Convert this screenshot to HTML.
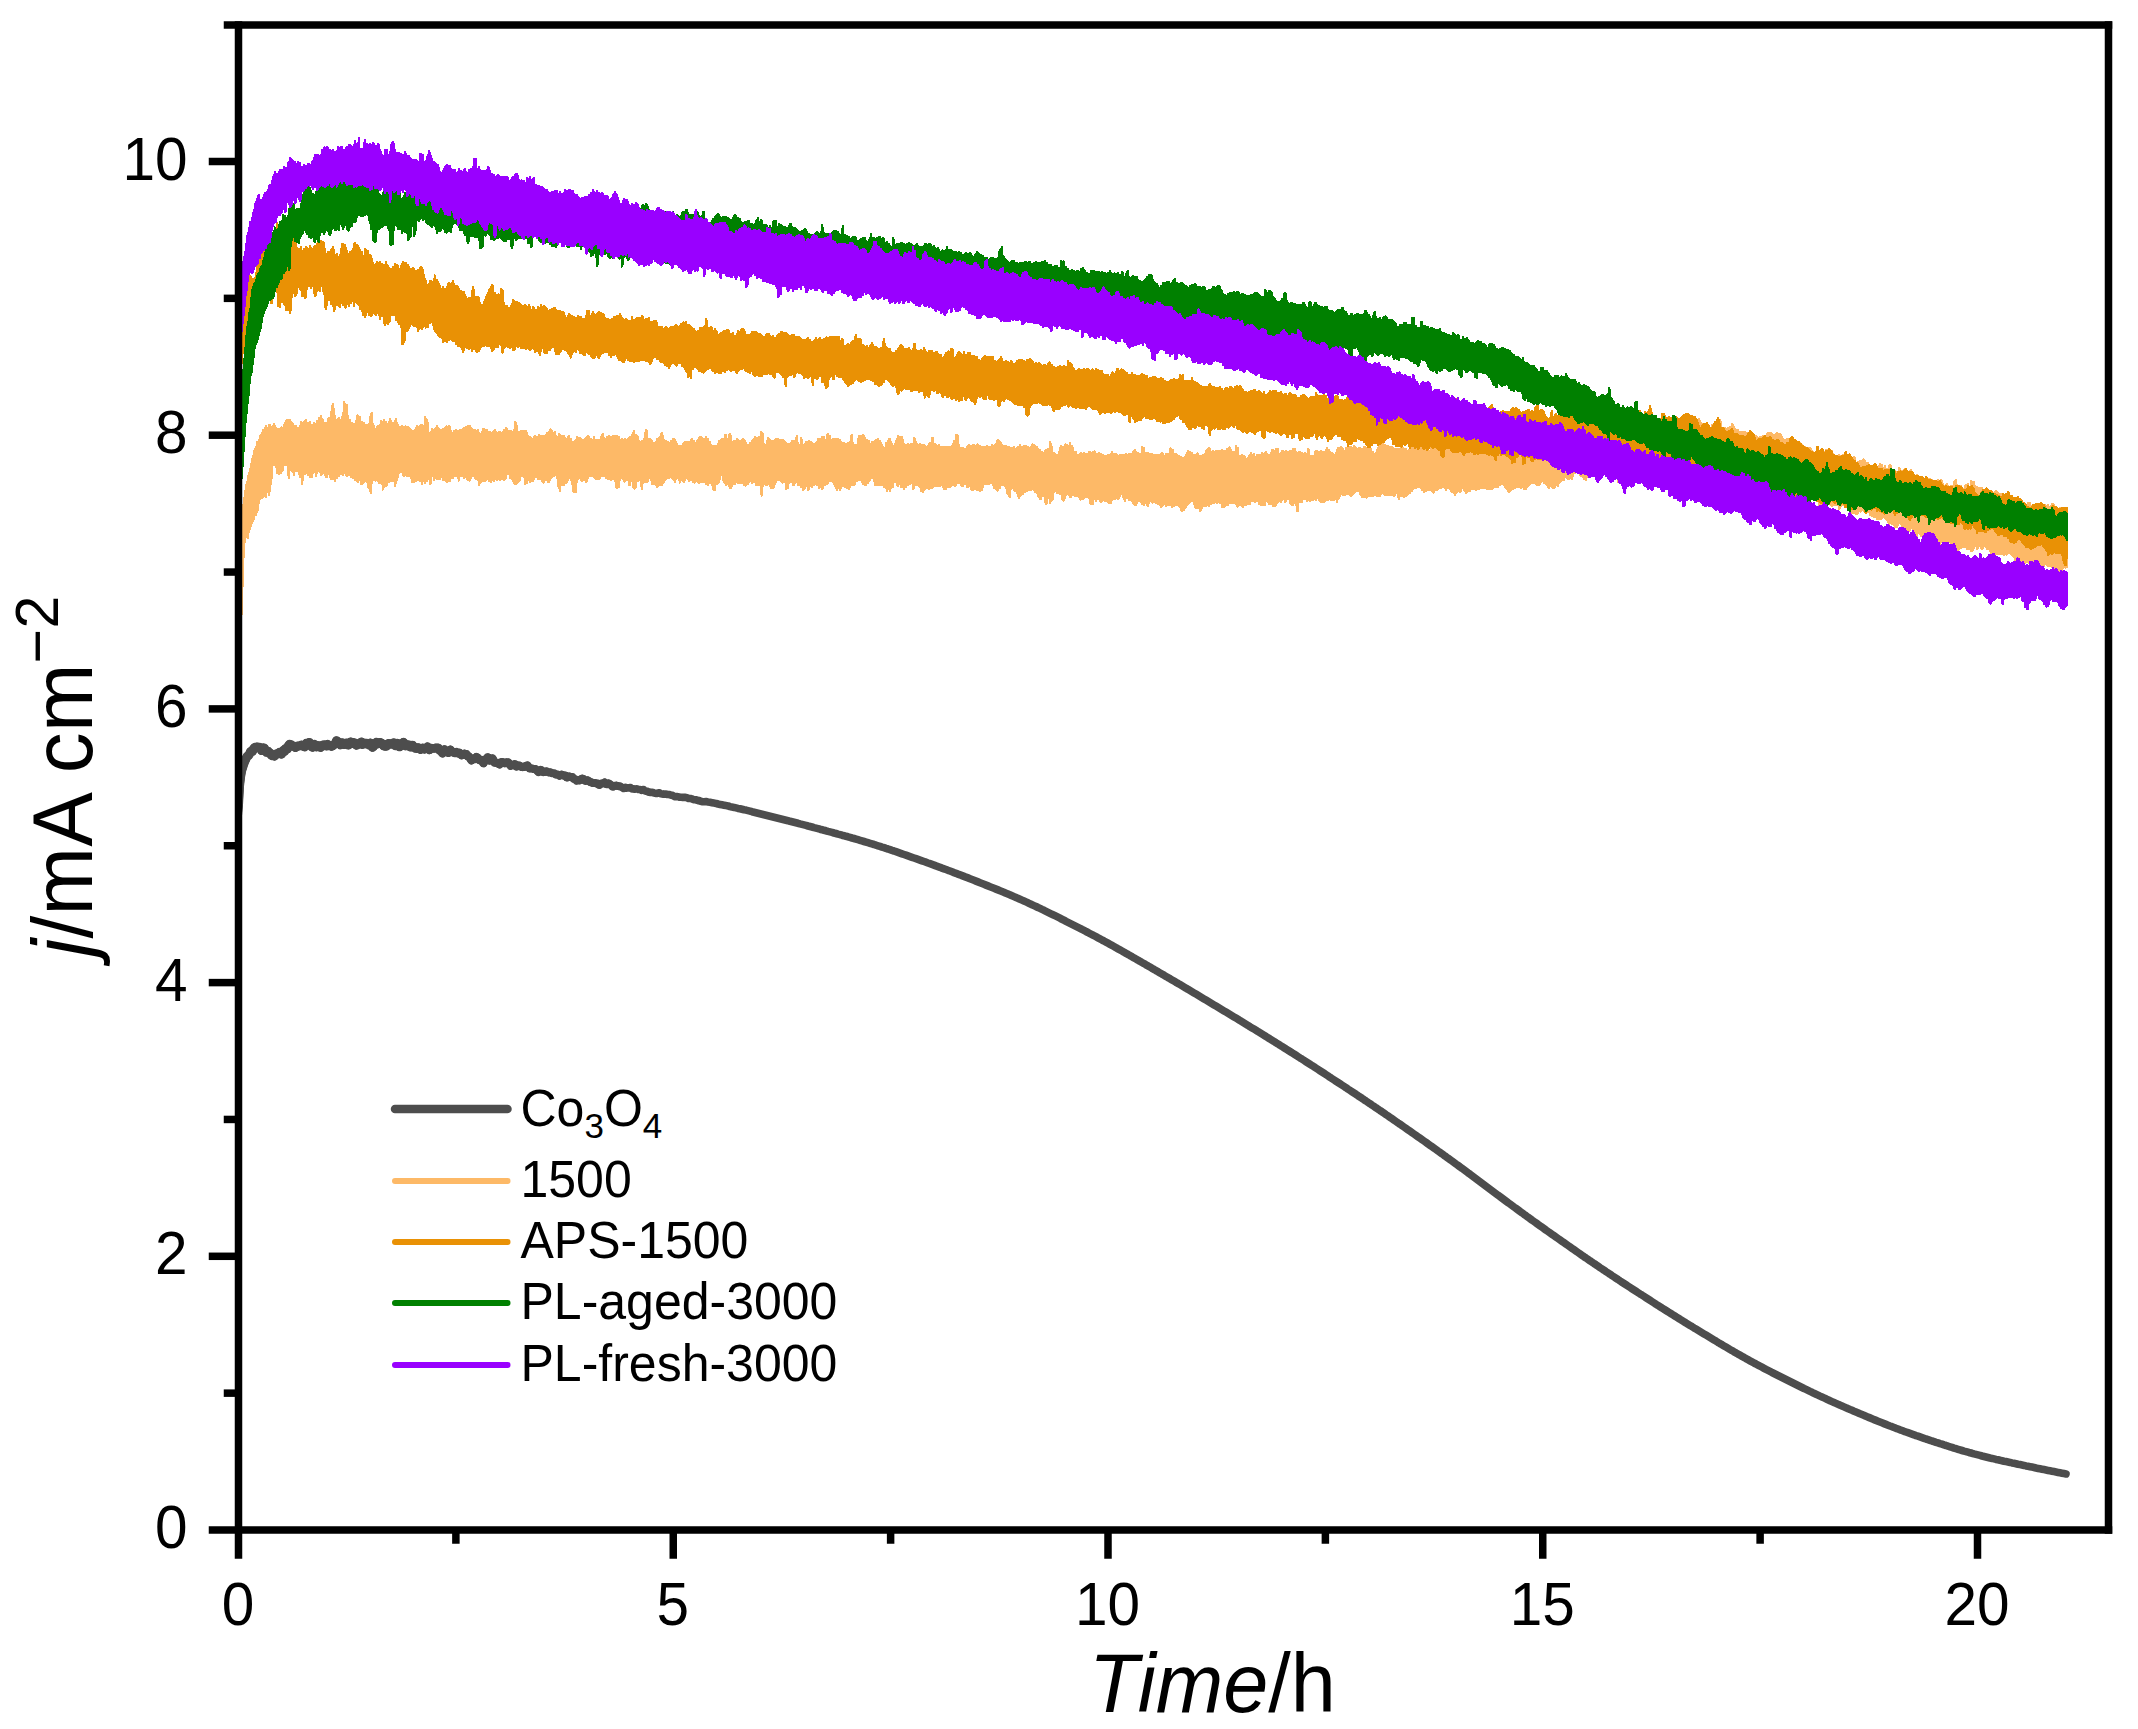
<!DOCTYPE html>
<html lang="en">
<head>
<meta charset="utf-8">
<title>Chronoamperometry: j/mA cm-2 vs Time/h</title>
<style>
html,body{margin:0;padding:0;background:#fff;}
body{width:2138px;height:1729px;overflow:hidden;font-family:'Liberation Sans', sans-serif;}
svg{display:block;}
</style>
</head>
<body>
<svg width="2138" height="1729" viewBox="0 0 2138 1729">
<rect width="2138" height="1729" fill="#fff"/>
<defs><clipPath id="plot"><rect x="238.5" y="25.0" width="1870.0" height="1505.0"/></clipPath></defs>
<g id="curves" clip-path="url(#plot)">
<path d="M237.5,815.0 238.5,804.0 239.5,785.7 240.5,777.1 241.5,771.0 242.5,767.8 243.5,764.6 244.5,761.9 245.5,759.8 246.5,757.6 247.5,756.0 248.5,755.5 249.5,754.0 250.5,751.7 251.5,751.0 252.5,751.2 253.5,748.9 254.5,747.7 255.5,747.3 256.5,747.1 257.5,747.0 258.5,747.4 259.5,747.3 260.5,748.2 261.5,750.5 262.5,749.9 263.5,747.9 264.5,748.4 265.5,750.9 266.5,752.3 267.5,752.1 268.5,751.7 269.5,753.4 270.5,753.3 271.5,755.4 272.5,755.8 273.5,755.5 274.5,756.1 275.5,755.1 276.5,753.8 277.5,754.0 278.5,753.7 279.5,752.4 280.5,752.3 281.5,754.1 282.5,751.8 283.5,750.3 284.5,751.4 285.5,748.7 286.5,749.2 287.5,749.0 288.5,745.6 289.5,744.4 290.5,745.6 291.5,745.0 292.5,745.8 293.5,746.2 294.5,746.3 295.5,747.5 296.5,746.7 297.5,746.1 298.5,746.1 299.5,745.9 300.5,745.6 301.5,745.0 302.5,745.3 303.5,746.4 304.5,746.8 305.5,744.6 306.5,743.2 307.5,744.3 308.5,742.7 309.5,742.5 310.5,744.7 311.5,746.5 312.5,747.2 313.5,745.3 314.5,744.5 315.5,745.2 316.5,746.9 317.5,746.7 318.5,745.7 319.5,747.0 320.5,747.4 321.5,746.3 322.5,745.2 323.5,745.0 324.5,744.9 325.5,745.7 326.5,746.0 327.5,744.4 328.5,745.4 329.5,745.4 330.5,745.6 331.5,746.3 332.5,745.9 333.5,745.0 334.5,744.3 335.5,743.2 336.5,740.8 337.5,741.5 338.5,742.1 339.5,742.5 340.5,744.7 341.5,744.3 342.5,742.9 343.5,743.7 344.5,744.4 345.5,744.1 346.5,743.2 347.5,743.8 348.5,745.0 349.5,742.7 350.5,742.0 351.5,743.4 352.5,742.7 353.5,742.5 354.5,743.0 355.5,743.2 356.5,745.2 357.5,744.5 358.5,744.3 359.5,743.8 360.5,742.8 361.5,742.1 362.5,744.4 363.5,743.1 364.5,743.8 365.5,743.4 366.5,743.2 367.5,744.2 368.5,744.2 369.5,745.1 370.5,743.0 371.5,744.2 372.5,747.3 373.5,746.5 374.5,744.5 375.5,743.8 376.5,742.3 377.5,743.8 378.5,743.5 379.5,742.6 380.5,742.6 381.5,743.2 382.5,743.7 383.5,745.7 384.5,746.1 385.5,746.2 386.5,746.1 387.5,744.4 388.5,743.6 389.5,744.0 390.5,743.8 391.5,744.1 392.5,743.6 393.5,742.9 394.5,743.0 395.5,745.6 396.5,745.5 397.5,743.4 398.5,744.6 399.5,746.8 400.5,745.6 401.5,744.1 402.5,744.0 403.5,742.3 404.5,744.1 405.5,745.8 406.5,745.6 407.5,745.0 408.5,744.9 409.5,746.5 410.5,747.0 411.5,746.6 412.5,745.2 413.5,746.7 414.5,747.5 415.5,748.2 416.5,748.4 417.5,747.8 418.5,747.7 419.5,748.4 420.5,749.7 421.5,748.5 422.5,747.9 423.5,748.9 424.5,749.4 425.5,748.9 426.5,748.5 427.5,746.6 428.5,747.9 429.5,750.0 430.5,749.0 431.5,748.1 432.5,748.4 433.5,748.5 434.5,748.5 435.5,747.7 436.5,747.8 437.5,747.7 438.5,747.9 439.5,750.5 440.5,750.4 441.5,752.0 442.5,753.3 443.5,751.8 444.5,749.5 445.5,751.6 446.5,751.5 447.5,751.3 448.5,752.7 449.5,751.5 450.5,749.8 451.5,751.1 452.5,752.1 453.5,752.2 454.5,752.9 455.5,752.9 456.5,752.2 457.5,753.0 458.5,753.5 459.5,752.9 460.5,754.1 461.5,755.1 462.5,754.8 463.5,754.1 464.5,753.7 465.5,754.9 466.5,754.4 467.5,756.1 468.5,756.2 469.5,757.4 470.5,758.8 471.5,760.2 472.5,758.9 473.5,758.6 474.5,759.1 475.5,758.9 476.5,757.2 477.5,757.6 478.5,759.1 479.5,760.0 480.5,759.8 481.5,760.1 482.5,761.6 483.5,763.1 484.5,760.3 485.5,759.5 486.5,759.3 487.5,757.5 488.5,757.7 489.5,760.4 490.5,760.2 491.5,758.8 492.5,758.6 493.5,760.8 494.5,762.5 495.5,762.5 496.5,762.8 497.5,763.0 498.5,763.6 499.5,764.3 500.5,763.3 501.5,762.1 502.5,762.1 503.5,762.2 504.5,763.3 505.5,763.0 506.5,762.3 507.5,763.3 508.5,762.5 509.5,763.7 510.5,765.8 511.5,764.9 512.5,765.0 513.5,765.4 514.5,764.1 515.5,764.4 516.5,766.6 517.5,766.4 518.5,765.5 519.5,765.6 520.5,766.3 521.5,767.0 522.5,767.2 523.5,766.5 524.5,766.9 525.5,766.8 526.5,765.6 527.5,765.3 528.5,766.7 529.5,768.5 530.5,768.3 531.5,768.5 532.5,768.5 533.5,769.0 534.5,769.2 535.5,769.1 536.5,770.1 537.5,771.1 538.5,772.1 539.5,771.2 540.5,769.9 541.5,770.2 542.5,771.9 543.5,772.2 544.5,772.0 545.5,771.5 546.5,771.3 547.5,771.9 548.5,772.4 549.5,772.3 550.5,772.3 551.5,772.8 552.5,773.3 553.5,773.3 554.5,773.5 555.5,774.3 556.5,774.6 557.5,774.6 558.5,774.7 559.5,775.8 560.5,775.2 561.5,774.6 562.5,774.8 563.5,775.6 564.5,775.5 565.5,775.6 566.5,777.5 567.5,777.4 568.5,776.5 569.5,776.4 570.5,777.0 571.5,777.2 572.5,777.1 573.5,778.7 574.5,779.1 575.5,779.3 576.5,780.6 577.5,780.3 578.5,779.9 579.5,780.4 580.5,779.8 581.5,778.7 582.5,778.6 583.5,779.0 584.5,780.4 585.5,780.9 586.5,780.6 587.5,780.2 588.5,780.9 589.5,781.6 590.5,782.2 591.5,782.3 592.5,783.0 593.5,783.1 594.5,782.9 595.5,783.2 596.5,783.5 597.5,783.6 598.5,784.6 599.5,784.9 600.5,783.9 601.5,783.5 602.5,783.4 603.5,783.2 604.5,782.5 605.5,783.6 606.5,784.3 607.5,784.3 608.5,783.4 609.5,783.9 610.5,784.7 611.5,785.4 612.5,786.6 613.5,786.6 614.5,785.7 615.5,785.7 616.5,785.6 617.5,786.0 618.5,786.2 619.5,786.2 620.5,786.6 621.5,787.0 622.5,787.8 623.5,788.4 624.5,787.8 625.5,787.4 626.5,788.2 627.5,787.9 628.5,787.9 629.5,787.8 630.5,787.5 631.5,788.6 632.5,789.0 633.5,788.9 634.5,789.3 635.5,789.1 636.5,788.7 637.5,789.2 638.5,789.5 639.5,789.5 640.5,789.7 641.5,790.4 642.5,789.7 643.5,789.5 644.5,790.7 645.5,791.2 646.5,791.0 647.5,791.5 648.5,792.0 649.5,792.3 650.5,792.5 651.5,792.2 652.5,792.2 653.5,792.9 654.5,793.2 655.5,793.2 656.5,793.5 657.5,793.2 658.5,792.9 659.5,792.9 660.5,793.8 661.5,793.8 662.5,794.1 663.5,794.3 664.5,794.0 665.5,794.0 666.5,794.2 667.5,794.5 668.5,794.5 669.5,794.6 670.5,795.0 671.5,795.2 672.5,795.3 673.5,796.0 674.5,796.6 675.5,796.5 676.5,796.5 677.5,796.8 678.5,796.7 679.5,797.1 680.5,797.2 681.5,797.3 682.5,797.4 683.5,797.3 684.5,797.5 685.5,797.4 686.5,797.7 687.5,798.0 688.5,798.4 689.5,798.5 690.5,798.5 691.5,798.7 692.5,799.2 693.5,799.7 694.5,799.7 695.5,799.7 696.5,800.0 697.5,800.3 698.5,800.7 699.5,800.6 700.0,801.0 702.0,801.6 704.0,801.7 706.0,801.6 708.0,802.0 710.0,802.3 712.0,802.7 714.0,803.1 716.0,803.4 718.0,804.0 720.0,804.4 722.0,804.8 724.0,805.2 726.0,805.6 728.0,805.9 730.0,806.6 732.0,807.1 734.0,807.4 736.0,807.9 738.0,808.4 740.0,808.8 742.0,809.3 744.0,809.8 746.0,810.1 748.0,810.6 750.0,811.1 752.0,811.7 754.0,812.2 756.0,812.7 758.0,813.2 760.0,813.7 762.0,814.2 764.0,814.7 766.0,815.2 768.0,815.7 770.0,816.2 772.0,816.7 774.0,817.2 776.0,817.7 778.0,818.2 780.0,818.7 782.0,819.2 784.0,819.7 786.0,820.2 788.0,820.7 790.0,821.3 792.0,821.8 794.0,822.3 796.0,822.8 798.0,823.3 800.0,823.9 802.0,824.4 804.0,824.9 806.0,825.4 808.0,826.0 810.0,826.5 812.0,827.0 814.0,827.6 816.0,828.1 818.0,828.6 820.0,829.2 822.0,829.7 824.0,830.3 826.0,830.8 828.0,831.4 830.0,831.9 832.0,832.4 834.0,833.0 836.0,833.5 838.0,834.1 840.0,834.6 842.0,835.2 844.0,835.7 846.0,836.3 848.0,836.8 850.0,837.4 852.0,838.0 854.0,838.5 856.0,839.1 858.0,839.7 860.0,840.3 862.0,840.9 864.0,841.5 866.0,842.1 868.0,842.7 870.0,843.3 872.0,843.9 874.0,844.5 876.0,845.2 878.0,845.8 880.0,846.4 882.0,847.1 884.0,847.7 886.0,848.4 888.0,849.0 890.0,849.7 892.0,850.4 894.0,851.0 896.0,851.7 898.0,852.4 900.0,853.1 902.0,853.8 904.0,854.5 906.0,855.2 908.0,855.9 910.0,856.6 912.0,857.3 914.0,858.0 916.0,858.7 918.0,859.4 920.0,860.1 922.0,860.8 924.0,861.5 926.0,862.2 928.0,863.0 930.0,863.7 932.0,864.4 934.0,865.1 936.0,865.9 938.0,866.6 940.0,867.3 942.0,868.1 944.0,868.8 946.0,869.5 948.0,870.3 950.0,871.0 952.0,871.8 954.0,872.6 956.0,873.3 958.0,874.1 960.0,874.8 962.0,875.6 964.0,876.4 966.0,877.2 968.0,877.9 970.0,878.7 972.0,879.5 974.0,880.3 976.0,881.1 978.0,881.9 980.0,882.7 982.0,883.5 984.0,884.3 986.0,885.1 988.0,885.9 990.0,886.7 992.0,887.5 994.0,888.3 996.0,889.1 998.0,889.9 1000.0,890.7 1002.0,891.5 1004.0,892.4 1006.0,893.2 1008.0,894.0 1010.0,894.9 1012.0,895.7 1014.0,896.6 1016.0,897.5 1018.0,898.4 1020.0,899.2 1022.0,900.1 1024.0,901.0 1026.0,901.9 1028.0,902.8 1030.0,903.8 1032.0,904.7 1034.0,905.6 1036.0,906.5 1038.0,907.5 1040.0,908.4 1042.0,909.4 1044.0,910.3 1046.0,911.3 1048.0,912.3 1050.0,913.3 1052.0,914.3 1054.0,915.2 1056.0,916.2 1058.0,917.2 1060.0,918.2 1062.0,919.3 1064.0,920.2 1066.0,921.3 1068.0,922.3 1070.0,923.3 1072.0,924.3 1074.0,925.3 1076.0,926.3 1078.0,927.3 1080.0,928.3 1082.0,929.4 1084.0,930.4 1086.0,931.5 1088.0,932.5 1090.0,933.6 1092.0,934.6 1094.0,935.7 1096.0,936.7 1098.0,937.8 1100.0,938.9 1102.0,940.0 1104.0,941.0 1106.0,942.1 1108.0,943.2 1110.0,944.3 1112.0,945.4 1114.0,946.5 1116.0,947.7 1118.0,948.8 1120.0,949.9 1122.0,951.0 1124.0,952.2 1126.0,953.3 1128.0,954.4 1130.0,955.6 1132.0,956.7 1134.0,957.9 1136.0,959.0 1138.0,960.2 1140.0,961.3 1142.0,962.5 1144.0,963.6 1146.0,964.8 1148.0,965.9 1150.0,967.1 1152.0,968.3 1154.0,969.4 1156.0,970.6 1158.0,971.7 1160.0,972.9 1162.0,974.1 1164.0,975.2 1166.0,976.4 1168.0,977.6 1170.0,978.7 1172.0,979.9 1174.0,981.1 1176.0,982.3 1178.0,983.4 1180.0,984.6 1182.0,985.8 1184.0,987.0 1186.0,988.2 1188.0,989.3 1190.0,990.5 1192.0,991.7 1194.0,992.9 1196.0,994.1 1198.0,995.3 1200.0,996.5 1202.0,997.7 1204.0,998.9 1206.0,1000.1 1208.0,1001.3 1210.0,1002.5 1212.0,1003.7 1214.0,1004.9 1216.0,1006.1 1218.0,1007.3 1220.0,1008.5 1222.0,1009.7 1224.0,1010.9 1226.0,1012.1 1228.0,1013.3 1230.0,1014.5 1232.0,1015.7 1234.0,1016.9 1236.0,1018.1 1238.0,1019.3 1240.0,1020.6 1242.0,1021.8 1244.0,1023.0 1246.0,1024.2 1248.0,1025.4 1250.0,1026.7 1252.0,1027.9 1254.0,1029.1 1256.0,1030.3 1258.0,1031.6 1260.0,1032.8 1262.0,1034.0 1264.0,1035.2 1266.0,1036.5 1268.0,1037.7 1270.0,1039.0 1272.0,1040.2 1274.0,1041.4 1276.0,1042.7 1278.0,1043.9 1280.0,1045.2 1282.0,1046.4 1284.0,1047.7 1286.0,1049.0 1288.0,1050.2 1290.0,1051.5 1292.0,1052.8 1294.0,1054.0 1296.0,1055.3 1298.0,1056.6 1300.0,1057.9 1302.0,1059.1 1304.0,1060.4 1306.0,1061.7 1308.0,1063.0 1310.0,1064.3 1312.0,1065.6 1314.0,1066.8 1316.0,1068.1 1318.0,1069.4 1320.0,1070.7 1322.0,1072.0 1324.0,1073.3 1326.0,1074.6 1328.0,1075.9 1330.0,1077.3 1332.0,1078.6 1334.0,1079.9 1336.0,1081.2 1338.0,1082.5 1340.0,1083.8 1342.0,1085.1 1344.0,1086.4 1346.0,1087.7 1348.0,1089.1 1350.0,1090.4 1352.0,1091.7 1354.0,1093.0 1356.0,1094.3 1358.0,1095.7 1360.0,1097.0 1362.0,1098.3 1364.0,1099.7 1366.0,1101.0 1368.0,1102.4 1370.0,1103.7 1372.0,1105.1 1374.0,1106.4 1376.0,1107.8 1378.0,1109.1 1380.0,1110.5 1382.0,1111.8 1384.0,1113.2 1386.0,1114.6 1388.0,1115.9 1390.0,1117.3 1392.0,1118.7 1394.0,1120.1 1396.0,1121.5 1398.0,1122.9 1400.0,1124.2 1402.0,1125.6 1404.0,1127.0 1406.0,1128.4 1408.0,1129.8 1410.0,1131.2 1412.0,1132.6 1414.0,1134.0 1416.0,1135.4 1418.0,1136.8 1420.0,1138.2 1422.0,1139.6 1424.0,1141.0 1426.0,1142.4 1428.0,1143.9 1430.0,1145.3 1432.0,1146.7 1434.0,1148.1 1436.0,1149.5 1438.0,1151.0 1440.0,1152.4 1442.0,1153.8 1444.0,1155.3 1446.0,1156.7 1448.0,1158.2 1450.0,1159.6 1452.0,1161.0 1454.0,1162.5 1456.0,1164.0 1458.0,1165.4 1460.0,1166.9 1462.0,1168.3 1464.0,1169.8 1466.0,1171.3 1468.0,1172.8 1470.0,1174.2 1472.0,1175.7 1474.0,1177.2 1476.0,1178.7 1478.0,1180.2 1480.0,1181.7 1482.0,1183.2 1484.0,1184.7 1486.0,1186.2 1488.0,1187.7 1490.0,1189.2 1492.0,1190.7 1494.0,1192.2 1496.0,1193.7 1498.0,1195.2 1500.0,1196.6 1502.0,1198.1 1504.0,1199.6 1506.0,1201.1 1508.0,1202.6 1510.0,1204.0 1512.0,1205.5 1514.0,1207.0 1516.0,1208.4 1518.0,1209.9 1520.0,1211.4 1522.0,1212.8 1524.0,1214.3 1526.0,1215.7 1528.0,1217.2 1530.0,1218.6 1532.0,1220.1 1534.0,1221.5 1536.0,1222.9 1538.0,1224.4 1540.0,1225.8 1542.0,1227.2 1544.0,1228.6 1546.0,1230.1 1548.0,1231.5 1550.0,1232.9 1552.0,1234.3 1554.0,1235.7 1556.0,1237.1 1558.0,1238.5 1560.0,1239.9 1562.0,1241.3 1564.0,1242.7 1566.0,1244.1 1568.0,1245.5 1570.0,1246.9 1572.0,1248.3 1574.0,1249.7 1576.0,1251.1 1578.0,1252.5 1580.0,1253.9 1582.0,1255.3 1584.0,1256.7 1586.0,1258.0 1588.0,1259.4 1590.0,1260.8 1592.0,1262.1 1594.0,1263.5 1596.0,1264.8 1598.0,1266.2 1600.0,1267.6 1602.0,1268.9 1604.0,1270.2 1606.0,1271.6 1608.0,1272.9 1610.0,1274.2 1612.0,1275.6 1614.0,1276.9 1616.0,1278.2 1618.0,1279.5 1620.0,1280.9 1622.0,1282.2 1624.0,1283.5 1626.0,1284.8 1628.0,1286.1 1630.0,1287.4 1632.0,1288.7 1634.0,1290.0 1636.0,1291.3 1638.0,1292.6 1640.0,1293.9 1642.0,1295.1 1644.0,1296.4 1646.0,1297.7 1648.0,1299.0 1650.0,1300.3 1652.0,1301.6 1654.0,1302.9 1656.0,1304.2 1658.0,1305.4 1660.0,1306.7 1662.0,1308.0 1664.0,1309.2 1666.0,1310.5 1668.0,1311.8 1670.0,1313.0 1672.0,1314.3 1674.0,1315.5 1676.0,1316.8 1678.0,1318.0 1680.0,1319.3 1682.0,1320.5 1684.0,1321.7 1686.0,1323.0 1688.0,1324.2 1690.0,1325.4 1692.0,1326.6 1694.0,1327.9 1696.0,1329.1 1698.0,1330.3 1700.0,1331.5 1702.0,1332.7 1704.0,1333.9 1706.0,1335.1 1708.0,1336.3 1710.0,1337.5 1712.0,1338.7 1714.0,1339.9 1716.0,1341.1 1718.0,1342.4 1720.0,1343.6 1722.0,1344.7 1724.0,1345.9 1726.0,1347.1 1728.0,1348.3 1730.0,1349.5 1732.0,1350.6 1734.0,1351.8 1736.0,1352.9 1738.0,1354.1 1740.0,1355.2 1742.0,1356.3 1744.0,1357.4 1746.0,1358.6 1748.0,1359.7 1750.0,1360.8 1752.0,1361.9 1754.0,1363.0 1756.0,1364.0 1758.0,1365.1 1760.0,1366.2 1762.0,1367.2 1764.0,1368.3 1766.0,1369.4 1768.0,1370.4 1770.0,1371.4 1772.0,1372.5 1774.0,1373.5 1776.0,1374.5 1778.0,1375.5 1780.0,1376.5 1782.0,1377.5 1784.0,1378.5 1786.0,1379.5 1788.0,1380.5 1790.0,1381.5 1792.0,1382.5 1794.0,1383.5 1796.0,1384.5 1798.0,1385.5 1800.0,1386.5 1802.0,1387.5 1804.0,1388.5 1806.0,1389.4 1808.0,1390.4 1810.0,1391.4 1812.0,1392.3 1814.0,1393.3 1816.0,1394.2 1818.0,1395.1 1820.0,1396.1 1822.0,1397.0 1824.0,1397.9 1826.0,1398.8 1828.0,1399.8 1830.0,1400.7 1832.0,1401.6 1834.0,1402.5 1836.0,1403.4 1838.0,1404.3 1840.0,1405.1 1842.0,1406.0 1844.0,1406.9 1846.0,1407.8 1848.0,1408.6 1850.0,1409.5 1852.0,1410.3 1854.0,1411.2 1856.0,1412.0 1858.0,1412.9 1860.0,1413.7 1862.0,1414.5 1864.0,1415.4 1866.0,1416.2 1868.0,1417.1 1870.0,1417.9 1872.0,1418.7 1874.0,1419.6 1876.0,1420.4 1878.0,1421.2 1880.0,1422.0 1882.0,1422.8 1884.0,1423.6 1886.0,1424.4 1888.0,1425.2 1890.0,1426.0 1892.0,1426.7 1894.0,1427.5 1896.0,1428.3 1898.0,1429.0 1900.0,1429.8 1902.0,1430.5 1904.0,1431.3 1906.0,1432.0 1908.0,1432.7 1910.0,1433.4 1912.0,1434.1 1914.0,1434.8 1916.0,1435.6 1918.0,1436.2 1920.0,1436.9 1922.0,1437.6 1924.0,1438.3 1926.0,1439.0 1928.0,1439.6 1930.0,1440.3 1932.0,1441.0 1934.0,1441.6 1936.0,1442.3 1938.0,1442.9 1940.0,1443.6 1942.0,1444.2 1944.0,1444.9 1946.0,1445.5 1948.0,1446.2 1950.0,1446.8 1952.0,1447.4 1954.0,1448.1 1956.0,1448.7 1958.0,1449.3 1960.0,1449.9 1962.0,1450.5 1964.0,1451.1 1966.0,1451.6 1968.0,1452.2 1970.0,1452.8 1972.0,1453.3 1974.0,1453.9 1976.0,1454.4 1978.0,1454.9 1980.0,1455.4 1982.0,1456.0 1984.0,1456.5 1986.0,1457.0 1988.0,1457.5 1990.0,1458.0 1992.0,1458.4 1994.0,1458.9 1996.0,1459.4 1998.0,1459.8 2000.0,1460.3 2002.0,1460.7 2004.0,1461.2 2006.0,1461.6 2008.0,1462.0 2010.0,1462.4 2012.0,1462.9 2014.0,1463.3 2016.0,1463.7 2018.0,1464.2 2020.0,1464.6 2022.0,1465.0 2024.0,1465.4 2026.0,1465.9 2028.0,1466.3 2030.0,1466.7 2032.0,1467.1 2034.0,1467.5 2036.0,1468.0 2038.0,1468.4 2040.0,1468.8 2042.0,1469.2 2044.0,1469.6 2046.0,1470.0 2048.0,1470.4 2050.0,1470.8 2052.0,1471.2 2054.0,1471.6 2056.0,1472.0 2058.0,1472.4 2060.0,1472.8 2062.0,1473.2 2064.0,1473.6 2066.0,1474.0" fill="none" stroke="#4d4d4d" stroke-width="7.6" stroke-linejoin="round" stroke-linecap="round"/>
<path d="M237.5,815.0 238.5,804.0 239.5,785.7 240.5,777.1 241.5,771.0 242.5,767.8 243.5,764.6 244.5,761.9 245.5,759.8 246.5,757.6 247.5,756.0 248.5,755.5 249.5,754.0 250.5,751.7 251.5,751.0 252.5,751.2 253.5,748.9 254.5,747.7 255.5,747.3 256.5,747.1 257.5,747.0 258.5,747.4 259.5,747.3 260.5,748.2 261.5,750.5 262.5,749.9 263.5,747.9 264.5,748.4 265.5,750.9 266.5,752.3 267.5,752.1 268.5,751.7 269.5,753.4 270.5,753.3 271.5,755.4 272.5,755.8 273.5,755.5 274.5,756.1 275.5,755.1 276.5,753.8 277.5,754.0 278.5,753.7 279.5,752.4 280.5,752.3 281.5,754.1 282.5,751.8 283.5,750.3 284.5,751.4 285.5,748.7 286.5,749.2 287.5,749.0 288.5,745.6 289.5,744.4 290.5,745.6 291.5,745.0 292.5,745.8 293.5,746.2 294.5,746.3 295.5,747.5 296.5,746.7 297.5,746.1 298.5,746.1 299.5,745.9 300.5,745.6 301.5,745.0 302.5,745.3 303.5,746.4 304.5,746.8 305.5,744.6 306.5,743.2 307.5,744.3 308.5,742.7 309.5,742.5 310.5,744.7 311.5,746.5 312.5,747.2 313.5,745.3 314.5,744.5 315.5,745.2 316.5,746.9 317.5,746.7 318.5,745.7 319.5,747.0 320.5,747.4 321.5,746.3 322.5,745.2 323.5,745.0 324.5,744.9 325.5,745.7 326.5,746.0 327.5,744.4 328.5,745.4 329.5,745.4 330.5,745.6 331.5,746.3 332.5,745.9 333.5,745.0 334.5,744.3 335.5,743.2 336.5,740.8 337.5,741.5 338.5,742.1 339.5,742.5 340.5,744.7 341.5,744.3 342.5,742.9 343.5,743.7 344.5,744.4 345.5,744.1 346.5,743.2 347.5,743.8 348.5,745.0 349.5,742.7 350.5,742.0 351.5,743.4 352.5,742.7 353.5,742.5 354.5,743.0 355.5,743.2 356.5,745.2 357.5,744.5 358.5,744.3 359.5,743.8 360.5,742.8 361.5,742.1 362.5,744.4 363.5,743.1 364.5,743.8 365.5,743.4 366.5,743.2 367.5,744.2 368.5,744.2 369.5,745.1 370.5,743.0 371.5,744.2 372.5,747.3 373.5,746.5 374.5,744.5 375.5,743.8 376.5,742.3 377.5,743.8 378.5,743.5 379.5,742.6 380.5,742.6 381.5,743.2 382.5,743.7 383.5,745.7 384.5,746.1 385.5,746.2 386.5,746.1 387.5,744.4 388.5,743.6 389.5,744.0 390.5,743.8 391.5,744.1 392.5,743.6 393.5,742.9 394.5,743.0 395.5,745.6 396.5,745.5 397.5,743.4 398.5,744.6 399.5,746.8 400.5,745.6 401.5,744.1 402.5,744.0 403.5,742.3 404.5,744.1 405.5,745.8 406.5,745.6 407.5,745.0 408.5,744.9 409.5,746.5 410.5,747.0 411.5,746.6 412.5,745.2 413.5,746.7 414.5,747.5 415.5,748.2 416.5,748.4 417.5,747.8 418.5,747.7 419.5,748.4 420.5,749.7 421.5,748.5 422.5,747.9 423.5,748.9 424.5,749.4 425.5,748.9 426.5,748.5 427.5,746.6 428.5,747.9 429.5,750.0 430.5,749.0 431.5,748.1 432.5,748.4 433.5,748.5 434.5,748.5 435.5,747.7 436.5,747.8 437.5,747.7 438.5,747.9 439.5,750.5 440.5,750.4 441.5,752.0 442.5,753.3 443.5,751.8 444.5,749.5 445.5,751.6 446.5,751.5 447.5,751.3 448.5,752.7 449.5,751.5 450.5,749.8 451.5,751.1 452.5,752.1 453.5,752.2 454.5,752.9 455.5,752.9 456.5,752.2 457.5,753.0 458.5,753.5 459.5,752.9 460.5,754.1 461.5,755.1 462.5,754.8 463.5,754.1 464.5,753.7 465.5,754.9 466.5,754.4 467.5,756.1 468.5,756.2 469.5,757.4 470.5,758.8 471.5,760.2 472.5,758.9 473.5,758.6 474.5,759.1 475.5,758.9 476.5,757.2 477.5,757.6 478.5,759.1 479.5,760.0 480.5,759.8 481.5,760.1 482.5,761.6 483.5,763.1 484.5,760.3 485.5,759.5 486.5,759.3 487.5,757.5 488.5,757.7 489.5,760.4 490.5,760.2 491.5,758.8 492.5,758.6 493.5,760.8 494.5,762.5 495.5,762.5 496.5,762.8 497.5,763.0 498.5,763.6 499.5,764.3 500.5,763.3 501.5,762.1 502.5,762.1 503.5,762.2 504.5,763.3 505.5,763.0 506.5,762.3 507.5,763.3 508.5,762.5 509.5,763.7 510.5,765.8 511.5,764.9 512.5,765.0 513.5,765.4 514.5,764.1 515.5,764.4 516.5,766.6 517.5,766.4 518.5,765.5 519.5,765.6 520.5,766.3 521.5,767.0 522.5,767.2 523.5,766.5 524.5,766.9 525.5,766.8 526.5,765.6 527.5,765.3 528.5,766.7 529.5,768.5 530.5,768.3 531.5,768.5 532.5,768.5 533.5,769.0 534.5,769.2 535.5,769.1 536.5,770.1 537.5,771.1 538.5,772.1 539.5,771.2 540.5,769.9 541.5,770.2 542.5,771.9 543.5,772.2 544.5,772.0 545.5,771.5 546.5,771.3 547.5,771.9 548.5,772.4 549.5,772.3 550.5,772.3 551.5,772.8 552.5,773.3 553.5,773.3 554.5,773.5 555.5,774.3 556.5,774.6 557.5,774.6 558.5,774.7 559.5,775.8 560.5,775.2 561.5,774.6 562.5,774.8 563.5,775.6 564.5,775.5 565.5,775.6 566.5,777.5 567.5,777.4 568.5,776.5 569.5,776.4 570.5,777.0 571.5,777.2 572.5,777.1 573.5,778.7 574.5,779.1 575.5,779.3 576.5,780.6 577.5,780.3 578.5,779.9 579.5,780.4 580.5,779.8 581.5,778.7 582.5,778.6 583.5,779.0 584.5,780.4 585.5,780.9 586.5,780.6 587.5,780.2 588.5,780.9 589.5,781.6 590.5,782.2 591.5,782.3 592.5,783.0 593.5,783.1 594.5,782.9 595.5,783.2 596.5,783.5 597.5,783.6 598.5,784.6 599.5,784.9 600.5,783.9 601.5,783.5 602.5,783.4 603.5,783.2 604.5,782.5 605.5,783.6 606.5,784.3 607.5,784.3 608.5,783.4 609.5,783.9 610.5,784.7 611.5,785.4 612.5,786.6 613.5,786.6 614.5,785.7 615.5,785.7 616.5,785.6 617.5,786.0 618.5,786.2 619.5,786.2" fill="none" stroke="#4d4d4d" stroke-width="8.0" stroke-linejoin="round" stroke-linecap="round"/>
<path d="M237.5,815.0 238.5,804.0 239.5,785.7 240.5,777.1 241.5,771.0 242.5,767.8 243.5,764.6 244.5,761.9 245.5,759.8 246.5,757.6 247.5,756.0 248.5,755.5 249.5,754.0 250.5,751.7 251.5,751.0 252.5,751.2 253.5,748.9 254.5,747.7 255.5,747.3 256.5,747.1 257.5,747.0 258.5,747.4 259.5,747.3 260.5,748.2 261.5,750.5 262.5,749.9 263.5,747.9 264.5,748.4 265.5,750.9 266.5,752.3 267.5,752.1 268.5,751.7 269.5,753.4 270.5,753.3 271.5,755.4 272.5,755.8 273.5,755.5 274.5,756.1 275.5,755.1 276.5,753.8 277.5,754.0 278.5,753.7 279.5,752.4 280.5,752.3 281.5,754.1 282.5,751.8 283.5,750.3 284.5,751.4 285.5,748.7 286.5,749.2 287.5,749.0 288.5,745.6 289.5,744.4 290.5,745.6 291.5,745.0 292.5,745.8 293.5,746.2 294.5,746.3 295.5,747.5 296.5,746.7 297.5,746.1 298.5,746.1 299.5,745.9 300.5,745.6 301.5,745.0 302.5,745.3 303.5,746.4 304.5,746.8 305.5,744.6 306.5,743.2 307.5,744.3 308.5,742.7 309.5,742.5 310.5,744.7 311.5,746.5 312.5,747.2 313.5,745.3 314.5,744.5 315.5,745.2 316.5,746.9 317.5,746.7 318.5,745.7 319.5,747.0 320.5,747.4 321.5,746.3 322.5,745.2 323.5,745.0 324.5,744.9 325.5,745.7 326.5,746.0 327.5,744.4 328.5,745.4 329.5,745.4 330.5,745.6 331.5,746.3 332.5,745.9 333.5,745.0 334.5,744.3 335.5,743.2 336.5,740.8 337.5,741.5 338.5,742.1 339.5,742.5 340.5,744.7 341.5,744.3 342.5,742.9 343.5,743.7 344.5,744.4 345.5,744.1 346.5,743.2 347.5,743.8 348.5,745.0 349.5,742.7 350.5,742.0 351.5,743.4 352.5,742.7 353.5,742.5 354.5,743.0 355.5,743.2 356.5,745.2 357.5,744.5 358.5,744.3 359.5,743.8 360.5,742.8 361.5,742.1 362.5,744.4 363.5,743.1 364.5,743.8 365.5,743.4 366.5,743.2 367.5,744.2 368.5,744.2 369.5,745.1 370.5,743.0 371.5,744.2 372.5,747.3 373.5,746.5 374.5,744.5 375.5,743.8 376.5,742.3 377.5,743.8 378.5,743.5 379.5,742.6 380.5,742.6 381.5,743.2 382.5,743.7 383.5,745.7 384.5,746.1 385.5,746.2 386.5,746.1 387.5,744.4 388.5,743.6 389.5,744.0 390.5,743.8 391.5,744.1 392.5,743.6 393.5,742.9 394.5,743.0 395.5,745.6 396.5,745.5 397.5,743.4 398.5,744.6 399.5,746.8 400.5,745.6 401.5,744.1 402.5,744.0 403.5,742.3 404.5,744.1 405.5,745.8 406.5,745.6 407.5,745.0 408.5,744.9 409.5,746.5 410.5,747.0 411.5,746.6 412.5,745.2 413.5,746.7 414.5,747.5 415.5,748.2 416.5,748.4 417.5,747.8 418.5,747.7 419.5,748.4 420.5,749.7 421.5,748.5 422.5,747.9 423.5,748.9 424.5,749.4 425.5,748.9 426.5,748.5 427.5,746.6 428.5,747.9 429.5,750.0 430.5,749.0 431.5,748.1 432.5,748.4 433.5,748.5 434.5,748.5 435.5,747.7 436.5,747.8 437.5,747.7 438.5,747.9 439.5,750.5 440.5,750.4 441.5,752.0 442.5,753.3 443.5,751.8 444.5,749.5 445.5,751.6 446.5,751.5 447.5,751.3 448.5,752.7 449.5,751.5 450.5,749.8 451.5,751.1 452.5,752.1 453.5,752.2 454.5,752.9 455.5,752.9 456.5,752.2 457.5,753.0 458.5,753.5 459.5,752.9 460.5,754.1 461.5,755.1 462.5,754.8 463.5,754.1 464.5,753.7 465.5,754.9 466.5,754.4 467.5,756.1 468.5,756.2 469.5,757.4 470.5,758.8 471.5,760.2 472.5,758.9 473.5,758.6 474.5,759.1 475.5,758.9 476.5,757.2 477.5,757.6 478.5,759.1 479.5,760.0 480.5,759.8 481.5,760.1 482.5,761.6 483.5,763.1 484.5,760.3 485.5,759.5 486.5,759.3 487.5,757.5 488.5,757.7 489.5,760.4 490.5,760.2 491.5,758.8 492.5,758.6 493.5,760.8 494.5,762.5 495.5,762.5 496.5,762.8 497.5,763.0 498.5,763.6 499.5,764.3" fill="none" stroke="#4d4d4d" stroke-width="8.5" stroke-linejoin="round" stroke-linecap="round"/>
<path d="M237.5,815.0 238.5,804.0 239.5,785.7 240.5,777.1 241.5,771.0 242.5,767.8 243.5,764.6 244.5,761.9 245.5,759.8 246.5,757.6 247.5,756.0 248.5,755.5 249.5,754.0 250.5,751.7 251.5,751.0 252.5,751.2 253.5,748.9 254.5,747.7 255.5,747.3 256.5,747.1 257.5,747.0 258.5,747.4 259.5,747.3 260.5,748.2 261.5,750.5 262.5,749.9 263.5,747.9 264.5,748.4 265.5,750.9 266.5,752.3 267.5,752.1 268.5,751.7 269.5,753.4 270.5,753.3 271.5,755.4 272.5,755.8 273.5,755.5 274.5,756.1 275.5,755.1 276.5,753.8 277.5,754.0 278.5,753.7 279.5,752.4 280.5,752.3 281.5,754.1 282.5,751.8 283.5,750.3 284.5,751.4 285.5,748.7 286.5,749.2 287.5,749.0 288.5,745.6 289.5,744.4 290.5,745.6 291.5,745.0 292.5,745.8 293.5,746.2 294.5,746.3 295.5,747.5 296.5,746.7 297.5,746.1 298.5,746.1 299.5,745.9 300.5,745.6 301.5,745.0 302.5,745.3 303.5,746.4 304.5,746.8 305.5,744.6 306.5,743.2 307.5,744.3 308.5,742.7 309.5,742.5 310.5,744.7 311.5,746.5 312.5,747.2 313.5,745.3 314.5,744.5 315.5,745.2 316.5,746.9 317.5,746.7 318.5,745.7 319.5,747.0 320.5,747.4 321.5,746.3 322.5,745.2 323.5,745.0 324.5,744.9 325.5,745.7 326.5,746.0 327.5,744.4 328.5,745.4 329.5,745.4 330.5,745.6 331.5,746.3 332.5,745.9 333.5,745.0 334.5,744.3 335.5,743.2 336.5,740.8 337.5,741.5 338.5,742.1 339.5,742.5 340.5,744.7 341.5,744.3 342.5,742.9 343.5,743.7 344.5,744.4 345.5,744.1 346.5,743.2 347.5,743.8 348.5,745.0 349.5,742.7 350.5,742.0 351.5,743.4 352.5,742.7 353.5,742.5 354.5,743.0 355.5,743.2 356.5,745.2 357.5,744.5 358.5,744.3 359.5,743.8 360.5,742.8 361.5,742.1 362.5,744.4 363.5,743.1 364.5,743.8 365.5,743.4 366.5,743.2 367.5,744.2 368.5,744.2 369.5,745.1 370.5,743.0 371.5,744.2 372.5,747.3 373.5,746.5 374.5,744.5 375.5,743.8 376.5,742.3 377.5,743.8 378.5,743.5 379.5,742.6 380.5,742.6 381.5,743.2 382.5,743.7 383.5,745.7 384.5,746.1 385.5,746.2 386.5,746.1 387.5,744.4 388.5,743.6 389.5,744.0 390.5,743.8 391.5,744.1 392.5,743.6 393.5,742.9 394.5,743.0 395.5,745.6 396.5,745.5 397.5,743.4 398.5,744.6 399.5,746.8 400.5,745.6 401.5,744.1 402.5,744.0 403.5,742.3 404.5,744.1 405.5,745.8 406.5,745.6 407.5,745.0 408.5,744.9 409.5,746.5 410.5,747.0 411.5,746.6 412.5,745.2 413.5,746.7 414.5,747.5 415.5,748.2 416.5,748.4 417.5,747.8 418.5,747.7 419.5,748.4" fill="none" stroke="#4d4d4d" stroke-width="9.1" stroke-linejoin="round" stroke-linecap="round"/>
<path d="M242.0,510.5 243.0,504.4 244.0,498.0 245.0,491.0 246.0,484.3 247.0,481.3 248.0,475.3 249.0,472.2 250.0,469.1 251.0,464.1 252.0,458.4 253.0,455.5 254.0,449.9 255.0,448.9 256.0,446.2 257.0,441.2 258.0,441.6 259.0,440.0 260.0,435.8 261.0,434.4 262.0,432.8 263.0,429.8 264.0,429.7 265.0,427.8 266.0,425.2 267.0,427.5 268.0,427.9 269.0,424.0 270.0,424.6 271.0,426.3 272.0,426.9 273.0,425.0 274.0,423.8 275.0,425.8 276.0,427.6 277.0,428.5 278.0,429.3 279.0,428.2 280.0,428.6 281.0,426.9 282.0,426.9 283.0,428.1 284.0,424.4 285.0,421.9 286.0,420.1 287.0,419.3 288.0,420.8 289.0,419.2 290.0,419.3 291.0,421.5 292.0,422.3 293.0,423.6 294.0,425.4 295.0,426.2 296.0,425.8 297.0,427.6 298.0,428.4 299.0,427.8 300.0,425.2 301.0,421.3 302.0,422.2 303.0,424.1 304.0,421.1 305.0,420.9 306.0,419.8 307.0,423.6 308.0,422.6 309.0,423.9 310.0,421.6 311.0,424.9 312.0,424.3 313.0,424.7 314.0,422.6 315.0,423.1 316.0,423.9 317.0,420.5 318.0,421.6 319.0,417.7 320.0,417.0 321.0,415.8 322.0,418.7 323.0,419.4 324.0,422.4 325.0,422.3 326.0,422.4 327.0,423.7 328.0,418.3 329.0,417.0 330.0,418.0 331.0,411.7 332.0,405.9 333.0,403.4 334.0,408.0 335.0,415.3 336.0,419.9 337.0,419.6 338.0,418.4 339.0,417.7 340.0,419.8 341.0,419.8 342.0,416.8 343.0,413.5 344.0,401.6 345.0,402.9 346.0,404.1 347.0,404.3 348.0,415.8 349.0,418.9 350.0,419.7 351.0,422.9 352.0,422.4 353.0,424.5 354.0,423.6 355.0,423.8 356.0,421.1 357.0,414.8 358.0,414.8 359.0,417.8 360.0,416.8 361.0,423.3 362.0,421.8 363.0,422.5 364.0,422.2 365.0,424.8 366.0,424.3 367.0,426.5 368.0,424.5 369.0,424.1 370.0,416.8 371.0,413.4 372.0,412.1 373.0,423.9 374.0,425.2 375.0,428.5 376.0,428.1 377.0,426.3 378.0,425.6 379.0,425.7 380.0,424.5 381.0,420.5 382.0,422.1 383.0,421.4 384.0,419.5 385.0,421.5 386.0,421.8 387.0,423.4 388.0,426.5 389.0,421.8 390.0,418.1 391.0,420.6 392.0,422.2 393.0,424.0 394.0,422.4 395.0,419.9 396.0,418.4 397.0,422.7 398.0,424.8 399.0,429.3 400.0,425.9 401.0,427.5 402.0,425.5 403.0,426.4 404.0,426.6 405.0,426.0 406.0,426.2 407.0,426.9 408.0,426.6 409.0,427.7 410.0,428.6 411.0,429.8 412.0,430.2 413.0,430.4 414.0,430.6 415.0,429.5 416.0,427.1 417.0,425.4 418.0,426.1 419.0,426.8 420.0,425.7 421.0,424.0 422.0,424.3 423.0,425.7 424.0,428.2 425.0,416.7 426.0,418.2 427.0,419.8 428.0,422.6 429.0,433.0 430.0,431.9 431.0,431.2 432.0,428.4 433.0,430.4 434.0,429.9 435.0,428.6 436.0,427.2 437.0,425.5 438.0,427.7 439.0,428.4 440.0,429.4 441.0,429.5 442.0,431.3 443.0,428.8 444.0,428.1 445.0,427.2 446.0,425.9 447.0,426.3 448.0,426.7 449.0,425.3 450.0,426.6 451.0,430.2 452.0,432.5 453.0,433.0 454.0,430.4 455.0,430.1 456.0,428.9 457.0,431.1 458.0,431.0 459.0,430.3 460.0,428.9 461.0,430.4 462.0,429.2 463.0,428.1 464.0,427.5 465.0,427.7 466.0,426.7 467.0,428.4 468.0,425.8 469.0,425.9 470.0,425.2 471.0,427.5 472.0,428.7 473.0,429.2 474.0,430.6 475.0,429.1 476.0,431.3 477.0,430.9 478.0,429.8 479.0,432.2 480.0,434.1 481.0,433.1 482.0,431.3 483.0,428.2 484.0,428.1 485.0,429.3 486.0,431.0 487.0,429.8 488.0,431.1 489.0,433.1 490.0,431.5 491.0,432.2 492.0,432.3 493.0,431.5 494.0,430.1 495.0,429.0 496.0,431.1 497.0,432.7 498.0,432.4 499.0,431.3 500.0,431.8 501.0,433.5 502.0,432.8 503.0,431.8 504.0,429.3 505.0,429.0 506.0,427.2 507.0,428.4 508.0,430.0 509.0,432.2 510.0,430.7 511.0,430.5 512.0,431.5 513.0,432.2 514.0,430.5 515.0,421.5 516.0,421.8 517.0,425.1 518.0,432.4 519.0,431.3 520.0,431.2 521.0,430.2 522.0,430.2 523.0,432.3 524.0,430.4 525.0,430.8 526.0,430.3 527.0,432.4 528.0,435.4 529.0,437.2 530.0,436.8 531.0,437.0 532.0,439.8 533.0,437.9 534.0,436.8 535.0,435.8 536.0,436.1 537.0,436.3 538.0,436.7 539.0,434.3 540.0,435.4 541.0,437.0 542.0,435.5 543.0,435.1 544.0,437.1 545.0,435.4 546.0,434.9 547.0,432.0 548.0,432.9 549.0,431.5 550.0,429.2 551.0,428.9 552.0,430.5 553.0,433.2 554.0,432.6 555.0,431.5 556.0,435.2 557.0,437.6 558.0,436.7 559.0,433.2 560.0,434.2 561.0,435.7 562.0,437.5 563.0,434.9 564.0,435.7 565.0,437.1 566.0,439.6 567.0,438.3 568.0,436.2 569.0,434.9 570.0,439.6 571.0,438.6 572.0,440.9 573.0,442.4 574.0,441.5 575.0,440.2 576.0,439.9 577.0,436.5 578.0,437.0 579.0,437.9 580.0,437.6 581.0,438.7 582.0,439.0 583.0,439.4 584.0,439.1 585.0,438.5 586.0,437.6 587.0,436.8 588.0,435.4 589.0,435.9 590.0,440.8 591.0,438.5 592.0,440.3 593.0,439.3 594.0,436.1 595.0,439.3 596.0,440.5 597.0,439.4 598.0,441.5 599.0,439.2 600.0,439.7 601.0,436.1 602.0,433.9 603.0,433.5 604.0,437.1 605.0,438.5 606.0,440.3 607.0,436.2 608.0,438.5 609.0,435.3 610.0,437.7 611.0,436.7 612.0,436.3 613.0,435.7 614.0,436.6 615.0,435.8 616.0,438.4 617.0,435.8 618.0,436.3 619.0,436.8 620.0,439.0 621.0,440.3 622.0,438.7 623.0,439.1 624.0,439.9 625.0,438.0 626.0,438.9 627.0,439.9 628.0,438.1 629.0,437.4 630.0,436.7 631.0,436.7 632.0,433.9 633.0,432.9 634.0,430.4 635.0,434.1 636.0,434.8 637.0,435.7 638.0,436.5 639.0,440.3 640.0,443.1 641.0,441.2 642.0,440.8 643.0,439.9 644.0,439.4 645.0,432.3 646.0,429.8 647.0,430.1 648.0,439.7 649.0,438.7 650.0,438.4 651.0,439.2 652.0,440.0 653.0,442.7 654.0,442.1 655.0,442.5 656.0,441.1 657.0,438.1 658.0,438.2 659.0,437.9 660.0,436.2 661.0,433.3 662.0,432.6 663.0,435.2 664.0,439.0 665.0,440.5 666.0,440.1 667.0,442.0 668.0,441.3 669.0,441.9 670.0,442.8 671.0,440.5 672.0,440.1 673.0,438.6 674.0,438.4 675.0,439.7 676.0,441.5 677.0,443.2 678.0,445.3 679.0,446.0 680.0,444.9 681.0,446.3 682.0,444.9 683.0,443.2 684.0,442.2 685.0,441.7 686.0,441.0 687.0,443.8 688.0,441.7 689.0,441.6 690.0,441.3 691.0,439.8 692.0,438.7 693.0,440.4 694.0,440.7 695.0,444.4 696.0,442.7 697.0,440.7 698.0,439.7 699.0,437.6 700.0,436.8 701.0,436.5 702.0,437.0 703.0,438.6 704.0,438.7 705.0,438.1 706.0,436.0 707.0,438.1 708.0,438.8 709.0,441.2 710.0,441.7 711.0,443.9 712.0,445.6 713.0,446.6 714.0,445.2 715.0,447.1 716.0,445.7 717.0,445.2 718.0,443.1 719.0,440.5 720.0,440.7 721.0,439.3 722.0,438.0 723.0,438.8 724.0,438.1 725.0,434.8 726.0,434.5 727.0,438.3 728.0,439.0 729.0,434.4 730.0,433.2 731.0,435.5 732.0,441.9 733.0,441.0 734.0,440.2 735.0,440.4 736.0,441.6 737.0,438.6 738.0,439.8 739.0,439.9 740.0,440.6 741.0,441.0 742.0,439.5 743.0,438.6 744.0,439.0 745.0,440.0 746.0,442.4 747.0,445.1 748.0,444.8 749.0,444.0 750.0,442.7 751.0,443.2 752.0,440.6 753.0,439.8 754.0,438.5 755.0,436.7 756.0,437.8 757.0,437.2 758.0,437.1 759.0,436.8 760.0,437.7 761.0,430.9 762.0,432.2 763.0,433.6 764.0,443.8 765.0,445.7 766.0,444.2 767.0,440.1 768.0,437.1 769.0,438.5 770.0,439.8 771.0,440.6 772.0,440.5 773.0,440.1 774.0,440.5 775.0,439.9 776.0,438.2 777.0,439.1 778.0,437.9 779.0,439.1 780.0,439.4 781.0,440.3 782.0,439.2 783.0,439.4 784.0,440.3 785.0,442.0 786.0,442.0 787.0,443.7 788.0,443.1 789.0,444.1 790.0,443.4 791.0,442.6 792.0,440.4 793.0,440.9 794.0,441.3 795.0,441.0 796.0,437.2 797.0,435.6 798.0,442.3 799.0,444.8 800.0,444.5 801.0,437.3 802.0,439.2 803.0,444.4 804.0,445.0 805.0,443.3 806.0,441.5 807.0,441.7 808.0,442.9 809.0,440.6 810.0,441.3 811.0,441.8 812.0,442.6 813.0,444.2 814.0,443.9 815.0,443.2 816.0,442.8 817.0,441.0 818.0,438.4 819.0,440.8 820.0,437.9 821.0,439.7 822.0,436.6 823.0,436.5 824.0,436.4 825.0,439.0 826.0,440.6 827.0,434.7 828.0,433.8 829.0,438.3 830.0,435.5 831.0,442.0 832.0,439.7 833.0,438.0 834.0,439.1 835.0,438.0 836.0,438.4 837.0,439.6 838.0,438.0 839.0,439.5 840.0,439.1 841.0,440.9 842.0,443.1 843.0,442.2 844.0,442.7 845.0,444.2 846.0,443.6 847.0,443.5 848.0,442.3 849.0,442.4 850.0,441.3 851.0,435.2 852.0,434.6 853.0,442.6 854.0,444.8 855.0,444.5 856.0,444.5 857.0,444.6 858.0,439.0 859.0,435.3 860.0,436.0 861.0,435.6 862.0,437.4 863.0,434.8 864.0,435.4 865.0,437.3 866.0,440.8 867.0,439.2 868.0,441.7 869.0,440.6 870.0,443.1 871.0,443.9 872.0,441.7 873.0,441.3 874.0,442.0 875.0,440.3 876.0,439.6 877.0,439.9 878.0,438.4 879.0,440.9 880.0,440.4 881.0,442.5 882.0,444.5 883.0,446.1 884.0,448.5 885.0,447.8 886.0,442.5 887.0,442.3 888.0,440.1 889.0,438.1 890.0,438.3 891.0,441.3 892.0,443.2 893.0,445.2 894.0,446.5 895.0,443.5 896.0,440.5 897.0,438.1 898.0,435.3 899.0,436.4 900.0,437.1 901.0,436.6 902.0,436.5 903.0,439.7 904.0,443.0 905.0,444.8 906.0,444.9 907.0,444.3 908.0,443.4 909.0,446.1 910.0,444.0 911.0,443.7 912.0,443.0 913.0,444.2 914.0,437.4 915.0,438.2 916.0,441.8 917.0,443.2 918.0,444.2 919.0,444.8 920.0,443.6 921.0,445.9 922.0,444.7 923.0,445.5 924.0,444.4 925.0,445.2 926.0,447.0 927.0,446.1 928.0,444.9 929.0,443.7 930.0,442.6 931.0,442.4 932.0,437.0 933.0,437.6 934.0,444.0 935.0,443.5 936.0,444.8 937.0,445.3 938.0,446.8 939.0,444.6 940.0,446.7 941.0,447.1 942.0,446.8 943.0,446.9 944.0,447.3 945.0,446.0 946.0,446.9 947.0,447.0 948.0,446.2 949.0,446.2 950.0,447.5 951.0,446.6 952.0,445.6 953.0,443.6 954.0,440.6 955.0,442.2 956.0,434.3 957.0,434.2 958.0,435.2 959.0,444.9 960.0,446.9 961.0,449.5 962.0,447.8 963.0,446.9 964.0,447.9 965.0,449.0 966.0,448.5 967.0,446.0 968.0,445.5 969.0,444.5 970.0,445.8 971.0,445.1 972.0,445.2 973.0,444.5 974.0,444.2 975.0,446.7 976.0,445.4 977.0,443.9 978.0,443.9 979.0,445.1 980.0,445.4 981.0,446.4 982.0,446.7 983.0,446.2 984.0,446.9 985.0,446.3 986.0,446.3 987.0,445.6 988.0,446.4 989.0,446.2 990.0,448.0 991.0,446.7 992.0,444.8 993.0,445.4 994.0,445.1 995.0,444.1 996.0,443.7 997.0,440.5 998.0,439.6 999.0,440.9 1000.0,441.1 1001.0,442.6 1002.0,443.9 1003.0,445.5 1004.0,446.0 1005.0,445.1 1006.0,445.7 1007.0,446.4 1008.0,446.7 1009.0,446.2 1010.0,447.6 1011.0,446.9 1012.0,447.6 1013.0,447.1 1014.0,446.1 1015.0,449.3 1016.0,448.9 1017.0,446.9 1018.0,446.0 1019.0,446.3 1020.0,444.7 1021.0,446.5 1022.0,446.1 1023.0,446.3 1024.0,445.3 1025.0,445.3 1026.0,445.4 1027.0,447.5 1028.0,446.1 1029.0,447.7 1030.0,447.7 1031.0,446.7 1032.0,444.1 1033.0,444.0 1034.0,444.6 1035.0,445.6 1036.0,446.4 1037.0,446.5 1038.0,447.9 1039.0,449.8 1040.0,449.5 1041.0,451.4 1042.0,451.7 1043.0,453.2 1044.0,452.5 1045.0,450.1 1046.0,449.2 1047.0,450.6 1048.0,448.6 1049.0,449.5 1050.0,440.9 1051.0,443.3 1052.0,446.7 1053.0,453.3 1054.0,452.6 1055.0,453.8 1056.0,454.9 1057.0,454.5 1058.0,455.0 1059.0,451.4 1060.0,447.7 1061.0,445.2 1062.0,446.6 1063.0,448.3 1064.0,446.9 1065.0,443.9 1066.0,444.5 1067.0,444.4 1068.0,445.2 1069.0,445.7 1070.0,442.5 1071.0,445.0 1072.0,445.7 1073.0,446.9 1074.0,451.1 1075.0,451.5 1076.0,451.0 1077.0,454.1 1078.0,454.9 1079.0,455.0 1080.0,452.9 1081.0,452.8 1082.0,452.9 1083.0,454.0 1084.0,452.7 1085.0,453.5 1086.0,453.0 1087.0,454.5 1088.0,453.0 1089.0,451.5 1090.0,451.8 1091.0,453.2 1092.0,452.6 1093.0,451.6 1094.0,451.1 1095.0,451.0 1096.0,454.1 1097.0,453.2 1098.0,453.8 1099.0,452.3 1100.0,453.9 1101.0,453.6 1102.0,456.4 1103.0,454.1 1104.0,456.1 1105.0,455.1 1106.0,455.5 1107.0,455.6 1108.0,454.1 1109.0,455.2 1110.0,454.3 1111.0,452.9 1112.0,451.2 1113.0,453.8 1114.0,453.7 1115.0,455.0 1116.0,453.3 1117.0,454.2 1118.0,454.9 1119.0,456.5 1120.0,454.7 1121.0,454.3 1122.0,456.4 1123.0,454.3 1124.0,456.4 1125.0,454.0 1126.0,453.8 1127.0,454.1 1128.0,455.7 1129.0,453.7 1130.0,453.2 1131.0,453.6 1132.0,453.6 1133.0,451.0 1134.0,450.5 1135.0,449.5 1136.0,451.8 1137.0,454.3 1138.0,452.5 1139.0,454.0 1140.0,453.5 1141.0,455.5 1142.0,446.3 1143.0,447.8 1144.0,447.6 1145.0,454.4 1146.0,451.9 1147.0,452.6 1148.0,452.2 1149.0,453.6 1150.0,454.2 1151.0,453.6 1152.0,453.1 1153.0,454.7 1154.0,454.3 1155.0,455.5 1156.0,454.1 1157.0,454.1 1158.0,454.1 1159.0,456.5 1160.0,454.8 1161.0,453.0 1162.0,452.5 1163.0,453.3 1164.0,456.2 1165.0,455.4 1166.0,453.0 1167.0,453.9 1168.0,453.7 1169.0,454.0 1170.0,448.5 1171.0,447.9 1172.0,449.1 1173.0,449.4 1174.0,453.6 1175.0,453.6 1176.0,453.5 1177.0,454.5 1178.0,455.7 1179.0,455.6 1180.0,457.0 1181.0,456.5 1182.0,457.5 1183.0,459.0 1184.0,457.3 1185.0,456.7 1186.0,454.1 1187.0,452.1 1188.0,450.7 1189.0,452.0 1190.0,451.4 1191.0,452.1 1192.0,452.5 1193.0,454.5 1194.0,455.3 1195.0,454.6 1196.0,454.1 1197.0,452.9 1198.0,453.2 1199.0,456.5 1200.0,455.9 1201.0,455.9 1202.0,455.3 1203.0,454.1 1204.0,454.8 1205.0,453.2 1206.0,450.7 1207.0,449.0 1208.0,448.2 1209.0,447.1 1210.0,448.7 1211.0,451.3 1212.0,451.8 1213.0,450.6 1214.0,451.4 1215.0,452.8 1216.0,450.6 1217.0,451.6 1218.0,450.6 1219.0,450.0 1220.0,452.0 1221.0,450.8 1222.0,449.1 1223.0,451.4 1224.0,450.8 1225.0,450.3 1226.0,452.2 1227.0,448.7 1228.0,448.2 1229.0,447.3 1230.0,446.9 1231.0,449.1 1232.0,451.0 1233.0,451.3 1234.0,452.1 1235.0,451.4 1236.0,445.1 1237.0,447.7 1238.0,447.5 1239.0,455.4 1240.0,455.3 1241.0,455.4 1242.0,453.9 1243.0,455.3 1244.0,455.2 1245.0,456.4 1246.0,458.2 1247.0,459.1 1248.0,457.8 1249.0,455.2 1250.0,454.2 1251.0,452.2 1252.0,454.4 1253.0,454.5 1254.0,452.9 1255.0,455.9 1256.0,457.4 1257.0,454.8 1258.0,454.6 1259.0,454.3 1260.0,454.3 1261.0,454.5 1262.0,452.3 1263.0,453.3 1264.0,453.3 1265.0,452.0 1266.0,450.9 1267.0,453.4 1268.0,454.3 1269.0,456.1 1270.0,454.0 1271.0,452.4 1272.0,449.8 1273.0,449.1 1274.0,451.9 1275.0,450.8 1276.0,448.8 1277.0,448.7 1278.0,448.7 1279.0,453.0 1280.0,455.0 1281.0,452.2 1282.0,450.5 1283.0,450.7 1284.0,451.8 1285.0,451.2 1286.0,450.8 1287.0,450.9 1288.0,451.6 1289.0,451.7 1290.0,450.0 1291.0,450.9 1292.0,450.7 1293.0,448.3 1294.0,449.2 1295.0,448.3 1296.0,451.1 1297.0,452.2 1298.0,452.1 1299.0,451.0 1300.0,451.8 1301.0,453.0 1302.0,452.4 1303.0,454.0 1304.0,453.9 1305.0,452.7 1306.0,453.8 1307.0,455.6 1308.0,447.9 1309.0,449.4 1310.0,456.7 1311.0,455.3 1312.0,458.1 1313.0,455.5 1314.0,455.2 1315.0,450.9 1316.0,451.1 1317.0,450.3 1318.0,451.7 1319.0,451.3 1320.0,451.0 1321.0,450.2 1322.0,452.6 1323.0,451.3 1324.0,451.4 1325.0,451.7 1326.0,449.3 1327.0,447.8 1328.0,449.2 1329.0,449.5 1330.0,451.9 1331.0,452.3 1332.0,452.1 1333.0,453.3 1334.0,455.7 1335.0,454.3 1336.0,452.9 1337.0,449.6 1338.0,447.4 1339.0,447.7 1340.0,447.1 1341.0,446.9 1342.0,447.2 1343.0,448.7 1344.0,450.1 1345.0,450.3 1346.0,446.9 1347.0,448.0 1348.0,448.2 1349.0,447.2 1350.0,446.7 1351.0,446.1 1352.0,447.3 1353.0,448.7 1354.0,445.6 1355.0,446.4 1356.0,447.0 1357.0,449.4 1358.0,448.7 1359.0,447.7 1360.0,447.9 1361.0,447.9 1362.0,448.7 1363.0,448.7 1364.0,446.3 1365.0,446.6 1366.0,447.3 1367.0,448.1 1368.0,449.0 1369.0,446.8 1370.0,446.3 1371.0,448.1 1372.0,451.4 1373.0,451.6 1374.0,453.9 1375.0,453.0 1376.0,452.4 1377.0,449.2 1378.0,447.2 1379.0,444.4 1380.0,443.6 1381.0,443.4 1382.0,443.3 1383.0,443.8 1384.0,445.4 1385.0,444.9 1386.0,445.1 1387.0,445.7 1388.0,445.5 1389.0,447.1 1390.0,446.5 1391.0,447.8 1392.0,446.1 1393.0,448.0 1394.0,447.9 1395.0,448.8 1396.0,448.7 1397.0,448.8 1398.0,448.7 1399.0,448.8 1400.0,448.6 1401.0,447.2 1402.0,447.3 1403.0,447.4 1404.0,448.1 1405.0,448.7 1406.0,448.8 1407.0,450.7 1408.0,451.2 1409.0,449.4 1410.0,447.5 1411.0,447.0 1412.0,446.1 1413.0,447.4 1414.0,445.3 1415.0,447.1 1416.0,447.8 1417.0,449.6 1418.0,448.6 1419.0,449.1 1420.0,447.2 1421.0,448.0 1422.0,447.4 1423.0,447.3 1424.0,449.4 1425.0,448.7 1426.0,447.3 1427.0,447.9 1428.0,447.6 1429.0,450.4 1430.0,450.0 1431.0,447.4 1432.0,445.5 1433.0,444.4 1434.0,447.1 1435.0,447.2 1436.0,446.6 1437.0,446.0 1438.0,447.1 1439.0,445.7 1440.0,444.9 1441.0,442.1 1442.0,441.9 1443.0,441.7 1444.0,440.7 1445.0,441.8 1446.0,442.4 1447.0,444.0 1448.0,441.5 1449.0,440.9 1450.0,440.8 1451.0,441.7 1452.0,442.2 1453.0,442.8 1454.0,443.1 1455.0,444.2 1456.0,444.2 1457.0,444.7 1458.0,445.5 1459.0,447.0 1460.0,443.0 1461.0,442.6 1462.0,445.2 1463.0,447.0 1464.0,447.0 1465.0,447.0 1466.0,444.9 1467.0,443.8 1468.0,444.4 1469.0,446.2 1470.0,445.0 1471.0,445.3 1472.0,446.0 1473.0,446.4 1474.0,446.2 1475.0,446.9 1476.0,448.5 1477.0,448.2 1478.0,447.4 1479.0,446.1 1480.0,446.7 1481.0,446.9 1482.0,447.2 1483.0,448.1 1484.0,448.7 1485.0,449.8 1486.0,449.8 1487.0,449.9 1488.0,450.2 1489.0,450.1 1490.0,449.0 1491.0,449.1 1492.0,447.9 1493.0,446.7 1494.0,446.0 1495.0,447.7 1496.0,449.3 1497.0,449.2 1498.0,448.8 1499.0,447.9 1500.0,448.6 1501.0,450.9 1502.0,451.3 1503.0,450.0 1504.0,449.3 1505.0,447.5 1506.0,448.2 1507.0,448.6 1508.0,449.3 1509.0,447.1 1510.0,446.8 1511.0,447.6 1512.0,449.1 1513.0,448.7 1514.0,447.2 1515.0,446.4 1516.0,447.4 1517.0,447.5 1518.0,446.9 1519.0,446.3 1520.0,447.0 1521.0,445.5 1522.0,443.7 1523.0,444.1 1524.0,445.2 1525.0,444.1 1526.0,443.6 1527.0,440.7 1528.0,442.8 1529.0,444.6 1530.0,443.6 1531.0,443.6 1532.0,445.2 1533.0,445.2 1534.0,448.2 1535.0,448.5 1536.0,448.3 1537.0,450.4 1538.0,450.0 1539.0,450.9 1540.0,448.6 1541.0,445.5 1542.0,445.0 1543.0,445.1 1544.0,445.2 1545.0,442.9 1546.0,442.1 1547.0,445.2 1548.0,444.6 1549.0,445.1 1550.0,444.1 1551.0,443.8 1552.0,442.7 1553.0,442.0 1554.0,444.4 1555.0,445.5 1556.0,443.5 1557.0,442.8 1558.0,441.3 1559.0,440.1 1560.0,438.9 1561.0,439.0 1562.0,439.8 1563.0,440.8 1564.0,441.2 1565.0,441.6 1566.0,442.7 1567.0,441.4 1568.0,439.1 1569.0,438.6 1570.0,439.0 1571.0,441.4 1572.0,439.3 1573.0,437.5 1574.0,438.5 1575.0,438.7 1576.0,435.7 1577.0,436.8 1578.0,433.4 1579.0,434.3 1580.0,432.9 1581.0,432.5 1582.0,431.9 1583.0,434.3 1584.0,433.6 1585.0,434.9 1586.0,434.5 1587.0,434.9 1588.0,433.1 1589.0,431.6 1590.0,433.2 1591.0,435.7 1592.0,435.9 1593.0,434.9 1594.0,434.4 1595.0,433.5 1596.0,434.0 1597.0,433.2 1598.0,435.7 1599.0,435.4 1600.0,437.2 1601.0,435.0 1602.0,434.3 1603.0,432.7 1604.0,429.9 1605.0,430.4 1606.0,429.6 1607.0,430.7 1608.0,431.0 1609.0,431.3 1610.0,432.9 1611.0,434.8 1612.0,434.6 1613.0,434.7 1614.0,434.9 1615.0,434.7 1616.0,433.5 1617.0,433.3 1618.0,432.6 1619.0,432.2 1620.0,431.2 1621.0,428.7 1622.0,428.6 1623.0,428.1 1624.0,430.3 1625.0,431.4 1626.0,430.2 1627.0,429.1 1628.0,428.9 1629.0,430.2 1630.0,431.0 1631.0,428.8 1632.0,429.0 1633.0,427.5 1634.0,427.7 1635.0,428.9 1636.0,426.9 1637.0,425.9 1638.0,427.1 1639.0,426.2 1640.0,427.3 1641.0,428.2 1642.0,426.5 1643.0,425.5 1644.0,426.1 1645.0,424.8 1646.0,425.8 1647.0,426.3 1648.0,425.4 1649.0,426.7 1650.0,424.2 1651.0,425.3 1652.0,423.3 1653.0,422.4 1654.0,420.0 1655.0,419.8 1656.0,419.8 1657.0,421.7 1658.0,419.9 1659.0,419.8 1660.0,421.2 1661.0,424.1 1662.0,425.7 1663.0,425.0 1664.0,423.1 1665.0,423.8 1666.0,424.7 1667.0,423.8 1668.0,423.9 1669.0,425.3 1670.0,427.6 1671.0,428.7 1672.0,427.4 1673.0,427.9 1674.0,425.2 1675.0,425.1 1676.0,422.7 1677.0,424.7 1678.0,424.3 1679.0,423.2 1680.0,420.7 1681.0,418.8 1682.0,421.4 1683.0,422.1 1684.0,422.2 1685.0,422.1 1686.0,422.3 1687.0,420.9 1688.0,420.8 1689.0,419.2 1690.0,418.9 1691.0,417.7 1692.0,417.8 1693.0,420.0 1694.0,421.4 1695.0,422.1 1696.0,421.7 1697.0,421.4 1698.0,420.6 1699.0,418.4 1700.0,420.4 1701.0,422.3 1702.0,423.6 1703.0,424.4 1704.0,425.0 1705.0,426.7 1706.0,429.9 1707.0,429.1 1708.0,425.9 1709.0,426.5 1710.0,427.6 1711.0,428.3 1712.0,424.5 1713.0,425.4 1714.0,423.9 1715.0,424.4 1716.0,424.9 1717.0,426.6 1718.0,425.2 1719.0,420.0 1720.0,418.9 1721.0,420.8 1722.0,427.3 1723.0,428.9 1724.0,427.3 1725.0,427.7 1726.0,428.5 1727.0,428.5 1728.0,427.7 1729.0,429.0 1730.0,426.4 1731.0,426.4 1732.0,423.7 1733.0,424.1 1734.0,426.2 1735.0,428.1 1736.0,429.3 1737.0,429.1 1738.0,429.2 1739.0,431.5 1740.0,431.3 1741.0,431.9 1742.0,432.3 1743.0,431.8 1744.0,431.6 1745.0,431.1 1746.0,432.8 1747.0,432.8 1748.0,433.5 1749.0,434.7 1750.0,434.0 1751.0,434.8 1752.0,435.7 1753.0,434.6 1754.0,435.7 1755.0,435.1 1756.0,435.1 1757.0,436.0 1758.0,437.4 1759.0,437.1 1760.0,436.3 1761.0,436.6 1762.0,436.2 1763.0,434.9 1764.0,436.2 1765.0,436.3 1766.0,436.4 1767.0,433.2 1768.0,432.4 1769.0,432.4 1770.0,432.6 1771.0,432.1 1772.0,432.9 1773.0,434.5 1774.0,435.3 1775.0,434.8 1776.0,432.9 1777.0,432.7 1778.0,432.9 1779.0,433.9 1780.0,433.6 1781.0,434.6 1782.0,436.8 1783.0,438.5 1784.0,439.4 1785.0,439.2 1786.0,439.3 1787.0,438.5 1788.0,439.2 1789.0,438.2 1790.0,439.7 1791.0,440.0 1792.0,441.1 1793.0,440.3 1794.0,442.4 1795.0,443.8 1796.0,444.6 1797.0,444.3 1798.0,443.5 1799.0,442.0 1800.0,443.5 1801.0,442.9 1802.0,444.1 1803.0,445.8 1804.0,446.0 1805.0,446.6 1806.0,447.3 1807.0,447.8 1808.0,447.4 1809.0,447.8 1810.0,447.0 1811.0,448.5 1812.0,450.9 1813.0,451.5 1814.0,451.9 1815.0,453.1 1816.0,452.4 1817.0,452.8 1818.0,452.9 1819.0,453.3 1820.0,454.0 1821.0,454.0 1822.0,451.0 1823.0,452.0 1824.0,451.7 1825.0,452.6 1826.0,449.6 1827.0,451.5 1828.0,449.6 1829.0,452.7 1830.0,452.1 1831.0,450.1 1832.0,450.6 1833.0,453.2 1834.0,456.4 1835.0,456.2 1836.0,455.8 1837.0,455.3 1838.0,455.6 1839.0,454.1 1840.0,455.1 1841.0,455.6 1842.0,457.3 1843.0,454.7 1844.0,454.8 1845.0,458.8 1846.0,459.6 1847.0,460.5 1848.0,460.0 1849.0,459.0 1850.0,459.7 1851.0,462.6 1852.0,460.7 1853.0,461.6 1854.0,456.4 1855.0,457.4 1856.0,463.8 1857.0,462.9 1858.0,461.1 1859.0,461.6 1860.0,460.8 1861.0,461.0 1862.0,460.6 1863.0,459.0 1864.0,458.9 1865.0,460.5 1866.0,462.1 1867.0,462.2 1868.0,462.3 1869.0,465.1 1870.0,466.4 1871.0,468.9 1872.0,468.4 1873.0,469.7 1874.0,469.6 1875.0,471.2 1876.0,468.6 1877.0,468.8 1878.0,467.0 1879.0,465.3 1880.0,462.9 1881.0,464.3 1882.0,464.7 1883.0,467.6 1884.0,467.6 1885.0,465.4 1886.0,469.0 1887.0,469.2 1888.0,468.5 1889.0,465.7 1890.0,464.6 1891.0,465.1 1892.0,469.3 1893.0,470.2 1894.0,469.3 1895.0,470.6 1896.0,471.6 1897.0,472.3 1898.0,472.9 1899.0,467.7 1900.0,468.3 1901.0,471.1 1902.0,470.5 1903.0,470.5 1904.0,469.6 1905.0,468.4 1906.0,469.3 1907.0,470.9 1908.0,474.6 1909.0,471.0 1910.0,470.3 1911.0,469.0 1912.0,475.7 1913.0,477.5 1914.0,478.8 1915.0,476.0 1916.0,475.2 1917.0,474.7 1918.0,476.3 1919.0,477.7 1920.0,478.2 1921.0,477.4 1922.0,477.8 1923.0,480.0 1924.0,480.1 1925.0,481.0 1926.0,478.7 1927.0,479.5 1928.0,478.6 1929.0,479.6 1930.0,478.6 1931.0,480.0 1932.0,479.1 1933.0,482.6 1934.0,481.6 1935.0,482.4 1936.0,480.9 1937.0,481.0 1938.0,478.9 1939.0,481.2 1940.0,480.5 1941.0,479.7 1942.0,480.1 1943.0,483.4 1944.0,485.3 1945.0,485.3 1946.0,484.8 1947.0,483.8 1948.0,485.7 1949.0,487.4 1950.0,486.7 1951.0,485.8 1952.0,485.3 1953.0,485.5 1954.0,481.5 1955.0,480.7 1956.0,479.5 1957.0,484.5 1958.0,486.5 1959.0,485.9 1960.0,486.8 1961.0,485.7 1962.0,487.5 1963.0,488.8 1964.0,488.2 1965.0,485.5 1966.0,484.4 1967.0,484.4 1968.0,483.7 1969.0,487.0 1970.0,487.0 1971.0,480.8 1972.0,481.1 1973.0,481.6 1974.0,480.9 1975.0,485.9 1976.0,486.3 1977.0,486.4 1978.0,487.9 1979.0,487.2 1980.0,487.1 1981.0,487.6 1982.0,487.8 1983.0,489.6 1984.0,491.5 1985.0,492.1 1986.0,492.7 1987.0,494.0 1988.0,496.1 1989.0,495.3 1990.0,494.0 1991.0,491.3 1992.0,493.1 1993.0,492.3 1994.0,492.3 1995.0,491.2 1996.0,490.5 1997.0,491.0 1998.0,492.3 1999.0,493.1 2000.0,493.9 2001.0,493.4 2002.0,494.8 2003.0,497.5 2004.0,499.5 2005.0,501.0 2006.0,499.6 2007.0,500.1 2008.0,500.0 2009.0,499.7 2010.0,502.6 2011.0,501.9 2012.0,501.1 2013.0,501.7 2014.0,504.1 2015.0,503.5 2016.0,504.0 2017.0,502.7 2018.0,503.5 2019.0,503.2 2020.0,502.2 2021.0,504.0 2022.0,503.3 2023.0,505.2 2024.0,504.1 2025.0,504.7 2026.0,504.6 2027.0,504.9 2028.0,502.4 2029.0,503.0 2030.0,502.4 2031.0,505.8 2032.0,505.4 2033.0,504.6 2034.0,505.2 2035.0,507.0 2036.0,507.5 2037.0,506.8 2038.0,506.1 2039.0,505.1 2040.0,505.0 2041.0,507.6 2042.0,505.8 2043.0,505.9 2044.0,505.9 2045.0,504.7 2046.0,505.6 2047.0,506.8 2048.0,504.3 2049.0,506.1 2050.0,506.2 2051.0,505.0 2052.0,503.3 2053.0,503.3 2054.0,504.0 2055.0,506.0 2056.0,507.8 2057.0,509.3 2058.0,509.8 2059.0,508.6 2060.0,507.8 2061.0,508.5 2062.0,511.0 2063.0,511.9 2064.0,512.0 2065.0,514.2 2066.0,515.9 2067.0,519.1 2067.0,567.2 2066.0,567.9 2065.0,568.0 2064.0,566.2 2063.0,568.9 2062.0,571.6 2061.0,572.9 2060.0,573.2 2059.0,573.2 2058.0,573.2 2057.0,574.8 2056.0,573.6 2055.0,570.5 2054.0,571.3 2053.0,569.8 2052.0,567.9 2051.0,566.2 2050.0,566.5 2049.0,566.0 2048.0,566.5 2047.0,565.3 2046.0,564.5 2045.0,564.8 2044.0,566.7 2043.0,566.9 2042.0,569.2 2041.0,566.9 2040.0,567.7 2039.0,566.0 2038.0,566.2 2037.0,565.0 2036.0,562.9 2035.0,563.0 2034.0,564.4 2033.0,563.3 2032.0,563.9 2031.0,563.2 2030.0,562.9 2029.0,563.5 2028.0,562.1 2027.0,562.5 2026.0,562.7 2025.0,563.7 2024.0,562.8 2023.0,561.7 2022.0,562.2 2021.0,561.8 2020.0,560.6 2019.0,560.9 2018.0,559.1 2017.0,560.2 2016.0,560.9 2015.0,560.5 2014.0,558.1 2013.0,556.8 2012.0,555.4 2011.0,554.2 2010.0,554.0 2009.0,553.4 2008.0,553.3 2007.0,555.1 2006.0,555.0 2005.0,554.5 2004.0,555.3 2003.0,554.3 2002.0,554.4 2001.0,553.7 2000.0,554.4 1999.0,554.5 1998.0,554.3 1997.0,554.8 1996.0,554.8 1995.0,557.1 1994.0,553.7 1993.0,553.2 1992.0,553.3 1991.0,554.1 1990.0,551.4 1989.0,550.0 1988.0,548.3 1987.0,549.7 1986.0,547.8 1985.0,546.3 1984.0,545.2 1983.0,548.7 1982.0,549.6 1981.0,548.3 1980.0,547.0 1979.0,546.7 1978.0,548.3 1977.0,549.5 1976.0,546.6 1975.0,546.4 1974.0,548.4 1973.0,550.8 1972.0,551.7 1971.0,551.2 1970.0,550.0 1969.0,549.7 1968.0,548.6 1967.0,549.9 1966.0,546.8 1965.0,547.5 1964.0,547.4 1963.0,547.2 1962.0,548.1 1961.0,548.2 1960.0,548.5 1959.0,550.1 1958.0,551.6 1957.0,555.0 1956.0,553.4 1955.0,550.8 1954.0,548.4 1953.0,545.2 1952.0,544.3 1951.0,543.2 1950.0,541.9 1949.0,542.8 1948.0,542.5 1947.0,543.9 1946.0,542.4 1945.0,543.0 1944.0,542.0 1943.0,541.0 1942.0,541.1 1941.0,542.3 1940.0,544.8 1939.0,542.8 1938.0,541.1 1937.0,540.0 1936.0,539.6 1935.0,541.1 1934.0,536.9 1933.0,535.6 1932.0,534.2 1931.0,535.7 1930.0,534.7 1929.0,534.6 1928.0,532.2 1927.0,534.1 1926.0,535.7 1925.0,538.6 1924.0,543.1 1923.0,542.1 1922.0,535.1 1921.0,536.4 1920.0,534.3 1919.0,533.4 1918.0,532.1 1917.0,538.5 1916.0,539.5 1915.0,539.0 1914.0,538.7 1913.0,529.4 1912.0,528.0 1911.0,528.3 1910.0,531.1 1909.0,531.8 1908.0,532.2 1907.0,530.5 1906.0,530.9 1905.0,529.9 1904.0,528.7 1903.0,525.9 1902.0,526.5 1901.0,524.8 1900.0,523.8 1899.0,523.3 1898.0,526.0 1897.0,527.7 1896.0,527.3 1895.0,527.2 1894.0,526.1 1893.0,524.9 1892.0,524.1 1891.0,524.0 1890.0,523.5 1889.0,524.4 1888.0,522.9 1887.0,520.4 1886.0,520.1 1885.0,518.2 1884.0,516.7 1883.0,517.4 1882.0,518.8 1881.0,519.4 1880.0,519.6 1879.0,519.8 1878.0,518.0 1877.0,519.4 1876.0,518.0 1875.0,517.1 1874.0,517.2 1873.0,517.1 1872.0,516.4 1871.0,516.0 1870.0,515.4 1869.0,512.8 1868.0,513.0 1867.0,511.6 1866.0,511.8 1865.0,510.6 1864.0,511.5 1863.0,510.2 1862.0,509.8 1861.0,512.2 1860.0,510.9 1859.0,512.0 1858.0,513.4 1857.0,514.7 1856.0,514.6 1855.0,513.6 1854.0,513.3 1853.0,513.7 1852.0,513.5 1851.0,512.4 1850.0,511.0 1849.0,509.8 1848.0,508.7 1847.0,506.3 1846.0,505.0 1845.0,506.4 1844.0,505.5 1843.0,505.8 1842.0,505.9 1841.0,506.9 1840.0,508.9 1839.0,509.5 1838.0,506.0 1837.0,505.7 1836.0,504.7 1835.0,505.2 1834.0,505.8 1833.0,505.5 1832.0,506.5 1831.0,505.2 1830.0,503.4 1829.0,502.0 1828.0,501.8 1827.0,501.0 1826.0,500.6 1825.0,498.7 1824.0,499.5 1823.0,498.4 1822.0,504.6 1821.0,505.5 1820.0,505.7 1819.0,506.5 1818.0,498.9 1817.0,499.5 1816.0,500.4 1815.0,498.7 1814.0,497.1 1813.0,497.3 1812.0,497.7 1811.0,498.1 1810.0,498.0 1809.0,497.4 1808.0,497.9 1807.0,493.9 1806.0,493.6 1805.0,494.6 1804.0,501.4 1803.0,500.8 1802.0,492.7 1801.0,490.4 1800.0,491.7 1799.0,490.6 1798.0,490.1 1797.0,489.8 1796.0,488.8 1795.0,490.6 1794.0,489.0 1793.0,489.0 1792.0,489.5 1791.0,490.8 1790.0,491.3 1789.0,491.7 1788.0,487.7 1787.0,486.1 1786.0,484.5 1785.0,483.3 1784.0,480.8 1783.0,479.9 1782.0,479.1 1781.0,479.8 1780.0,479.9 1779.0,478.6 1778.0,482.2 1777.0,481.8 1776.0,482.8 1775.0,480.7 1774.0,482.1 1773.0,482.2 1772.0,483.3 1771.0,482.9 1770.0,483.5 1769.0,481.9 1768.0,479.7 1767.0,478.0 1766.0,478.1 1765.0,477.0 1764.0,476.5 1763.0,475.2 1762.0,476.1 1761.0,476.0 1760.0,477.9 1759.0,479.6 1758.0,481.4 1757.0,480.8 1756.0,481.0 1755.0,479.7 1754.0,480.7 1753.0,479.1 1752.0,478.7 1751.0,475.5 1750.0,475.9 1749.0,475.3 1748.0,474.3 1747.0,471.1 1746.0,472.7 1745.0,475.9 1744.0,477.2 1743.0,477.8 1742.0,474.8 1741.0,475.6 1740.0,477.3 1739.0,477.4 1738.0,475.9 1737.0,475.5 1736.0,471.5 1735.0,471.3 1734.0,472.5 1733.0,472.7 1732.0,472.2 1731.0,473.4 1730.0,471.2 1729.0,473.1 1728.0,473.4 1727.0,473.3 1726.0,471.8 1725.0,471.9 1724.0,470.7 1723.0,471.4 1722.0,473.6 1721.0,474.7 1720.0,474.1 1719.0,474.9 1718.0,473.4 1717.0,475.1 1716.0,476.2 1715.0,473.5 1714.0,472.0 1713.0,471.3 1712.0,469.9 1711.0,471.4 1710.0,470.0 1709.0,470.3 1708.0,468.6 1707.0,470.1 1706.0,470.1 1705.0,469.8 1704.0,468.3 1703.0,468.9 1702.0,472.1 1701.0,474.4 1700.0,473.9 1699.0,474.7 1698.0,475.0 1697.0,475.3 1696.0,473.9 1695.0,473.0 1694.0,472.3 1693.0,470.0 1692.0,469.2 1691.0,465.9 1690.0,464.5 1689.0,466.6 1688.0,466.4 1687.0,468.0 1686.0,465.6 1685.0,464.3 1684.0,463.3 1683.0,462.2 1682.0,463.6 1681.0,463.1 1680.0,462.4 1679.0,464.1 1678.0,464.8 1677.0,463.6 1676.0,463.8 1675.0,461.3 1674.0,463.1 1673.0,462.9 1672.0,464.1 1671.0,463.4 1670.0,464.0 1669.0,464.3 1668.0,462.5 1667.0,464.4 1666.0,465.1 1665.0,466.2 1664.0,467.0 1663.0,468.2 1662.0,469.3 1661.0,472.0 1660.0,473.0 1659.0,473.7 1658.0,474.0 1657.0,472.2 1656.0,469.7 1655.0,469.7 1654.0,467.1 1653.0,468.5 1652.0,467.9 1651.0,468.5 1650.0,468.7 1649.0,466.9 1648.0,468.1 1647.0,469.7 1646.0,468.1 1645.0,468.1 1644.0,469.0 1643.0,470.5 1642.0,473.6 1641.0,472.4 1640.0,470.6 1639.0,470.8 1638.0,469.7 1637.0,466.7 1636.0,466.1 1635.0,465.6 1634.0,468.2 1633.0,470.1 1632.0,471.9 1631.0,470.6 1630.0,471.4 1629.0,472.8 1628.0,473.4 1627.0,471.7 1626.0,472.7 1625.0,472.1 1624.0,472.6 1623.0,473.0 1622.0,474.7 1621.0,474.2 1620.0,476.0 1619.0,482.2 1618.0,483.1 1617.0,475.8 1616.0,476.2 1615.0,472.6 1614.0,473.5 1613.0,475.5 1612.0,475.8 1611.0,475.1 1610.0,476.4 1609.0,474.3 1608.0,474.6 1607.0,472.3 1606.0,472.4 1605.0,473.1 1604.0,472.2 1603.0,472.3 1602.0,474.1 1601.0,474.5 1600.0,476.1 1599.0,474.1 1598.0,473.4 1597.0,474.3 1596.0,474.8 1595.0,474.8 1594.0,475.1 1593.0,473.8 1592.0,474.6 1591.0,473.5 1590.0,473.4 1589.0,474.1 1588.0,475.1 1587.0,478.1 1586.0,480.5 1585.0,478.9 1584.0,479.5 1583.0,477.5 1582.0,476.6 1581.0,476.9 1580.0,475.5 1579.0,472.3 1578.0,472.1 1577.0,471.7 1576.0,471.8 1575.0,473.9 1574.0,473.5 1573.0,477.0 1572.0,479.9 1571.0,476.0 1570.0,478.3 1569.0,479.6 1568.0,479.5 1567.0,479.1 1566.0,477.7 1565.0,477.1 1564.0,480.8 1563.0,480.2 1562.0,480.6 1561.0,481.6 1560.0,482.4 1559.0,483.9 1558.0,486.5 1557.0,484.3 1556.0,485.5 1555.0,488.0 1554.0,488.6 1553.0,488.7 1552.0,487.5 1551.0,484.0 1550.0,486.6 1549.0,488.5 1548.0,487.5 1547.0,485.5 1546.0,484.1 1545.0,484.1 1544.0,483.2 1543.0,481.8 1542.0,481.5 1541.0,482.9 1540.0,484.2 1539.0,485.5 1538.0,484.6 1537.0,486.0 1536.0,484.4 1535.0,483.0 1534.0,483.3 1533.0,483.9 1532.0,483.6 1531.0,483.9 1530.0,484.1 1529.0,485.8 1528.0,486.9 1527.0,487.7 1526.0,489.7 1525.0,489.5 1524.0,489.5 1523.0,487.8 1522.0,486.9 1521.0,488.8 1520.0,486.4 1519.0,487.4 1518.0,487.7 1517.0,486.7 1516.0,487.3 1515.0,488.7 1514.0,488.9 1513.0,489.6 1512.0,489.5 1511.0,490.3 1510.0,491.6 1509.0,493.0 1508.0,492.0 1507.0,490.1 1506.0,489.1 1505.0,487.2 1504.0,485.7 1503.0,484.3 1502.0,482.8 1501.0,484.3 1500.0,485.3 1499.0,485.1 1498.0,487.5 1497.0,487.3 1496.0,487.4 1495.0,487.2 1494.0,487.1 1493.0,489.0 1492.0,489.9 1491.0,488.9 1490.0,490.1 1489.0,489.4 1488.0,489.6 1487.0,489.6 1486.0,486.9 1485.0,488.4 1484.0,487.9 1483.0,488.7 1482.0,488.7 1481.0,488.4 1480.0,488.7 1479.0,489.5 1478.0,489.3 1477.0,489.8 1476.0,490.7 1475.0,489.8 1474.0,489.6 1473.0,488.9 1472.0,489.0 1471.0,490.0 1470.0,492.0 1469.0,491.2 1468.0,492.1 1467.0,492.1 1466.0,493.5 1465.0,491.9 1464.0,490.5 1463.0,487.7 1462.0,489.1 1461.0,491.8 1460.0,492.8 1459.0,491.0 1458.0,491.8 1457.0,492.1 1456.0,493.8 1455.0,495.5 1454.0,493.3 1453.0,492.2 1452.0,493.0 1451.0,491.2 1450.0,490.0 1449.0,489.1 1448.0,487.1 1447.0,488.5 1446.0,490.4 1445.0,488.9 1444.0,487.1 1443.0,487.7 1442.0,488.0 1441.0,488.9 1440.0,488.2 1439.0,489.1 1438.0,490.1 1437.0,490.6 1436.0,490.3 1435.0,489.8 1434.0,493.1 1433.0,493.1 1432.0,491.9 1431.0,490.5 1430.0,489.8 1429.0,490.7 1428.0,490.7 1427.0,490.7 1426.0,491.3 1425.0,491.8 1424.0,492.6 1423.0,491.1 1422.0,490.5 1421.0,488.4 1420.0,487.8 1419.0,487.9 1418.0,487.4 1417.0,487.3 1416.0,488.3 1415.0,488.2 1414.0,488.4 1413.0,489.4 1412.0,491.6 1411.0,491.6 1410.0,493.4 1409.0,493.7 1408.0,494.2 1407.0,495.3 1406.0,496.7 1405.0,496.2 1404.0,497.6 1403.0,496.2 1402.0,496.4 1401.0,496.6 1400.0,496.4 1399.0,499.4 1398.0,497.2 1397.0,493.4 1396.0,492.3 1395.0,495.8 1394.0,496.5 1393.0,495.5 1392.0,495.1 1391.0,495.7 1390.0,495.1 1389.0,496.1 1388.0,495.0 1387.0,495.7 1386.0,494.4 1385.0,495.3 1384.0,494.6 1383.0,493.4 1382.0,493.5 1381.0,494.7 1380.0,496.4 1379.0,496.2 1378.0,496.1 1377.0,496.5 1376.0,495.2 1375.0,495.0 1374.0,495.6 1373.0,496.3 1372.0,496.8 1371.0,497.0 1370.0,495.5 1369.0,496.6 1368.0,496.1 1367.0,498.2 1366.0,496.2 1365.0,497.4 1364.0,495.7 1363.0,497.3 1362.0,498.0 1361.0,495.7 1360.0,494.5 1359.0,491.3 1358.0,491.6 1357.0,491.5 1356.0,491.3 1355.0,492.9 1354.0,493.8 1353.0,494.5 1352.0,495.4 1351.0,496.9 1350.0,495.6 1349.0,494.9 1348.0,494.2 1347.0,494.4 1346.0,494.1 1345.0,495.2 1344.0,493.6 1343.0,495.5 1342.0,494.5 1341.0,494.8 1340.0,497.1 1339.0,498.7 1338.0,500.1 1337.0,502.5 1336.0,499.8 1335.0,499.6 1334.0,500.8 1333.0,500.3 1332.0,500.8 1331.0,501.0 1330.0,498.6 1329.0,499.2 1328.0,500.3 1327.0,500.0 1326.0,501.1 1325.0,501.7 1324.0,502.8 1323.0,502.6 1322.0,502.8 1321.0,502.5 1320.0,501.8 1319.0,500.6 1318.0,497.8 1317.0,499.0 1316.0,500.9 1315.0,499.2 1314.0,498.8 1313.0,500.2 1312.0,500.6 1311.0,500.7 1310.0,501.2 1309.0,499.4 1308.0,500.4 1307.0,501.8 1306.0,500.0 1305.0,499.2 1304.0,499.7 1303.0,499.7 1302.0,502.3 1301.0,502.7 1300.0,501.8 1299.0,501.9 1298.0,511.7 1297.0,512.0 1296.0,505.3 1295.0,502.8 1294.0,504.1 1293.0,506.0 1292.0,505.5 1291.0,504.2 1290.0,503.3 1289.0,499.7 1288.0,499.3 1287.0,497.3 1286.0,501.9 1285.0,502.5 1284.0,498.7 1283.0,499.5 1282.0,501.0 1281.0,502.3 1280.0,501.3 1279.0,502.0 1278.0,502.5 1277.0,504.1 1276.0,505.2 1275.0,506.5 1274.0,505.7 1273.0,506.5 1272.0,504.7 1271.0,504.4 1270.0,502.7 1269.0,504.3 1268.0,502.6 1267.0,502.1 1266.0,501.5 1265.0,505.5 1264.0,502.8 1263.0,505.5 1262.0,502.8 1261.0,506.0 1260.0,504.6 1259.0,505.0 1258.0,500.8 1257.0,501.6 1256.0,500.6 1255.0,502.4 1254.0,501.6 1253.0,501.5 1252.0,500.2 1251.0,502.1 1250.0,504.3 1249.0,504.8 1248.0,504.9 1247.0,503.3 1246.0,505.8 1245.0,505.5 1244.0,505.8 1243.0,507.7 1242.0,506.9 1241.0,505.4 1240.0,505.9 1239.0,505.3 1238.0,507.0 1237.0,507.1 1236.0,505.1 1235.0,503.5 1234.0,503.1 1233.0,502.7 1232.0,503.6 1231.0,503.9 1230.0,502.8 1229.0,503.6 1228.0,505.7 1227.0,505.5 1226.0,506.0 1225.0,506.0 1224.0,507.6 1223.0,506.2 1222.0,507.3 1221.0,503.3 1220.0,503.2 1219.0,502.6 1218.0,503.0 1217.0,503.5 1216.0,502.4 1215.0,501.0 1214.0,503.4 1213.0,502.5 1212.0,503.6 1211.0,504.8 1210.0,504.4 1209.0,506.5 1208.0,505.6 1207.0,505.2 1206.0,506.5 1205.0,506.8 1204.0,505.4 1203.0,506.7 1202.0,508.3 1201.0,510.5 1200.0,511.3 1199.0,508.9 1198.0,508.8 1197.0,508.4 1196.0,508.1 1195.0,507.7 1194.0,504.8 1193.0,501.2 1192.0,501.6 1191.0,500.1 1190.0,502.6 1189.0,503.9 1188.0,504.8 1187.0,505.2 1186.0,507.7 1185.0,508.7 1184.0,510.6 1183.0,510.6 1182.0,511.5 1181.0,510.3 1180.0,507.9 1179.0,506.3 1178.0,505.7 1177.0,505.1 1176.0,505.6 1175.0,505.9 1174.0,506.6 1173.0,506.8 1172.0,507.6 1171.0,505.8 1170.0,505.9 1169.0,504.9 1168.0,505.1 1167.0,504.8 1166.0,506.5 1165.0,504.4 1164.0,504.7 1163.0,505.6 1162.0,506.6 1161.0,507.8 1160.0,505.1 1159.0,502.0 1158.0,504.4 1157.0,503.9 1156.0,503.3 1155.0,502.4 1154.0,501.1 1153.0,503.0 1152.0,503.0 1151.0,501.5 1150.0,501.8 1149.0,504.1 1148.0,506.6 1147.0,505.3 1146.0,502.9 1145.0,504.1 1144.0,505.3 1143.0,504.8 1142.0,504.9 1141.0,502.5 1140.0,501.7 1139.0,501.5 1138.0,501.5 1137.0,503.8 1136.0,505.3 1135.0,505.5 1134.0,504.4 1133.0,503.8 1132.0,501.4 1131.0,500.6 1130.0,500.5 1129.0,500.4 1128.0,498.2 1127.0,499.1 1126.0,498.3 1125.0,501.5 1124.0,499.7 1123.0,497.6 1122.0,494.0 1121.0,494.3 1120.0,496.9 1119.0,498.6 1118.0,499.2 1117.0,498.6 1116.0,499.0 1115.0,499.0 1114.0,498.8 1113.0,499.6 1112.0,501.0 1111.0,503.9 1110.0,503.7 1109.0,503.6 1108.0,502.3 1107.0,501.5 1106.0,500.7 1105.0,501.5 1104.0,499.1 1103.0,500.6 1102.0,501.5 1101.0,502.2 1100.0,501.4 1099.0,499.5 1098.0,499.4 1097.0,499.6 1096.0,501.2 1095.0,499.8 1094.0,498.1 1093.0,504.7 1092.0,504.1 1091.0,504.2 1090.0,504.0 1089.0,498.2 1088.0,497.5 1087.0,497.2 1086.0,497.7 1085.0,497.3 1084.0,498.7 1083.0,499.3 1082.0,498.9 1081.0,500.1 1080.0,499.6 1079.0,497.4 1078.0,496.0 1077.0,496.9 1076.0,496.8 1075.0,496.6 1074.0,495.1 1073.0,494.8 1072.0,496.0 1071.0,497.2 1070.0,497.5 1069.0,496.0 1068.0,494.5 1067.0,493.5 1066.0,495.5 1065.0,499.0 1064.0,501.0 1063.0,500.8 1062.0,499.7 1061.0,494.8 1060.0,494.5 1059.0,493.8 1058.0,494.0 1057.0,493.5 1056.0,490.5 1055.0,491.2 1054.0,492.0 1053.0,499.9 1052.0,500.0 1051.0,501.5 1050.0,503.5 1049.0,498.1 1048.0,496.7 1047.0,503.9 1046.0,505.1 1045.0,502.9 1044.0,496.1 1043.0,496.9 1042.0,496.8 1041.0,500.1 1040.0,499.3 1039.0,498.0 1038.0,496.4 1037.0,493.8 1036.0,492.7 1035.0,492.7 1034.0,490.5 1033.0,489.8 1032.0,489.6 1031.0,490.7 1030.0,489.2 1029.0,490.2 1028.0,490.4 1027.0,491.7 1026.0,491.9 1025.0,492.5 1024.0,492.5 1023.0,494.6 1022.0,493.8 1021.0,495.6 1020.0,496.4 1019.0,498.6 1018.0,496.2 1017.0,494.1 1016.0,492.0 1015.0,490.7 1014.0,491.1 1013.0,488.9 1012.0,487.3 1011.0,489.6 1010.0,498.0 1009.0,496.5 1008.0,495.1 1007.0,493.2 1006.0,488.1 1005.0,486.8 1004.0,485.8 1003.0,484.9 1002.0,485.1 1001.0,485.5 1000.0,488.3 999.0,488.9 998.0,491.1 997.0,491.1 996.0,489.5 995.0,488.5 994.0,488.2 993.0,485.5 992.0,483.7 991.0,483.3 990.0,484.0 989.0,484.8 988.0,484.9 987.0,483.7 986.0,484.4 985.0,484.0 984.0,484.9 983.0,487.6 982.0,490.5 981.0,490.4 980.0,491.2 979.0,490.0 978.0,490.1 977.0,490.2 976.0,489.9 975.0,488.8 974.0,489.6 973.0,490.5 972.0,490.2 971.0,489.4 970.0,486.8 969.0,485.7 968.0,487.5 967.0,487.5 966.0,483.8 965.0,485.0 964.0,484.2 963.0,486.3 962.0,487.1 961.0,485.9 960.0,483.7 959.0,483.9 958.0,483.3 957.0,483.9 956.0,485.9 955.0,486.3 954.0,485.2 953.0,484.6 952.0,486.0 951.0,486.0 950.0,487.9 949.0,486.0 948.0,487.2 947.0,487.3 946.0,489.5 945.0,488.2 944.0,489.4 943.0,487.6 942.0,486.1 941.0,484.5 940.0,486.5 939.0,486.9 938.0,486.7 937.0,486.9 936.0,485.3 935.0,486.4 934.0,486.4 933.0,488.1 932.0,487.6 931.0,488.1 930.0,487.9 929.0,489.2 928.0,488.5 927.0,489.1 926.0,488.2 925.0,489.4 924.0,490.8 923.0,492.2 922.0,492.1 921.0,491.5 920.0,487.8 919.0,486.0 918.0,485.9 917.0,485.8 916.0,485.4 915.0,483.3 914.0,489.1 913.0,489.6 912.0,483.5 911.0,483.8 910.0,484.7 909.0,484.8 908.0,485.1 907.0,485.8 906.0,488.0 905.0,487.7 904.0,490.1 903.0,487.8 902.0,486.5 901.0,487.3 900.0,484.0 899.0,484.0 898.0,486.5 897.0,486.1 896.0,482.1 895.0,482.6 894.0,481.6 893.0,487.9 892.0,487.6 891.0,488.7 890.0,491.5 889.0,487.5 888.0,489.6 887.0,491.7 886.0,488.1 885.0,487.4 884.0,487.2 883.0,485.0 882.0,485.5 881.0,485.2 880.0,483.5 879.0,485.5 878.0,485.9 877.0,483.9 876.0,485.5 875.0,485.2 874.0,481.1 873.0,478.9 872.0,477.2 871.0,478.3 870.0,481.2 869.0,482.1 868.0,483.4 867.0,484.0 866.0,485.2 865.0,485.5 864.0,484.7 863.0,484.9 862.0,482.6 861.0,481.0 860.0,480.0 859.0,480.5 858.0,480.8 857.0,481.4 856.0,480.9 855.0,484.2 854.0,485.3 853.0,485.1 852.0,485.4 851.0,484.9 850.0,488.1 849.0,489.9 848.0,487.9 847.0,488.3 846.0,487.7 845.0,488.0 844.0,486.1 843.0,486.3 842.0,486.8 841.0,488.9 840.0,490.2 839.0,488.9 838.0,488.8 837.0,490.3 836.0,488.3 835.0,486.8 834.0,484.6 833.0,482.5 832.0,481.7 831.0,481.8 830.0,479.9 829.0,481.7 828.0,484.2 827.0,484.2 826.0,483.9 825.0,485.4 824.0,485.4 823.0,488.5 822.0,489.2 821.0,488.1 820.0,487.4 819.0,488.5 818.0,486.0 817.0,485.6 816.0,484.1 815.0,484.0 814.0,485.5 813.0,486.1 812.0,487.8 811.0,486.9 810.0,486.2 809.0,490.1 808.0,490.8 807.0,485.2 806.0,486.3 805.0,488.4 804.0,489.9 803.0,490.7 802.0,487.4 801.0,487.2 800.0,485.8 799.0,485.4 798.0,485.8 797.0,482.8 796.0,482.4 795.0,484.2 794.0,486.1 793.0,485.5 792.0,482.8 791.0,481.3 790.0,482.9 789.0,483.1 788.0,488.9 787.0,488.8 786.0,489.7 785.0,482.5 784.0,482.7 783.0,482.6 782.0,483.1 781.0,480.9 780.0,481.0 779.0,479.7 778.0,480.6 777.0,480.6 776.0,482.7 775.0,484.4 774.0,487.4 773.0,488.2 772.0,489.0 771.0,488.5 770.0,486.9 769.0,484.6 768.0,483.7 767.0,485.6 766.0,485.4 765.0,484.2 764.0,485.0 763.0,486.2 762.0,496.2 761.0,495.0 760.0,485.1 759.0,482.6 758.0,485.3 757.0,485.3 756.0,485.5 755.0,482.9 754.0,482.0 753.0,482.6 752.0,483.2 751.0,481.9 750.0,481.5 749.0,483.0 748.0,484.2 747.0,483.4 746.0,486.2 745.0,485.3 744.0,485.3 743.0,483.9 742.0,483.7 741.0,482.0 740.0,483.7 739.0,482.4 738.0,483.9 737.0,483.0 736.0,482.5 735.0,484.3 734.0,484.7 733.0,483.1 732.0,487.0 731.0,488.4 730.0,488.9 729.0,487.0 728.0,484.5 727.0,484.9 726.0,486.0 725.0,483.2 724.0,482.6 723.0,481.1 722.0,475.6 721.0,475.5 720.0,479.4 719.0,482.7 718.0,483.3 717.0,484.5 716.0,483.6 715.0,490.4 714.0,490.8 713.0,489.3 712.0,485.5 711.0,482.7 710.0,483.2 709.0,484.1 708.0,485.6 707.0,484.5 706.0,484.2 705.0,483.1 704.0,481.9 703.0,481.9 702.0,482.1 701.0,482.8 700.0,481.9 699.0,483.6 698.0,482.5 697.0,482.0 696.0,479.8 695.0,482.7 694.0,483.1 693.0,482.3 692.0,480.5 691.0,479.7 690.0,480.3 689.0,481.7 688.0,480.1 687.0,478.0 686.0,479.1 685.0,481.0 684.0,482.5 683.0,481.5 682.0,479.8 681.0,481.1 680.0,483.2 679.0,481.0 678.0,479.0 677.0,478.3 676.0,480.0 675.0,482.7 674.0,480.7 673.0,479.8 672.0,478.5 671.0,477.7 670.0,477.9 669.0,477.9 668.0,478.7 667.0,479.0 666.0,479.9 665.0,481.0 664.0,482.2 663.0,484.0 662.0,485.2 661.0,484.9 660.0,485.6 659.0,484.7 658.0,486.8 657.0,487.3 656.0,485.4 655.0,484.9 654.0,484.7 653.0,484.2 652.0,484.4 651.0,480.2 650.0,477.9 649.0,479.1 648.0,482.0 647.0,482.6 646.0,483.0 645.0,482.6 644.0,482.2 643.0,483.7 642.0,489.4 641.0,487.0 640.0,480.3 639.0,479.0 638.0,481.3 637.0,480.6 636.0,487.5 635.0,488.6 634.0,489.1 633.0,487.5 632.0,480.4 631.0,481.3 630.0,485.5 629.0,485.7 628.0,480.2 627.0,477.0 626.0,480.2 625.0,482.2 624.0,482.1 623.0,479.1 622.0,477.9 621.0,478.4 620.0,480.3 619.0,487.7 618.0,484.7 617.0,488.9 616.0,487.9 615.0,480.9 614.0,479.5 613.0,479.7 612.0,479.7 611.0,481.1 610.0,479.9 609.0,478.8 608.0,479.8 607.0,478.7 606.0,478.5 605.0,476.6 604.0,476.0 603.0,476.5 602.0,476.2 601.0,475.6 600.0,478.6 599.0,479.8 598.0,476.8 597.0,479.9 596.0,479.2 595.0,478.6 594.0,478.0 593.0,476.7 592.0,476.6 591.0,476.0 590.0,476.1 589.0,476.6 588.0,479.1 587.0,481.4 586.0,483.0 585.0,480.3 584.0,480.7 583.0,479.2 582.0,481.5 581.0,480.5 580.0,479.1 579.0,478.3 578.0,479.6 577.0,482.2 576.0,492.3 575.0,492.6 574.0,492.9 573.0,491.6 572.0,483.6 571.0,480.1 570.0,477.4 569.0,479.0 568.0,480.6 567.0,482.2 566.0,483.4 565.0,483.3 564.0,485.8 563.0,485.6 562.0,485.4 561.0,484.5 560.0,491.3 559.0,488.8 558.0,486.9 557.0,478.2 556.0,475.2 555.0,475.8 554.0,476.5 553.0,476.1 552.0,478.1 551.0,478.9 550.0,481.0 549.0,482.5 548.0,482.8 547.0,480.6 546.0,480.9 545.0,480.6 544.0,483.1 543.0,483.0 542.0,481.3 541.0,479.4 540.0,479.1 539.0,478.9 538.0,479.3 537.0,476.6 536.0,477.7 535.0,478.0 534.0,480.2 533.0,481.4 532.0,480.2 531.0,481.8 530.0,482.4 529.0,480.4 528.0,480.6 527.0,483.4 526.0,484.1 525.0,484.9 524.0,477.5 523.0,476.7 522.0,476.3 521.0,476.9 520.0,480.4 519.0,481.8 518.0,482.2 517.0,483.3 516.0,485.1 515.0,484.4 514.0,483.6 513.0,481.2 512.0,479.5 511.0,477.9 510.0,478.4 509.0,474.5 508.0,474.5 507.0,474.7 506.0,478.6 505.0,479.2 504.0,480.4 503.0,479.1 502.0,479.5 501.0,478.5 500.0,481.1 499.0,478.9 498.0,479.8 497.0,480.3 496.0,479.8 495.0,479.2 494.0,481.4 493.0,479.3 492.0,480.2 491.0,482.5 490.0,481.3 489.0,481.4 488.0,480.1 487.0,477.6 486.0,481.0 485.0,480.9 484.0,481.6 483.0,480.2 482.0,481.3 481.0,483.0 480.0,483.6 479.0,485.5 478.0,480.6 477.0,479.9 476.0,479.4 475.0,478.6 474.0,476.5 473.0,475.8 472.0,476.3 471.0,478.6 470.0,481.2 469.0,480.7 468.0,480.9 467.0,480.1 466.0,477.4 465.0,477.8 464.0,478.5 463.0,476.3 462.0,476.7 461.0,476.2 460.0,476.4 459.0,481.2 458.0,479.0 457.0,476.7 456.0,477.0 455.0,475.6 454.0,476.6 453.0,478.2 452.0,477.9 451.0,479.1 450.0,481.4 449.0,481.9 448.0,481.5 447.0,482.9 446.0,481.4 445.0,480.8 444.0,480.6 443.0,480.6 442.0,477.9 441.0,476.3 440.0,479.5 439.0,478.5 438.0,480.1 437.0,479.2 436.0,477.6 435.0,479.1 434.0,480.9 433.0,476.3 432.0,475.5 431.0,483.4 430.0,484.7 429.0,476.2 428.0,479.4 427.0,481.8 426.0,482.0 425.0,483.6 424.0,480.9 423.0,482.1 422.0,484.6 421.0,481.8 420.0,482.0 419.0,480.6 418.0,479.3 417.0,480.9 416.0,481.0 415.0,481.6 414.0,482.5 413.0,482.2 412.0,482.5 411.0,478.9 410.0,476.2 409.0,475.5 408.0,476.7 407.0,476.4 406.0,475.5 405.0,475.3 404.0,476.5 403.0,475.3 402.0,472.9 401.0,472.5 400.0,471.5 399.0,473.7 398.0,477.8 397.0,480.4 396.0,484.1 395.0,486.7 394.0,481.5 393.0,480.7 392.0,481.1 391.0,481.7 390.0,479.7 389.0,482.9 388.0,481.8 387.0,485.9 386.0,486.5 385.0,486.9 384.0,488.1 383.0,490.2 382.0,484.8 381.0,483.5 380.0,483.1 379.0,484.0 378.0,481.5 377.0,480.7 376.0,481.0 375.0,480.8 374.0,478.9 373.0,480.5 372.0,483.2 371.0,494.1 370.0,492.0 369.0,488.2 368.0,488.1 367.0,482.8 366.0,480.7 365.0,481.3 364.0,482.3 363.0,483.7 362.0,484.1 361.0,484.5 360.0,480.6 359.0,480.0 358.0,482.5 357.0,480.9 356.0,481.0 355.0,480.3 354.0,476.8 353.0,478.7 352.0,477.4 351.0,477.6 350.0,475.4 349.0,475.5 348.0,473.6 347.0,477.0 346.0,475.8 345.0,474.1 344.0,473.4 343.0,475.8 342.0,474.1 341.0,474.3 340.0,471.4 339.0,476.3 338.0,476.9 337.0,478.8 336.0,478.8 335.0,481.7 334.0,477.9 333.0,479.7 332.0,476.6 331.0,480.0 330.0,477.6 329.0,474.5 328.0,474.0 327.0,477.9 326.0,477.4 325.0,475.6 324.0,472.3 323.0,473.3 322.0,474.6 321.0,475.7 320.0,472.5 319.0,471.2 318.0,470.4 317.0,473.9 316.0,476.4 315.0,471.5 314.0,473.1 313.0,473.2 312.0,477.3 311.0,476.8 310.0,477.6 309.0,474.7 308.0,475.4 307.0,474.1 306.0,469.5 305.0,474.7 304.0,471.8 303.0,480.2 302.0,484.4 301.0,472.9 300.0,477.6 299.0,474.7 298.0,472.0 297.0,471.7 296.0,471.7 295.0,471.3 294.0,475.6 293.0,472.9 292.0,471.5 291.0,470.5 290.0,469.1 289.0,478.4 288.0,476.1 287.0,464.1 286.0,463.2 285.0,465.8 284.0,465.9 283.0,471.0 282.0,471.5 281.0,474.1 280.0,473.2 279.0,474.4 278.0,473.4 277.0,473.2 276.0,467.1 275.0,465.9 274.0,463.9 273.0,465.0 272.0,478.7 271.0,484.5 270.0,491.1 269.0,495.3 268.0,491.9 267.0,492.9 266.0,497.9 265.0,493.1 264.0,496.7 263.0,497.9 262.0,499.0 261.0,496.9 260.0,499.5 259.0,502.9 258.0,510.5 257.0,512.4 256.0,515.4 255.0,515.4 254.0,519.9 253.0,522.1 252.0,523.8 251.0,527.0 250.0,530.1 249.0,532.4 248.0,538.7 247.0,537.1 246.0,536.7 245.0,541.6 244.0,555.3 243.0,584.7 242.0,614.8Z" fill="#fdb967" stroke="#fdb967" stroke-width="1.2" stroke-linejoin="round" shape-rendering="crispEdges"/>
<path d="M242.0,319.9 243.0,308.7 244.0,300.0 245.0,296.9 246.0,290.8 247.0,287.4 248.0,283.6 249.0,279.1 250.0,275.7 251.0,276.5 252.0,278.2 253.0,278.8 254.0,282.7 255.0,277.7 256.0,272.8 257.0,262.8 258.0,253.2 259.0,250.4 260.0,245.4 261.0,245.3 262.0,247.9 263.0,242.1 264.0,242.1 265.0,243.7 266.0,241.5 267.0,250.9 268.0,246.3 269.0,242.1 270.0,241.9 271.0,240.8 272.0,235.6 273.0,236.0 274.0,232.0 275.0,228.7 276.0,227.2 277.0,222.2 278.0,228.4 279.0,233.2 280.0,237.5 281.0,241.2 282.0,246.5 283.0,249.2 284.0,257.5 285.0,258.8 286.0,257.3 287.0,252.9 288.0,253.6 289.0,252.2 290.0,246.3 291.0,237.7 292.0,234.8 293.0,238.7 294.0,244.9 295.0,240.9 296.0,241.4 297.0,247.4 298.0,248.8 299.0,248.4 300.0,250.1 301.0,246.7 302.0,250.2 303.0,253.3 304.0,248.4 305.0,248.3 306.0,246.8 307.0,247.2 308.0,250.9 309.0,248.2 310.0,245.8 311.0,247.6 312.0,250.1 313.0,248.1 314.0,246.4 315.0,245.3 316.0,245.1 317.0,243.2 318.0,242.7 319.0,238.1 320.0,240.3 321.0,240.7 322.0,242.2 323.0,241.8 324.0,242.6 325.0,248.2 326.0,253.9 327.0,253.6 328.0,250.9 329.0,251.6 330.0,256.0 331.0,249.0 332.0,248.7 333.0,246.2 334.0,249.9 335.0,255.0 336.0,255.7 337.0,253.4 338.0,257.4 339.0,256.1 340.0,254.9 341.0,249.2 342.0,243.4 343.0,243.8 344.0,245.3 345.0,244.1 346.0,247.6 347.0,250.7 348.0,253.9 349.0,254.5 350.0,251.5 351.0,251.5 352.0,250.9 353.0,248.4 354.0,243.7 355.0,242.0 356.0,244.7 357.0,244.1 358.0,245.6 359.0,247.4 360.0,249.6 361.0,252.0 362.0,251.6 363.0,255.2 364.0,259.2 365.0,248.8 366.0,249.4 367.0,250.8 368.0,250.1 369.0,260.6 370.0,254.7 371.0,254.8 372.0,258.4 373.0,262.9 374.0,264.2 375.0,264.3 376.0,263.9 377.0,261.1 378.0,262.1 379.0,265.4 380.0,261.2 381.0,263.7 382.0,263.4 383.0,265.2 384.0,264.4 385.0,265.0 386.0,261.3 387.0,265.0 388.0,264.9 389.0,267.8 390.0,269.3 391.0,268.5 392.0,268.6 393.0,266.3 394.0,267.5 395.0,263.8 396.0,264.2 397.0,264.8 398.0,265.6 399.0,269.0 400.0,268.0 401.0,265.5 402.0,263.1 403.0,260.9 404.0,262.3 405.0,263.2 406.0,262.7 407.0,267.5 408.0,264.7 409.0,266.8 410.0,268.7 411.0,268.8 412.0,268.8 413.0,267.4 414.0,267.9 415.0,270.2 416.0,270.4 417.0,271.5 418.0,269.8 419.0,270.1 420.0,267.1 421.0,266.6 422.0,267.8 423.0,269.4 424.0,274.3 425.0,278.3 426.0,280.5 427.0,283.9 428.0,285.2 429.0,283.6 430.0,280.5 431.0,280.9 432.0,281.1 433.0,282.0 434.0,278.0 435.0,274.8 436.0,280.4 437.0,279.5 438.0,281.4 439.0,283.3 440.0,285.3 441.0,288.3 442.0,290.2 443.0,286.1 444.0,289.1 445.0,288.4 446.0,288.3 447.0,285.9 448.0,283.8 449.0,282.2 450.0,286.1 451.0,283.3 452.0,282.4 453.0,280.5 454.0,283.3 455.0,285.8 456.0,287.7 457.0,284.9 458.0,285.9 459.0,288.1 460.0,290.2 461.0,290.9 462.0,291.1 463.0,291.1 464.0,291.5 465.0,293.9 466.0,296.8 467.0,298.0 468.0,299.5 469.0,297.3 470.0,297.8 471.0,298.1 472.0,290.5 473.0,286.8 474.0,288.9 475.0,297.1 476.0,299.0 477.0,295.9 478.0,297.2 479.0,296.9 480.0,302.2 481.0,304.5 482.0,304.6 483.0,304.5 484.0,301.2 485.0,299.0 486.0,296.0 487.0,294.7 488.0,292.3 489.0,289.5 490.0,288.6 491.0,285.9 492.0,284.8 493.0,285.1 494.0,293.8 495.0,292.6 496.0,294.0 497.0,295.2 498.0,293.9 499.0,294.2 500.0,296.3 501.0,288.3 502.0,289.5 503.0,290.4 504.0,302.6 505.0,305.1 506.0,305.4 507.0,305.8 508.0,307.4 509.0,307.8 510.0,309.1 511.0,305.4 512.0,303.9 513.0,299.1 514.0,300.1 515.0,301.4 516.0,303.1 517.0,301.3 518.0,302.8 519.0,302.1 520.0,303.7 521.0,304.2 522.0,305.5 523.0,307.9 524.0,305.4 525.0,303.9 526.0,305.6 527.0,308.9 528.0,306.1 529.0,304.5 530.0,306.7 531.0,309.7 532.0,310.1 533.0,306.8 534.0,307.3 535.0,309.1 536.0,310.5 537.0,309.7 538.0,306.8 539.0,306.9 540.0,308.3 541.0,304.8 542.0,306.3 543.0,306.0 544.0,305.8 545.0,306.2 546.0,307.3 547.0,308.6 548.0,310.8 549.0,310.2 550.0,309.4 551.0,309.2 552.0,308.9 553.0,308.6 554.0,307.6 555.0,307.1 556.0,309.3 557.0,311.4 558.0,310.9 559.0,310.0 560.0,310.7 561.0,312.8 562.0,311.8 563.0,312.0 564.0,311.9 565.0,315.2 566.0,317.6 567.0,318.7 568.0,315.2 569.0,313.5 570.0,314.5 571.0,316.2 572.0,315.7 573.0,317.9 574.0,316.4 575.0,317.3 576.0,319.3 577.0,317.3 578.0,315.6 579.0,317.3 580.0,316.0 581.0,316.7 582.0,318.8 583.0,319.2 584.0,317.9 585.0,319.5 586.0,316.1 587.0,310.3 588.0,310.4 589.0,310.3 590.0,317.0 591.0,315.5 592.0,313.5 593.0,311.6 594.0,313.4 595.0,314.5 596.0,316.6 597.0,313.5 598.0,312.8 599.0,311.4 600.0,314.9 601.0,312.7 602.0,312.9 603.0,313.6 604.0,314.7 605.0,317.3 606.0,318.4 607.0,319.1 608.0,318.2 609.0,319.5 610.0,319.1 611.0,320.3 612.0,317.9 613.0,319.4 614.0,316.6 615.0,316.3 616.0,316.1 617.0,314.9 618.0,315.6 619.0,316.0 620.0,313.7 621.0,315.7 622.0,317.2 623.0,318.3 624.0,318.9 625.0,321.0 626.0,317.9 627.0,319.6 628.0,320.8 629.0,321.3 630.0,320.8 631.0,320.0 632.0,316.6 633.0,320.3 634.0,319.4 635.0,319.6 636.0,318.2 637.0,318.0 638.0,317.8 639.0,319.8 640.0,317.6 641.0,318.8 642.0,315.6 643.0,316.2 644.0,319.1 645.0,320.8 646.0,317.9 647.0,319.2 648.0,318.2 649.0,317.7 650.0,323.7 651.0,321.2 652.0,322.0 653.0,321.3 654.0,320.9 655.0,321.1 656.0,320.7 657.0,322.1 658.0,326.4 659.0,326.1 660.0,326.7 661.0,326.7 662.0,326.6 663.0,329.0 664.0,329.1 665.0,327.8 666.0,326.3 667.0,327.6 668.0,328.0 669.0,330.0 670.0,327.0 671.0,326.6 672.0,326.0 673.0,327.1 674.0,326.3 675.0,325.6 676.0,324.8 677.0,325.7 678.0,326.8 679.0,328.7 680.0,325.1 681.0,323.1 682.0,323.6 683.0,322.3 684.0,321.9 685.0,323.3 686.0,321.6 687.0,323.9 688.0,325.1 689.0,324.2 690.0,325.4 691.0,327.4 692.0,326.9 693.0,328.6 694.0,328.8 695.0,330.3 696.0,330.9 697.0,332.2 698.0,330.3 699.0,330.1 700.0,327.6 701.0,328.7 702.0,327.4 703.0,328.2 704.0,326.7 705.0,325.7 706.0,318.0 707.0,320.8 708.0,327.3 709.0,327.9 710.0,327.2 711.0,326.5 712.0,327.8 713.0,330.6 714.0,329.9 715.0,328.6 716.0,330.7 717.0,331.1 718.0,334.8 719.0,334.2 720.0,333.8 721.0,332.3 722.0,332.8 723.0,331.2 724.0,330.7 725.0,331.3 726.0,330.7 727.0,329.7 728.0,329.5 729.0,330.7 730.0,333.2 731.0,333.9 732.0,332.9 733.0,332.4 734.0,335.0 735.0,335.9 736.0,334.9 737.0,333.1 738.0,330.6 739.0,331.6 740.0,331.6 741.0,329.6 742.0,328.1 743.0,328.2 744.0,329.7 745.0,331.5 746.0,335.2 747.0,334.5 748.0,334.2 749.0,334.3 750.0,334.5 751.0,333.1 752.0,331.3 753.0,331.2 754.0,331.4 755.0,331.6 756.0,331.5 757.0,332.4 758.0,333.6 759.0,335.1 760.0,333.5 761.0,334.2 762.0,335.6 763.0,336.7 764.0,337.5 765.0,335.9 766.0,334.6 767.0,333.4 768.0,334.2 769.0,333.7 770.0,335.5 771.0,336.6 772.0,337.5 773.0,335.6 774.0,337.5 775.0,337.6 776.0,337.8 777.0,335.0 778.0,334.8 779.0,333.4 780.0,334.9 781.0,330.9 782.0,331.9 783.0,332.5 784.0,333.9 785.0,332.5 786.0,332.9 787.0,333.1 788.0,334.8 789.0,336.0 790.0,334.9 791.0,335.6 792.0,334.8 793.0,334.5 794.0,334.4 795.0,337.4 796.0,336.8 797.0,337.0 798.0,337.0 799.0,336.7 800.0,337.2 801.0,338.4 802.0,340.0 803.0,339.2 804.0,339.5 805.0,340.2 806.0,339.3 807.0,338.0 808.0,337.4 809.0,339.4 810.0,339.6 811.0,341.4 812.0,341.1 813.0,342.2 814.0,340.7 815.0,339.7 816.0,337.4 817.0,340.0 818.0,339.3 819.0,338.1 820.0,337.4 821.0,340.1 822.0,339.2 823.0,341.0 824.0,338.8 825.0,337.9 826.0,337.1 827.0,337.0 828.0,337.4 829.0,339.4 830.0,335.9 831.0,336.7 832.0,337.4 833.0,336.5 834.0,337.3 835.0,336.2 836.0,336.8 837.0,337.5 838.0,336.7 839.0,336.6 840.0,340.3 841.0,340.8 842.0,338.5 843.0,339.3 844.0,345.8 845.0,346.1 846.0,345.2 847.0,344.2 848.0,343.8 849.0,344.2 850.0,345.0 851.0,342.6 852.0,341.7 853.0,340.5 854.0,340.2 855.0,336.3 856.0,334.6 857.0,338.5 858.0,338.8 859.0,340.2 860.0,338.3 861.0,339.3 862.0,344.7 863.0,344.9 864.0,345.0 865.0,346.0 866.0,346.5 867.0,345.1 868.0,347.3 869.0,347.4 870.0,345.5 871.0,344.4 872.0,342.6 873.0,344.4 874.0,347.4 875.0,346.2 876.0,346.4 877.0,346.9 878.0,348.6 879.0,348.3 880.0,348.3 881.0,347.8 882.0,348.1 883.0,341.7 884.0,338.5 885.0,343.2 886.0,346.1 887.0,347.3 888.0,348.3 889.0,348.2 890.0,348.8 891.0,351.1 892.0,352.5 893.0,352.3 894.0,353.0 895.0,351.9 896.0,350.6 897.0,350.1 898.0,348.6 899.0,347.3 900.0,345.2 901.0,343.9 902.0,345.0 903.0,346.2 904.0,348.9 905.0,348.6 906.0,350.0 907.0,348.8 908.0,349.0 909.0,347.6 910.0,349.0 911.0,351.0 912.0,351.2 913.0,348.2 914.0,343.0 915.0,343.3 916.0,349.9 917.0,351.0 918.0,350.5 919.0,350.5 920.0,350.1 921.0,349.5 922.0,352.0 923.0,350.5 924.0,347.7 925.0,349.0 926.0,351.3 927.0,353.5 928.0,352.6 929.0,349.9 930.0,350.6 931.0,351.6 932.0,350.4 933.0,352.0 934.0,353.0 935.0,352.5 936.0,351.1 937.0,351.5 938.0,353.1 939.0,354.3 940.0,354.1 941.0,354.7 942.0,357.6 943.0,357.4 944.0,356.6 945.0,353.9 946.0,352.4 947.0,352.2 948.0,351.3 949.0,350.9 950.0,353.6 951.0,348.1 952.0,348.6 953.0,349.7 954.0,357.4 955.0,358.3 956.0,356.2 957.0,354.0 958.0,352.3 959.0,351.2 960.0,351.9 961.0,353.1 962.0,353.9 963.0,354.7 964.0,351.1 965.0,354.5 966.0,354.6 967.0,354.3 968.0,352.8 969.0,353.5 970.0,352.7 971.0,354.9 972.0,355.6 973.0,355.5 974.0,355.6 975.0,356.5 976.0,356.7 977.0,356.7 978.0,360.0 979.0,359.1 980.0,360.6 981.0,360.9 982.0,358.1 983.0,357.1 984.0,356.8 985.0,354.9 986.0,356.5 987.0,356.3 988.0,356.0 989.0,357.3 990.0,355.9 991.0,356.8 992.0,357.9 993.0,356.6 994.0,360.0 995.0,360.5 996.0,361.3 997.0,361.0 998.0,360.1 999.0,359.3 1000.0,358.8 1001.0,356.6 1002.0,358.5 1003.0,361.6 1004.0,363.3 1005.0,361.5 1006.0,359.9 1007.0,361.0 1008.0,361.4 1009.0,363.4 1010.0,361.9 1011.0,360.8 1012.0,361.0 1013.0,363.4 1014.0,364.5 1015.0,363.2 1016.0,362.7 1017.0,360.2 1018.0,360.2 1019.0,359.9 1020.0,360.0 1021.0,359.0 1022.0,359.6 1023.0,360.1 1024.0,361.0 1025.0,361.1 1026.0,362.1 1027.0,359.7 1028.0,358.9 1029.0,361.6 1030.0,358.7 1031.0,359.1 1032.0,360.2 1033.0,360.9 1034.0,362.9 1035.0,365.0 1036.0,362.1 1037.0,364.7 1038.0,363.8 1039.0,362.8 1040.0,363.2 1041.0,364.0 1042.0,365.8 1043.0,365.5 1044.0,364.6 1045.0,364.5 1046.0,365.2 1047.0,366.1 1048.0,363.5 1049.0,362.2 1050.0,361.9 1051.0,365.4 1052.0,364.8 1053.0,367.7 1054.0,366.4 1055.0,367.5 1056.0,367.8 1057.0,367.4 1058.0,366.6 1059.0,367.5 1060.0,365.2 1061.0,368.4 1062.0,365.9 1063.0,366.8 1064.0,365.3 1065.0,366.4 1066.0,366.7 1067.0,368.3 1068.0,360.6 1069.0,362.8 1070.0,362.0 1071.0,363.7 1072.0,364.8 1073.0,367.7 1074.0,368.1 1075.0,372.5 1076.0,370.5 1077.0,370.0 1078.0,368.9 1079.0,368.8 1080.0,370.3 1081.0,369.1 1082.0,369.9 1083.0,370.3 1084.0,368.4 1085.0,369.0 1086.0,369.4 1087.0,368.0 1088.0,368.5 1089.0,369.7 1090.0,370.0 1091.0,370.3 1092.0,369.0 1093.0,368.9 1094.0,370.9 1095.0,371.5 1096.0,368.8 1097.0,369.0 1098.0,369.4 1099.0,370.4 1100.0,370.3 1101.0,370.8 1102.0,370.7 1103.0,373.2 1104.0,375.0 1105.0,374.9 1106.0,374.6 1107.0,374.1 1108.0,374.2 1109.0,377.2 1110.0,376.1 1111.0,373.9 1112.0,372.0 1113.0,372.0 1114.0,374.0 1115.0,374.1 1116.0,371.0 1117.0,368.2 1118.0,368.5 1119.0,369.9 1120.0,370.9 1121.0,368.9 1122.0,369.4 1123.0,369.6 1124.0,370.7 1125.0,371.8 1126.0,372.9 1127.0,372.8 1128.0,374.4 1129.0,374.1 1130.0,374.4 1131.0,375.3 1132.0,372.7 1133.0,375.3 1134.0,374.9 1135.0,374.9 1136.0,375.0 1137.0,377.2 1138.0,375.5 1139.0,376.8 1140.0,375.0 1141.0,373.9 1142.0,373.3 1143.0,375.6 1144.0,374.2 1145.0,374.9 1146.0,375.6 1147.0,375.2 1148.0,378.3 1149.0,380.4 1150.0,377.4 1151.0,377.6 1152.0,377.5 1153.0,376.8 1154.0,376.7 1155.0,376.4 1156.0,377.9 1157.0,378.3 1158.0,379.7 1159.0,378.4 1160.0,379.4 1161.0,377.5 1162.0,379.6 1163.0,378.2 1164.0,381.7 1165.0,380.2 1166.0,382.9 1167.0,381.6 1168.0,383.3 1169.0,381.5 1170.0,380.0 1171.0,379.9 1172.0,380.0 1173.0,379.3 1174.0,378.2 1175.0,378.9 1176.0,379.7 1177.0,379.5 1178.0,379.1 1179.0,378.4 1180.0,374.4 1181.0,374.9 1182.0,375.8 1183.0,374.4 1184.0,380.8 1185.0,383.8 1186.0,380.6 1187.0,380.5 1188.0,380.8 1189.0,380.4 1190.0,381.5 1191.0,380.2 1192.0,377.0 1193.0,380.1 1194.0,381.9 1195.0,381.6 1196.0,382.7 1197.0,382.6 1198.0,383.4 1199.0,384.4 1200.0,385.7 1201.0,385.3 1202.0,386.9 1203.0,387.1 1204.0,386.5 1205.0,386.2 1206.0,386.3 1207.0,386.5 1208.0,386.0 1209.0,384.2 1210.0,383.8 1211.0,385.8 1212.0,386.5 1213.0,386.8 1214.0,386.1 1215.0,387.1 1216.0,387.7 1217.0,387.9 1218.0,388.2 1219.0,386.9 1220.0,386.5 1221.0,388.4 1222.0,388.4 1223.0,391.1 1224.0,390.3 1225.0,388.4 1226.0,387.7 1227.0,387.2 1228.0,388.4 1229.0,388.0 1230.0,386.2 1231.0,386.5 1232.0,387.5 1233.0,389.0 1234.0,388.6 1235.0,386.4 1236.0,386.2 1237.0,385.8 1238.0,386.7 1239.0,386.8 1240.0,384.9 1241.0,386.0 1242.0,388.2 1243.0,389.0 1244.0,391.5 1245.0,391.4 1246.0,391.0 1247.0,392.2 1248.0,392.2 1249.0,391.8 1250.0,391.0 1251.0,390.3 1252.0,390.1 1253.0,390.1 1254.0,390.0 1255.0,389.4 1256.0,391.1 1257.0,393.9 1258.0,391.0 1259.0,390.7 1260.0,391.8 1261.0,392.2 1262.0,393.6 1263.0,393.2 1264.0,391.6 1265.0,394.3 1266.0,394.9 1267.0,393.9 1268.0,393.6 1269.0,392.8 1270.0,390.8 1271.0,392.3 1272.0,391.4 1273.0,390.4 1274.0,390.9 1275.0,390.4 1276.0,390.6 1277.0,392.8 1278.0,393.7 1279.0,392.6 1280.0,391.9 1281.0,391.5 1282.0,393.0 1283.0,394.2 1284.0,394.9 1285.0,393.5 1286.0,393.1 1287.0,395.1 1288.0,395.3 1289.0,393.7 1290.0,392.5 1291.0,393.3 1292.0,395.1 1293.0,394.5 1294.0,394.2 1295.0,394.1 1296.0,395.8 1297.0,397.5 1298.0,397.3 1299.0,397.3 1300.0,397.4 1301.0,395.5 1302.0,395.4 1303.0,394.4 1304.0,394.1 1305.0,395.2 1306.0,396.6 1307.0,397.6 1308.0,399.0 1309.0,398.8 1310.0,397.8 1311.0,396.8 1312.0,396.7 1313.0,397.1 1314.0,396.6 1315.0,396.0 1316.0,392.8 1317.0,394.2 1318.0,395.3 1319.0,395.1 1320.0,396.1 1321.0,395.5 1322.0,397.1 1323.0,395.5 1324.0,394.9 1325.0,395.3 1326.0,395.7 1327.0,398.3 1328.0,398.0 1329.0,395.0 1330.0,395.9 1331.0,396.5 1332.0,396.2 1333.0,395.8 1334.0,396.3 1335.0,396.2 1336.0,395.7 1337.0,395.1 1338.0,396.3 1339.0,398.9 1340.0,401.4 1341.0,399.8 1342.0,399.3 1343.0,400.7 1344.0,400.4 1345.0,399.3 1346.0,399.0 1347.0,397.3 1348.0,398.2 1349.0,397.4 1350.0,398.0 1351.0,397.0 1352.0,397.5 1353.0,398.6 1354.0,402.6 1355.0,401.5 1356.0,401.8 1357.0,398.5 1358.0,399.8 1359.0,400.2 1360.0,400.2 1361.0,400.8 1362.0,401.7 1363.0,400.1 1364.0,400.4 1365.0,400.0 1366.0,400.8 1367.0,400.5 1368.0,398.8 1369.0,397.5 1370.0,398.4 1371.0,399.0 1372.0,401.0 1373.0,399.2 1374.0,400.0 1375.0,399.2 1376.0,397.7 1377.0,398.2 1378.0,397.1 1379.0,394.8 1380.0,396.3 1381.0,396.8 1382.0,399.0 1383.0,401.4 1384.0,401.5 1385.0,400.1 1386.0,403.7 1387.0,401.9 1388.0,401.3 1389.0,400.0 1390.0,398.9 1391.0,396.8 1392.0,397.8 1393.0,396.2 1394.0,398.2 1395.0,398.7 1396.0,398.4 1397.0,398.6 1398.0,402.8 1399.0,403.6 1400.0,406.9 1401.0,405.4 1402.0,407.2 1403.0,406.0 1404.0,404.9 1405.0,403.4 1406.0,399.6 1407.0,397.1 1408.0,396.0 1409.0,395.9 1410.0,396.2 1411.0,397.1 1412.0,398.6 1413.0,400.1 1414.0,401.4 1415.0,399.4 1416.0,401.8 1417.0,401.3 1418.0,399.8 1419.0,399.5 1420.0,401.1 1421.0,401.5 1422.0,404.1 1423.0,401.4 1424.0,402.8 1425.0,402.7 1426.0,404.5 1427.0,402.7 1428.0,403.3 1429.0,401.7 1430.0,402.7 1431.0,401.3 1432.0,398.6 1433.0,398.9 1434.0,400.1 1435.0,398.9 1436.0,397.6 1437.0,397.8 1438.0,397.3 1439.0,401.8 1440.0,402.3 1441.0,401.0 1442.0,403.0 1443.0,402.0 1444.0,399.5 1445.0,399.6 1446.0,399.3 1447.0,399.3 1448.0,401.2 1449.0,401.0 1450.0,403.0 1451.0,403.2 1452.0,403.2 1453.0,402.5 1454.0,399.3 1455.0,398.1 1456.0,399.0 1457.0,398.6 1458.0,404.7 1459.0,405.2 1460.0,405.6 1461.0,405.6 1462.0,406.3 1463.0,407.5 1464.0,407.2 1465.0,402.7 1466.0,401.6 1467.0,401.2 1468.0,402.1 1469.0,403.5 1470.0,404.3 1471.0,405.4 1472.0,407.1 1473.0,404.6 1474.0,407.1 1475.0,407.1 1476.0,406.7 1477.0,404.6 1478.0,404.4 1479.0,404.9 1480.0,406.9 1481.0,407.0 1482.0,406.6 1483.0,406.7 1484.0,405.7 1485.0,408.0 1486.0,408.9 1487.0,409.2 1488.0,409.1 1489.0,407.0 1490.0,406.3 1491.0,405.8 1492.0,404.4 1493.0,407.0 1494.0,409.2 1495.0,411.1 1496.0,411.6 1497.0,413.5 1498.0,413.0 1499.0,413.6 1500.0,412.2 1501.0,412.0 1502.0,411.0 1503.0,410.6 1504.0,411.0 1505.0,412.2 1506.0,411.7 1507.0,411.9 1508.0,410.9 1509.0,412.7 1510.0,411.6 1511.0,409.6 1512.0,408.7 1513.0,407.2 1514.0,408.4 1515.0,408.8 1516.0,407.8 1517.0,408.4 1518.0,409.4 1519.0,409.3 1520.0,411.1 1521.0,411.9 1522.0,413.4 1523.0,411.4 1524.0,411.4 1525.0,411.1 1526.0,410.0 1527.0,410.4 1528.0,409.8 1529.0,409.3 1530.0,412.5 1531.0,411.0 1532.0,410.2 1533.0,411.4 1534.0,412.7 1535.0,406.9 1536.0,407.1 1537.0,403.7 1538.0,404.1 1539.0,410.6 1540.0,410.2 1541.0,409.5 1542.0,409.6 1543.0,410.5 1544.0,411.5 1545.0,414.4 1546.0,415.9 1547.0,417.1 1548.0,420.1 1549.0,418.8 1550.0,417.3 1551.0,412.4 1552.0,410.6 1553.0,416.7 1554.0,416.6 1555.0,414.7 1556.0,413.8 1557.0,415.3 1558.0,415.5 1559.0,415.1 1560.0,413.0 1561.0,412.9 1562.0,411.6 1563.0,411.1 1564.0,409.2 1565.0,408.5 1566.0,411.7 1567.0,414.5 1568.0,413.2 1569.0,411.0 1570.0,411.0 1571.0,412.7 1572.0,413.9 1573.0,412.7 1574.0,412.6 1575.0,413.0 1576.0,415.1 1577.0,414.2 1578.0,409.8 1579.0,408.8 1580.0,414.8 1581.0,413.6 1582.0,413.3 1583.0,412.2 1584.0,414.9 1585.0,413.8 1586.0,413.5 1587.0,413.8 1588.0,416.7 1589.0,415.9 1590.0,416.3 1591.0,416.2 1592.0,417.1 1593.0,414.2 1594.0,413.4 1595.0,412.2 1596.0,412.9 1597.0,412.0 1598.0,410.8 1599.0,409.4 1600.0,410.4 1601.0,410.6 1602.0,410.7 1603.0,410.8 1604.0,410.8 1605.0,412.3 1606.0,414.2 1607.0,414.6 1608.0,413.5 1609.0,414.5 1610.0,413.9 1611.0,413.7 1612.0,412.4 1613.0,412.3 1614.0,414.8 1615.0,415.0 1616.0,413.6 1617.0,413.2 1618.0,413.1 1619.0,414.5 1620.0,414.6 1621.0,413.3 1622.0,412.5 1623.0,413.0 1624.0,414.5 1625.0,414.1 1626.0,413.9 1627.0,413.7 1628.0,413.5 1629.0,414.0 1630.0,413.6 1631.0,413.8 1632.0,414.6 1633.0,416.2 1634.0,412.5 1635.0,411.7 1636.0,412.3 1637.0,412.9 1638.0,412.9 1639.0,411.4 1640.0,410.4 1641.0,413.2 1642.0,416.0 1643.0,416.2 1644.0,414.5 1645.0,411.2 1646.0,412.4 1647.0,412.1 1648.0,411.6 1649.0,410.0 1650.0,405.6 1651.0,408.2 1652.0,412.3 1653.0,420.3 1654.0,421.7 1655.0,421.9 1656.0,420.3 1657.0,420.9 1658.0,418.9 1659.0,420.1 1660.0,420.5 1661.0,418.6 1662.0,413.7 1663.0,414.1 1664.0,413.0 1665.0,415.4 1666.0,419.6 1667.0,417.8 1668.0,417.1 1669.0,416.4 1670.0,417.9 1671.0,417.9 1672.0,417.6 1673.0,418.8 1674.0,418.6 1675.0,419.3 1676.0,416.4 1677.0,417.3 1678.0,418.1 1679.0,419.2 1680.0,418.1 1681.0,417.5 1682.0,416.0 1683.0,415.5 1684.0,414.7 1685.0,414.1 1686.0,413.5 1687.0,414.0 1688.0,413.3 1689.0,414.7 1690.0,415.9 1691.0,415.3 1692.0,415.9 1693.0,416.0 1694.0,416.5 1695.0,416.5 1696.0,418.2 1697.0,419.8 1698.0,422.4 1699.0,425.2 1700.0,427.3 1701.0,427.2 1702.0,425.6 1703.0,424.2 1704.0,423.4 1705.0,423.9 1706.0,423.2 1707.0,422.4 1708.0,424.2 1709.0,424.9 1710.0,428.0 1711.0,427.0 1712.0,427.4 1713.0,425.4 1714.0,423.4 1715.0,421.6 1716.0,421.3 1717.0,419.7 1718.0,417.7 1719.0,419.5 1720.0,423.1 1721.0,428.8 1722.0,427.4 1723.0,427.3 1724.0,428.2 1725.0,430.9 1726.0,431.4 1727.0,431.5 1728.0,431.2 1729.0,430.3 1730.0,431.7 1731.0,429.1 1732.0,428.6 1733.0,430.2 1734.0,433.7 1735.0,433.4 1736.0,434.7 1737.0,433.1 1738.0,434.9 1739.0,435.5 1740.0,436.0 1741.0,435.3 1742.0,435.6 1743.0,435.6 1744.0,437.0 1745.0,437.0 1746.0,437.1 1747.0,435.4 1748.0,433.4 1749.0,432.5 1750.0,429.9 1751.0,431.0 1752.0,432.2 1753.0,433.0 1754.0,434.5 1755.0,437.4 1756.0,440.5 1757.0,442.1 1758.0,439.6 1759.0,438.1 1760.0,438.8 1761.0,441.2 1762.0,438.5 1763.0,437.3 1764.0,436.0 1765.0,435.6 1766.0,437.0 1767.0,437.6 1768.0,437.3 1769.0,437.0 1770.0,436.3 1771.0,437.7 1772.0,439.6 1773.0,439.3 1774.0,440.1 1775.0,440.2 1776.0,440.1 1777.0,439.9 1778.0,440.0 1779.0,440.1 1780.0,442.6 1781.0,443.4 1782.0,442.8 1783.0,443.5 1784.0,443.9 1785.0,446.3 1786.0,444.6 1787.0,442.5 1788.0,442.3 1789.0,443.9 1790.0,438.7 1791.0,437.1 1792.0,435.9 1793.0,437.3 1794.0,439.2 1795.0,439.5 1796.0,440.2 1797.0,441.2 1798.0,442.5 1799.0,441.7 1800.0,443.1 1801.0,443.6 1802.0,445.0 1803.0,445.8 1804.0,446.8 1805.0,447.0 1806.0,448.8 1807.0,447.6 1808.0,448.1 1809.0,449.3 1810.0,450.4 1811.0,452.7 1812.0,450.9 1813.0,453.7 1814.0,452.2 1815.0,452.8 1816.0,451.8 1817.0,446.4 1818.0,446.6 1819.0,450.0 1820.0,453.5 1821.0,449.5 1822.0,448.3 1823.0,448.9 1824.0,454.5 1825.0,452.5 1826.0,450.4 1827.0,450.9 1828.0,451.4 1829.0,448.4 1830.0,449.6 1831.0,451.2 1832.0,451.0 1833.0,456.4 1834.0,454.8 1835.0,456.4 1836.0,455.4 1837.0,455.8 1838.0,456.5 1839.0,457.2 1840.0,456.8 1841.0,457.3 1842.0,455.5 1843.0,458.5 1844.0,455.6 1845.0,452.6 1846.0,451.5 1847.0,454.1 1848.0,455.3 1849.0,453.9 1850.0,454.0 1851.0,456.2 1852.0,457.8 1853.0,460.4 1854.0,459.9 1855.0,460.8 1856.0,463.6 1857.0,462.4 1858.0,463.0 1859.0,465.1 1860.0,467.9 1861.0,467.8 1862.0,469.0 1863.0,466.7 1864.0,466.2 1865.0,466.4 1866.0,467.7 1867.0,465.1 1868.0,467.1 1869.0,464.3 1870.0,465.5 1871.0,465.9 1872.0,466.3 1873.0,465.0 1874.0,465.1 1875.0,463.5 1876.0,464.2 1877.0,466.4 1878.0,468.9 1879.0,469.0 1880.0,468.7 1881.0,468.8 1882.0,468.6 1883.0,470.3 1884.0,470.8 1885.0,469.4 1886.0,470.0 1887.0,469.4 1888.0,469.1 1889.0,469.6 1890.0,469.7 1891.0,472.2 1892.0,472.7 1893.0,471.0 1894.0,472.0 1895.0,471.8 1896.0,473.3 1897.0,474.1 1898.0,471.8 1899.0,471.8 1900.0,471.1 1901.0,471.0 1902.0,471.6 1903.0,471.0 1904.0,469.9 1905.0,470.1 1906.0,467.9 1907.0,470.0 1908.0,471.0 1909.0,472.0 1910.0,472.2 1911.0,471.5 1912.0,471.4 1913.0,472.6 1914.0,474.4 1915.0,476.1 1916.0,475.1 1917.0,475.4 1918.0,475.2 1919.0,477.0 1920.0,476.8 1921.0,477.2 1922.0,477.0 1923.0,477.2 1924.0,479.0 1925.0,478.4 1926.0,476.3 1927.0,477.8 1928.0,479.2 1929.0,479.7 1930.0,479.6 1931.0,479.8 1932.0,480.4 1933.0,482.0 1934.0,480.8 1935.0,481.2 1936.0,480.8 1937.0,482.2 1938.0,481.4 1939.0,481.6 1940.0,480.5 1941.0,482.4 1942.0,484.6 1943.0,486.3 1944.0,485.9 1945.0,487.0 1946.0,485.1 1947.0,487.6 1948.0,486.4 1949.0,486.4 1950.0,486.4 1951.0,488.2 1952.0,486.0 1953.0,488.6 1954.0,489.2 1955.0,487.6 1956.0,485.8 1957.0,485.1 1958.0,485.1 1959.0,485.6 1960.0,487.4 1961.0,485.9 1962.0,487.8 1963.0,489.2 1964.0,489.2 1965.0,489.7 1966.0,489.0 1967.0,487.9 1968.0,485.8 1969.0,486.4 1970.0,486.7 1971.0,486.8 1972.0,485.5 1973.0,487.4 1974.0,488.4 1975.0,492.0 1976.0,493.5 1977.0,494.4 1978.0,495.6 1979.0,495.7 1980.0,495.0 1981.0,492.2 1982.0,491.2 1983.0,489.0 1984.0,489.4 1985.0,489.0 1986.0,487.9 1987.0,487.8 1988.0,490.3 1989.0,489.9 1990.0,490.6 1991.0,490.5 1992.0,491.6 1993.0,493.7 1994.0,493.7 1995.0,492.9 1996.0,495.1 1997.0,494.4 1998.0,495.5 1999.0,495.6 2000.0,495.9 2001.0,497.1 2002.0,496.4 2003.0,493.3 2004.0,495.0 2005.0,494.2 2006.0,493.9 2007.0,492.9 2008.0,491.1 2009.0,492.7 2010.0,496.0 2011.0,495.8 2012.0,495.2 2013.0,497.5 2014.0,497.8 2015.0,499.8 2016.0,497.3 2017.0,497.3 2018.0,496.7 2019.0,498.2 2020.0,498.4 2021.0,499.4 2022.0,499.9 2023.0,502.3 2024.0,502.7 2025.0,503.8 2026.0,504.1 2027.0,506.2 2028.0,506.8 2029.0,506.9 2030.0,507.8 2031.0,507.3 2032.0,506.2 2033.0,504.3 2034.0,504.7 2035.0,504.0 2036.0,503.9 2037.0,503.4 2038.0,504.6 2039.0,503.8 2040.0,504.1 2041.0,502.8 2042.0,503.1 2043.0,504.0 2044.0,504.4 2045.0,506.3 2046.0,509.2 2047.0,509.0 2048.0,510.9 2049.0,512.6 2050.0,511.4 2051.0,510.6 2052.0,506.8 2053.0,505.7 2054.0,506.8 2055.0,506.0 2056.0,506.3 2057.0,506.9 2058.0,508.5 2059.0,508.2 2060.0,508.8 2061.0,508.0 2062.0,507.6 2063.0,507.8 2064.0,508.2 2065.0,507.4 2066.0,507.5 2067.0,507.8 2067.0,558.0 2066.0,565.4 2065.0,565.9 2064.0,564.1 2063.0,560.7 2062.0,555.3 2061.0,554.0 2060.0,553.6 2059.0,553.1 2058.0,552.8 2057.0,553.6 2056.0,553.3 2055.0,551.3 2054.0,553.0 2053.0,554.1 2052.0,555.0 2051.0,553.4 2050.0,553.3 2049.0,554.5 2048.0,555.6 2047.0,551.7 2046.0,550.5 2045.0,548.7 2044.0,547.2 2043.0,546.3 2042.0,544.9 2041.0,543.6 2040.0,545.2 2039.0,545.5 2038.0,545.0 2037.0,545.6 2036.0,546.9 2035.0,547.1 2034.0,547.6 2033.0,548.9 2032.0,548.0 2031.0,550.0 2030.0,548.5 2029.0,547.3 2028.0,547.3 2027.0,546.8 2026.0,548.0 2025.0,545.8 2024.0,545.1 2023.0,543.7 2022.0,542.7 2021.0,540.8 2020.0,539.6 2019.0,539.8 2018.0,539.4 2017.0,540.8 2016.0,542.3 2015.0,541.7 2014.0,543.4 2013.0,542.4 2012.0,542.4 2011.0,542.1 2010.0,541.7 2009.0,538.7 2008.0,538.9 2007.0,536.6 2006.0,536.5 2005.0,535.9 2004.0,536.4 2003.0,534.2 2002.0,534.5 2001.0,533.6 2000.0,534.5 1999.0,535.3 1998.0,535.3 1997.0,533.4 1996.0,532.5 1995.0,531.7 1994.0,529.7 1993.0,528.9 1992.0,528.4 1991.0,528.9 1990.0,529.9 1989.0,529.0 1988.0,530.4 1987.0,530.4 1986.0,532.4 1985.0,532.2 1984.0,531.6 1983.0,531.3 1982.0,531.4 1981.0,531.2 1980.0,531.8 1979.0,531.3 1978.0,531.7 1977.0,533.2 1976.0,529.5 1975.0,528.3 1974.0,527.7 1973.0,526.1 1972.0,525.5 1971.0,529.1 1970.0,528.6 1969.0,528.8 1968.0,529.6 1967.0,527.5 1966.0,528.3 1965.0,530.0 1964.0,528.8 1963.0,524.8 1962.0,523.6 1961.0,521.3 1960.0,522.5 1959.0,524.7 1958.0,523.4 1957.0,524.2 1956.0,523.6 1955.0,522.1 1954.0,523.4 1953.0,522.7 1952.0,523.4 1951.0,523.2 1950.0,521.4 1949.0,520.7 1948.0,521.0 1947.0,522.3 1946.0,520.9 1945.0,517.7 1944.0,518.1 1943.0,518.4 1942.0,518.0 1941.0,516.4 1940.0,518.5 1939.0,518.6 1938.0,519.8 1937.0,518.9 1936.0,517.5 1935.0,518.0 1934.0,517.4 1933.0,513.5 1932.0,513.8 1931.0,513.3 1930.0,515.1 1929.0,516.0 1928.0,515.6 1927.0,516.3 1926.0,517.3 1925.0,516.5 1924.0,515.2 1923.0,514.9 1922.0,515.6 1921.0,513.9 1920.0,511.7 1919.0,510.3 1918.0,509.9 1917.0,509.7 1916.0,511.4 1915.0,512.5 1914.0,513.5 1913.0,515.4 1912.0,517.8 1911.0,519.1 1910.0,521.1 1909.0,519.6 1908.0,517.5 1907.0,516.8 1906.0,515.0 1905.0,512.2 1904.0,511.7 1903.0,510.4 1902.0,509.6 1901.0,511.0 1900.0,510.9 1899.0,511.5 1898.0,512.7 1897.0,513.6 1896.0,513.7 1895.0,515.4 1894.0,514.1 1893.0,510.9 1892.0,509.5 1891.0,508.6 1890.0,509.4 1889.0,510.7 1888.0,510.1 1887.0,509.4 1886.0,512.6 1885.0,514.0 1884.0,514.1 1883.0,512.3 1882.0,513.0 1881.0,511.5 1880.0,510.7 1879.0,511.1 1878.0,509.9 1877.0,511.6 1876.0,508.5 1875.0,508.3 1874.0,507.7 1873.0,508.4 1872.0,510.0 1871.0,510.0 1870.0,508.9 1869.0,508.7 1868.0,509.5 1867.0,511.8 1866.0,513.3 1865.0,512.4 1864.0,509.0 1863.0,507.4 1862.0,505.3 1861.0,504.3 1860.0,504.8 1859.0,504.1 1858.0,504.0 1857.0,505.7 1856.0,506.0 1855.0,509.2 1854.0,508.5 1853.0,508.9 1852.0,509.8 1851.0,507.5 1850.0,505.6 1849.0,505.9 1848.0,505.0 1847.0,507.4 1846.0,507.6 1845.0,507.4 1844.0,504.5 1843.0,503.6 1842.0,502.0 1841.0,504.4 1840.0,503.7 1839.0,503.6 1838.0,502.7 1837.0,502.3 1836.0,502.3 1835.0,503.5 1834.0,502.8 1833.0,501.3 1832.0,500.0 1831.0,500.6 1830.0,502.9 1829.0,504.2 1828.0,504.6 1827.0,503.5 1826.0,504.2 1825.0,503.8 1824.0,503.0 1823.0,503.7 1822.0,503.8 1821.0,503.2 1820.0,502.9 1819.0,501.4 1818.0,501.0 1817.0,501.6 1816.0,498.9 1815.0,497.4 1814.0,497.1 1813.0,497.1 1812.0,497.1 1811.0,496.0 1810.0,491.9 1809.0,494.4 1808.0,494.0 1807.0,496.3 1806.0,494.9 1805.0,492.7 1804.0,492.4 1803.0,493.2 1802.0,490.2 1801.0,490.4 1800.0,490.6 1799.0,494.1 1798.0,496.4 1797.0,495.5 1796.0,493.9 1795.0,496.4 1794.0,495.7 1793.0,496.5 1792.0,490.1 1791.0,489.0 1790.0,490.1 1789.0,489.7 1788.0,491.4 1787.0,492.6 1786.0,493.8 1785.0,492.2 1784.0,489.3 1783.0,487.5 1782.0,488.6 1781.0,487.7 1780.0,486.1 1779.0,484.0 1778.0,484.2 1777.0,484.5 1776.0,483.0 1775.0,482.4 1774.0,482.2 1773.0,485.2 1772.0,485.3 1771.0,491.0 1770.0,490.4 1769.0,492.2 1768.0,491.2 1767.0,484.9 1766.0,484.5 1765.0,484.4 1764.0,486.6 1763.0,487.0 1762.0,486.4 1761.0,484.7 1760.0,485.1 1759.0,485.5 1758.0,484.4 1757.0,482.4 1756.0,480.9 1755.0,482.6 1754.0,483.8 1753.0,483.3 1752.0,483.2 1751.0,483.1 1750.0,483.6 1749.0,483.9 1748.0,483.4 1747.0,484.3 1746.0,483.3 1745.0,481.9 1744.0,482.5 1743.0,480.7 1742.0,480.2 1741.0,479.9 1740.0,478.1 1739.0,480.2 1738.0,479.4 1737.0,479.8 1736.0,482.5 1735.0,483.8 1734.0,482.7 1733.0,483.4 1732.0,481.3 1731.0,483.3 1730.0,484.0 1729.0,481.3 1728.0,479.7 1727.0,479.0 1726.0,478.5 1725.0,479.6 1724.0,480.5 1723.0,478.6 1722.0,477.2 1721.0,475.4 1720.0,475.5 1719.0,474.8 1718.0,473.5 1717.0,474.4 1716.0,475.8 1715.0,477.6 1714.0,477.6 1713.0,477.3 1712.0,477.6 1711.0,478.1 1710.0,479.3 1709.0,478.4 1708.0,475.6 1707.0,469.4 1706.0,470.3 1705.0,474.2 1704.0,473.3 1703.0,473.8 1702.0,474.1 1701.0,473.6 1700.0,474.4 1699.0,475.3 1698.0,476.5 1697.0,475.2 1696.0,472.9 1695.0,470.5 1694.0,470.0 1693.0,470.9 1692.0,471.1 1691.0,471.4 1690.0,471.1 1689.0,470.1 1688.0,468.1 1687.0,469.5 1686.0,469.7 1685.0,469.8 1684.0,469.9 1683.0,469.4 1682.0,471.5 1681.0,469.7 1680.0,468.7 1679.0,469.5 1678.0,470.8 1677.0,470.0 1676.0,469.4 1675.0,467.6 1674.0,469.2 1673.0,469.3 1672.0,469.5 1671.0,469.7 1670.0,467.8 1669.0,468.5 1668.0,467.9 1667.0,468.7 1666.0,468.6 1665.0,468.3 1664.0,466.5 1663.0,467.3 1662.0,468.4 1661.0,470.6 1660.0,470.3 1659.0,470.5 1658.0,469.8 1657.0,472.4 1656.0,472.5 1655.0,472.2 1654.0,469.3 1653.0,468.3 1652.0,470.4 1651.0,468.6 1650.0,467.4 1649.0,465.4 1648.0,466.6 1647.0,467.1 1646.0,466.0 1645.0,466.4 1644.0,465.0 1643.0,466.4 1642.0,465.4 1641.0,464.3 1640.0,463.5 1639.0,464.6 1638.0,464.8 1637.0,465.3 1636.0,465.0 1635.0,465.8 1634.0,465.9 1633.0,468.4 1632.0,467.7 1631.0,468.5 1630.0,464.0 1629.0,464.8 1628.0,465.5 1627.0,466.6 1626.0,465.0 1625.0,462.9 1624.0,461.9 1623.0,464.3 1622.0,465.5 1621.0,464.6 1620.0,464.8 1619.0,464.4 1618.0,467.0 1617.0,467.5 1616.0,467.9 1615.0,468.7 1614.0,466.9 1613.0,465.2 1612.0,467.5 1611.0,467.6 1610.0,468.5 1609.0,466.2 1608.0,463.2 1607.0,462.4 1606.0,462.7 1605.0,461.1 1604.0,460.1 1603.0,459.6 1602.0,459.2 1601.0,460.9 1600.0,459.3 1599.0,460.8 1598.0,462.5 1597.0,463.7 1596.0,463.0 1595.0,464.2 1594.0,463.3 1593.0,463.8 1592.0,462.4 1591.0,463.0 1590.0,464.0 1589.0,468.5 1588.0,467.8 1587.0,467.8 1586.0,466.3 1585.0,466.1 1584.0,463.7 1583.0,461.7 1582.0,460.8 1581.0,462.3 1580.0,460.7 1579.0,461.0 1578.0,458.1 1577.0,458.1 1576.0,459.1 1575.0,458.7 1574.0,458.4 1573.0,459.9 1572.0,459.7 1571.0,460.3 1570.0,459.5 1569.0,459.1 1568.0,459.2 1567.0,457.6 1566.0,456.6 1565.0,455.5 1564.0,458.0 1563.0,459.7 1562.0,461.7 1561.0,462.5 1560.0,465.7 1559.0,464.1 1558.0,464.4 1557.0,463.1 1556.0,460.8 1555.0,459.9 1554.0,458.9 1553.0,458.1 1552.0,457.9 1551.0,460.3 1550.0,458.4 1549.0,460.3 1548.0,460.1 1547.0,459.8 1546.0,459.1 1545.0,459.1 1544.0,459.6 1543.0,459.5 1542.0,458.3 1541.0,459.3 1540.0,459.2 1539.0,459.9 1538.0,459.3 1537.0,458.4 1536.0,458.8 1535.0,459.9 1534.0,459.7 1533.0,461.3 1532.0,462.1 1531.0,460.3 1530.0,457.3 1529.0,457.8 1528.0,457.5 1527.0,456.9 1526.0,456.3 1525.0,463.7 1524.0,463.2 1523.0,464.8 1522.0,456.2 1521.0,454.8 1520.0,454.9 1519.0,454.7 1518.0,456.8 1517.0,457.8 1516.0,457.8 1515.0,462.4 1514.0,462.6 1513.0,462.5 1512.0,463.8 1511.0,459.2 1510.0,458.7 1509.0,457.2 1508.0,456.2 1507.0,456.4 1506.0,455.5 1505.0,454.1 1504.0,454.0 1503.0,454.5 1502.0,454.7 1501.0,455.9 1500.0,452.8 1499.0,453.3 1498.0,455.5 1497.0,455.8 1496.0,460.3 1495.0,459.6 1494.0,456.7 1493.0,452.5 1492.0,455.6 1491.0,453.9 1490.0,454.7 1489.0,456.0 1488.0,455.0 1487.0,454.2 1486.0,453.8 1485.0,451.7 1484.0,453.2 1483.0,453.8 1482.0,451.5 1481.0,453.2 1480.0,453.4 1479.0,452.6 1478.0,454.6 1477.0,453.3 1476.0,454.0 1475.0,454.7 1474.0,455.0 1473.0,452.2 1472.0,452.6 1471.0,450.4 1470.0,451.5 1469.0,452.6 1468.0,452.8 1467.0,451.8 1466.0,453.0 1465.0,453.0 1464.0,455.4 1463.0,454.2 1462.0,452.5 1461.0,452.1 1460.0,450.9 1459.0,451.4 1458.0,452.4 1457.0,452.5 1456.0,452.0 1455.0,452.9 1454.0,452.1 1453.0,452.4 1452.0,451.3 1451.0,450.8 1450.0,448.1 1449.0,448.5 1448.0,448.1 1447.0,447.6 1446.0,448.5 1445.0,449.7 1444.0,456.6 1443.0,457.5 1442.0,456.4 1441.0,455.4 1440.0,450.0 1439.0,450.2 1438.0,449.5 1437.0,448.3 1436.0,445.8 1435.0,448.1 1434.0,447.0 1433.0,448.8 1432.0,446.9 1431.0,446.9 1430.0,446.5 1429.0,449.2 1428.0,448.8 1427.0,450.2 1426.0,448.7 1425.0,448.4 1424.0,449.8 1423.0,448.6 1422.0,447.0 1421.0,446.5 1420.0,446.9 1419.0,448.8 1418.0,449.2 1417.0,447.2 1416.0,446.8 1415.0,448.2 1414.0,446.9 1413.0,446.5 1412.0,444.7 1411.0,446.9 1410.0,448.3 1409.0,446.4 1408.0,443.4 1407.0,443.8 1406.0,444.3 1405.0,446.1 1404.0,444.4 1403.0,443.4 1402.0,447.2 1401.0,445.5 1400.0,446.6 1399.0,446.6 1398.0,446.6 1397.0,445.2 1396.0,447.1 1395.0,444.0 1394.0,444.7 1393.0,444.4 1392.0,439.3 1391.0,437.7 1390.0,437.8 1389.0,437.6 1388.0,438.5 1387.0,439.0 1386.0,440.0 1385.0,439.8 1384.0,442.4 1383.0,442.1 1382.0,441.8 1381.0,444.2 1380.0,444.5 1379.0,444.6 1378.0,445.4 1377.0,443.7 1376.0,444.0 1375.0,443.4 1374.0,443.2 1373.0,443.0 1372.0,446.0 1371.0,445.1 1370.0,447.6 1369.0,446.7 1368.0,447.9 1367.0,445.2 1366.0,444.2 1365.0,442.7 1364.0,442.4 1363.0,441.1 1362.0,440.2 1361.0,440.2 1360.0,440.1 1359.0,439.2 1358.0,438.8 1357.0,438.5 1356.0,441.8 1355.0,441.4 1354.0,441.2 1353.0,441.7 1352.0,444.2 1351.0,444.1 1350.0,444.3 1349.0,445.0 1348.0,446.2 1347.0,442.4 1346.0,440.8 1345.0,438.3 1344.0,440.5 1343.0,439.8 1342.0,439.2 1341.0,436.4 1340.0,436.7 1339.0,435.3 1338.0,436.5 1337.0,435.0 1336.0,433.9 1335.0,433.9 1334.0,436.1 1333.0,436.8 1332.0,438.5 1331.0,440.0 1330.0,438.8 1329.0,440.1 1328.0,441.9 1327.0,439.0 1326.0,436.4 1325.0,435.7 1324.0,434.6 1323.0,437.2 1322.0,438.2 1321.0,437.6 1320.0,435.1 1319.0,435.5 1318.0,436.7 1317.0,439.4 1316.0,437.8 1315.0,431.7 1314.0,433.4 1313.0,435.6 1312.0,436.7 1311.0,434.6 1310.0,436.8 1309.0,438.6 1308.0,437.8 1307.0,438.4 1306.0,438.4 1305.0,437.9 1304.0,437.1 1303.0,435.2 1302.0,439.7 1301.0,439.6 1300.0,440.2 1299.0,439.0 1298.0,433.7 1297.0,432.2 1296.0,433.4 1295.0,432.8 1294.0,437.5 1293.0,437.0 1292.0,438.3 1291.0,432.8 1290.0,434.4 1289.0,432.6 1288.0,437.5 1287.0,437.6 1286.0,435.0 1285.0,432.7 1284.0,433.3 1283.0,433.7 1282.0,434.9 1281.0,435.5 1280.0,434.4 1279.0,433.3 1278.0,432.5 1277.0,431.4 1276.0,433.3 1275.0,432.1 1274.0,432.0 1273.0,431.8 1272.0,430.2 1271.0,431.9 1270.0,432.5 1269.0,430.9 1268.0,431.4 1267.0,430.1 1266.0,430.7 1265.0,437.9 1264.0,438.6 1263.0,437.1 1262.0,436.6 1261.0,429.7 1260.0,430.2 1259.0,430.5 1258.0,431.4 1257.0,431.9 1256.0,433.0 1255.0,435.0 1254.0,433.5 1253.0,432.8 1252.0,432.0 1251.0,431.9 1250.0,431.0 1249.0,432.0 1248.0,432.1 1247.0,434.1 1246.0,433.0 1245.0,431.9 1244.0,429.8 1243.0,432.3 1242.0,431.4 1241.0,430.2 1240.0,429.5 1239.0,429.6 1238.0,429.1 1237.0,428.9 1236.0,425.4 1235.0,425.7 1234.0,427.2 1233.0,426.8 1232.0,425.7 1231.0,425.2 1230.0,427.2 1229.0,427.9 1228.0,428.0 1227.0,427.4 1226.0,428.0 1225.0,429.5 1224.0,428.8 1223.0,429.5 1222.0,428.8 1221.0,428.6 1220.0,429.1 1219.0,428.8 1218.0,429.5 1217.0,428.0 1216.0,427.4 1215.0,429.1 1214.0,428.8 1213.0,428.9 1212.0,430.0 1211.0,430.1 1210.0,435.4 1209.0,433.7 1208.0,426.1 1207.0,425.6 1206.0,425.5 1205.0,425.6 1204.0,429.3 1203.0,428.4 1202.0,428.8 1201.0,426.6 1200.0,426.7 1199.0,426.3 1198.0,425.6 1197.0,425.3 1196.0,428.2 1195.0,428.3 1194.0,427.1 1193.0,426.9 1192.0,428.1 1191.0,429.2 1190.0,428.9 1189.0,429.3 1188.0,427.2 1187.0,426.7 1186.0,424.6 1185.0,422.5 1184.0,421.0 1183.0,423.1 1182.0,420.0 1181.0,419.2 1180.0,418.3 1179.0,415.3 1178.0,415.3 1177.0,416.7 1176.0,416.3 1175.0,417.5 1174.0,419.3 1173.0,419.7 1172.0,421.1 1171.0,421.1 1170.0,421.7 1169.0,422.2 1168.0,423.0 1167.0,420.8 1166.0,423.1 1165.0,423.4 1164.0,423.4 1163.0,423.2 1162.0,421.5 1161.0,422.0 1160.0,421.8 1159.0,420.0 1158.0,421.3 1157.0,421.2 1156.0,419.4 1155.0,418.7 1154.0,418.8 1153.0,418.6 1152.0,419.5 1151.0,419.6 1150.0,419.3 1149.0,418.4 1148.0,417.5 1147.0,418.6 1146.0,418.7 1145.0,416.8 1144.0,416.4 1143.0,417.5 1142.0,419.1 1141.0,420.8 1140.0,419.2 1139.0,420.5 1138.0,419.5 1137.0,421.4 1136.0,421.3 1135.0,422.8 1134.0,419.4 1133.0,418.5 1132.0,416.8 1131.0,416.7 1130.0,422.9 1129.0,421.4 1128.0,414.4 1127.0,415.0 1126.0,414.2 1125.0,415.6 1124.0,415.1 1123.0,415.2 1122.0,413.0 1121.0,412.9 1120.0,412.6 1119.0,412.2 1118.0,410.8 1117.0,411.2 1116.0,410.7 1115.0,412.7 1114.0,410.8 1113.0,411.7 1112.0,412.1 1111.0,413.3 1110.0,412.0 1109.0,412.2 1108.0,411.5 1107.0,412.2 1106.0,412.9 1105.0,413.5 1104.0,412.3 1103.0,413.1 1102.0,412.1 1101.0,413.6 1100.0,414.6 1099.0,413.0 1098.0,410.3 1097.0,409.2 1096.0,409.1 1095.0,409.2 1094.0,409.0 1093.0,409.2 1092.0,408.0 1091.0,407.8 1090.0,406.4 1089.0,406.0 1088.0,406.8 1087.0,407.6 1086.0,409.4 1085.0,408.0 1084.0,408.6 1083.0,407.8 1082.0,408.7 1081.0,408.6 1080.0,408.3 1079.0,405.4 1078.0,407.4 1077.0,407.9 1076.0,408.2 1075.0,407.1 1074.0,408.1 1073.0,406.8 1072.0,407.1 1071.0,406.0 1070.0,405.1 1069.0,407.1 1068.0,406.7 1067.0,404.9 1066.0,404.2 1065.0,405.5 1064.0,405.8 1063.0,405.2 1062.0,406.2 1061.0,407.1 1060.0,408.4 1059.0,409.3 1058.0,409.6 1057.0,408.1 1056.0,409.8 1055.0,409.9 1054.0,411.3 1053.0,410.5 1052.0,407.7 1051.0,405.8 1050.0,405.6 1049.0,404.9 1048.0,404.7 1047.0,405.1 1046.0,406.0 1045.0,405.5 1044.0,404.6 1043.0,405.4 1042.0,404.5 1041.0,402.3 1040.0,404.0 1039.0,403.0 1038.0,402.6 1037.0,403.3 1036.0,402.6 1035.0,404.0 1034.0,402.9 1033.0,403.3 1032.0,404.5 1031.0,405.4 1030.0,407.5 1029.0,414.3 1028.0,416.1 1027.0,415.9 1026.0,414.2 1025.0,407.1 1024.0,407.2 1023.0,405.8 1022.0,406.0 1021.0,405.3 1020.0,405.9 1019.0,405.5 1018.0,405.3 1017.0,404.5 1016.0,403.9 1015.0,404.1 1014.0,404.1 1013.0,403.0 1012.0,401.5 1011.0,400.8 1010.0,400.8 1009.0,399.4 1008.0,399.5 1007.0,397.1 1006.0,399.1 1005.0,399.7 1004.0,401.4 1003.0,400.0 1002.0,401.1 1001.0,401.2 1000.0,406.1 999.0,406.1 998.0,405.9 997.0,399.4 996.0,399.4 995.0,400.0 994.0,400.3 993.0,399.4 992.0,397.9 991.0,399.2 990.0,399.7 989.0,398.3 988.0,395.5 987.0,393.8 986.0,399.3 985.0,399.8 984.0,399.0 983.0,399.0 982.0,396.7 981.0,396.3 980.0,398.0 979.0,396.1 978.0,395.8 977.0,398.5 976.0,403.0 975.0,404.2 974.0,402.6 973.0,399.5 972.0,401.3 971.0,400.3 970.0,398.8 969.0,396.4 968.0,398.0 967.0,399.1 966.0,400.9 965.0,399.4 964.0,396.8 963.0,396.3 962.0,400.8 961.0,400.8 960.0,400.0 959.0,401.2 958.0,397.4 957.0,399.8 956.0,400.8 955.0,398.0 954.0,398.2 953.0,398.7 952.0,399.3 951.0,398.9 950.0,396.8 949.0,396.3 948.0,397.7 947.0,397.7 946.0,396.0 945.0,395.7 944.0,394.1 943.0,397.3 942.0,396.9 941.0,394.0 940.0,391.9 939.0,392.8 938.0,393.2 937.0,393.3 936.0,390.8 935.0,389.9 934.0,391.2 933.0,391.1 932.0,388.6 931.0,390.6 930.0,394.2 929.0,398.1 928.0,396.4 927.0,395.7 926.0,391.9 925.0,398.2 924.0,395.8 923.0,391.0 922.0,389.0 921.0,391.3 920.0,391.8 919.0,392.6 918.0,390.8 917.0,390.2 916.0,390.2 915.0,389.7 914.0,390.4 913.0,390.1 912.0,391.5 911.0,391.8 910.0,388.5 909.0,389.8 908.0,389.2 907.0,389.8 906.0,390.0 905.0,388.3 904.0,388.3 903.0,389.6 902.0,390.9 901.0,390.9 900.0,389.7 899.0,393.6 898.0,394.4 897.0,393.0 896.0,387.2 895.0,385.0 894.0,385.7 893.0,386.1 892.0,385.7 891.0,384.2 890.0,382.6 889.0,381.8 888.0,380.7 887.0,379.9 886.0,379.6 885.0,379.4 884.0,382.3 883.0,382.1 882.0,384.7 881.0,385.7 880.0,385.6 879.0,386.1 878.0,385.9 877.0,384.2 876.0,385.0 875.0,384.3 874.0,382.0 873.0,381.2 872.0,380.0 871.0,380.2 870.0,378.7 869.0,379.2 868.0,378.6 867.0,379.2 866.0,379.6 865.0,380.1 864.0,380.8 863.0,381.8 862.0,381.6 861.0,382.7 860.0,381.7 859.0,381.3 858.0,380.7 857.0,379.4 856.0,379.7 855.0,380.9 854.0,381.6 853.0,383.3 852.0,383.9 851.0,383.9 850.0,384.7 849.0,385.7 848.0,386.3 847.0,385.0 846.0,383.4 845.0,383.1 844.0,380.7 843.0,379.9 842.0,377.8 841.0,377.6 840.0,376.8 839.0,377.6 838.0,376.0 837.0,376.7 836.0,374.2 835.0,373.5 834.0,379.5 833.0,380.0 832.0,375.9 831.0,375.9 830.0,377.3 829.0,379.4 828.0,386.6 827.0,387.9 826.0,388.3 825.0,386.0 824.0,380.3 823.0,382.6 822.0,382.6 821.0,376.3 820.0,376.4 819.0,376.8 818.0,378.2 817.0,380.1 816.0,378.8 815.0,378.2 814.0,378.0 813.0,385.3 812.0,382.6 811.0,376.6 810.0,376.6 809.0,377.6 808.0,378.7 807.0,377.8 806.0,376.3 805.0,377.3 804.0,378.4 803.0,375.2 802.0,374.9 801.0,373.8 800.0,374.0 799.0,373.5 798.0,373.1 797.0,372.4 796.0,373.7 795.0,376.7 794.0,378.0 793.0,375.0 792.0,373.7 791.0,375.8 790.0,375.0 789.0,375.5 788.0,376.7 787.0,377.5 786.0,386.3 785.0,384.7 784.0,377.4 783.0,377.8 782.0,376.0 781.0,374.5 780.0,373.2 779.0,371.6 778.0,372.5 777.0,372.8 776.0,372.6 775.0,378.2 774.0,377.9 773.0,376.7 772.0,373.3 771.0,374.6 770.0,374.9 769.0,373.8 768.0,372.9 767.0,374.3 766.0,374.2 765.0,374.1 764.0,374.4 763.0,374.6 762.0,376.4 761.0,376.5 760.0,375.3 759.0,376.7 758.0,375.5 757.0,373.8 756.0,376.1 755.0,376.5 754.0,375.3 753.0,374.9 752.0,370.2 751.0,371.2 750.0,373.7 749.0,372.5 748.0,372.6 747.0,371.4 746.0,371.4 745.0,370.4 744.0,368.6 743.0,368.3 742.0,369.7 741.0,369.4 740.0,369.7 739.0,370.6 738.0,371.4 737.0,373.3 736.0,372.7 735.0,370.9 734.0,370.5 733.0,370.4 732.0,370.6 731.0,371.7 730.0,370.3 729.0,369.3 728.0,369.5 727.0,370.7 726.0,370.7 725.0,372.7 724.0,371.4 723.0,371.7 722.0,371.6 721.0,373.3 720.0,372.7 719.0,373.4 718.0,371.8 717.0,372.6 716.0,372.7 715.0,373.2 714.0,371.8 713.0,371.6 712.0,370.6 711.0,369.0 710.0,368.7 709.0,368.6 708.0,369.1 707.0,369.1 706.0,370.9 705.0,371.3 704.0,372.6 703.0,373.1 702.0,372.2 701.0,371.3 700.0,370.6 699.0,371.7 698.0,369.8 697.0,368.3 696.0,366.8 695.0,367.2 694.0,367.4 693.0,370.0 692.0,369.2 691.0,378.3 690.0,376.2 689.0,375.9 688.0,377.2 687.0,372.8 686.0,371.5 685.0,370.0 684.0,368.1 683.0,366.6 682.0,366.6 681.0,364.1 680.0,361.3 679.0,363.8 678.0,363.8 677.0,365.6 676.0,366.1 675.0,364.3 674.0,363.6 673.0,363.3 672.0,362.7 671.0,364.9 670.0,366.6 669.0,368.2 668.0,367.1 667.0,366.2 666.0,365.5 665.0,365.4 664.0,363.2 663.0,362.2 662.0,361.6 661.0,362.3 660.0,361.7 659.0,358.6 658.0,359.3 657.0,359.4 656.0,357.7 655.0,357.6 654.0,357.5 653.0,358.2 652.0,361.4 651.0,363.9 650.0,364.5 649.0,362.7 648.0,361.3 647.0,360.7 646.0,361.8 645.0,360.4 644.0,360.2 643.0,359.2 642.0,360.6 641.0,359.7 640.0,361.0 639.0,360.9 638.0,361.5 637.0,360.7 636.0,361.2 635.0,359.4 634.0,362.9 633.0,361.1 632.0,361.6 631.0,359.7 630.0,361.3 629.0,360.1 628.0,360.6 627.0,357.8 626.0,358.8 625.0,360.7 624.0,362.2 623.0,362.8 622.0,361.9 621.0,358.8 620.0,360.5 619.0,360.8 618.0,358.8 617.0,356.3 616.0,353.7 615.0,355.0 614.0,355.9 613.0,355.5 612.0,355.5 611.0,357.5 610.0,355.3 609.0,355.4 608.0,352.4 607.0,352.7 606.0,352.8 605.0,352.8 604.0,351.2 603.0,353.3 602.0,351.4 601.0,354.9 600.0,357.1 599.0,358.5 598.0,357.2 597.0,356.0 596.0,354.2 595.0,358.0 594.0,358.0 593.0,358.6 592.0,357.2 591.0,356.6 590.0,354.5 589.0,354.6 588.0,353.8 587.0,351.8 586.0,353.1 585.0,355.6 584.0,355.7 583.0,354.8 582.0,352.8 581.0,353.3 580.0,354.0 579.0,350.9 578.0,349.5 577.0,349.6 576.0,352.4 575.0,351.5 574.0,351.6 573.0,352.2 572.0,354.2 571.0,358.2 570.0,356.7 569.0,355.1 568.0,354.1 567.0,351.8 566.0,349.3 565.0,351.1 564.0,349.5 563.0,349.3 562.0,349.7 561.0,352.1 560.0,352.9 559.0,354.5 558.0,354.7 557.0,353.2 556.0,354.4 555.0,351.6 554.0,347.7 553.0,347.2 552.0,346.1 551.0,348.2 550.0,350.5 549.0,350.0 548.0,350.9 547.0,353.5 546.0,353.5 545.0,353.8 544.0,352.6 543.0,348.1 542.0,347.7 541.0,352.1 540.0,355.6 539.0,353.9 538.0,351.5 537.0,349.4 536.0,351.8 535.0,352.9 534.0,350.0 533.0,348.3 532.0,348.3 531.0,349.2 530.0,350.5 529.0,349.4 528.0,348.0 527.0,348.7 526.0,349.4 525.0,347.0 524.0,348.3 523.0,348.6 522.0,348.7 521.0,348.6 520.0,345.8 519.0,346.6 518.0,348.0 517.0,345.8 516.0,346.7 515.0,349.6 514.0,350.5 513.0,350.9 512.0,346.3 511.0,347.9 510.0,348.1 509.0,348.1 508.0,347.2 507.0,345.8 506.0,346.9 505.0,347.0 504.0,348.2 503.0,353.1 502.0,352.7 501.0,345.0 500.0,343.7 499.0,344.9 498.0,347.5 497.0,347.5 496.0,347.2 495.0,345.3 494.0,350.1 493.0,350.3 492.0,351.2 491.0,348.9 490.0,346.2 489.0,346.3 488.0,346.8 487.0,346.3 486.0,345.0 485.0,345.7 484.0,346.4 483.0,345.2 482.0,347.1 481.0,348.1 480.0,349.7 479.0,351.7 478.0,351.0 477.0,352.7 476.0,352.0 475.0,349.7 474.0,350.0 473.0,349.2 472.0,351.5 471.0,348.1 470.0,346.6 469.0,349.3 468.0,346.9 467.0,349.1 466.0,346.4 465.0,347.6 464.0,350.8 463.0,353.0 462.0,349.9 461.0,347.2 460.0,346.0 459.0,346.1 458.0,347.0 457.0,344.4 456.0,344.4 455.0,341.9 454.0,340.6 453.0,341.5 452.0,340.4 451.0,339.0 450.0,339.7 449.0,340.5 448.0,341.0 447.0,343.0 446.0,341.3 445.0,340.1 444.0,341.9 443.0,343.1 442.0,338.8 441.0,338.0 440.0,337.3 439.0,336.9 438.0,336.0 437.0,333.1 436.0,332.2 435.0,331.8 434.0,330.1 433.0,325.9 432.0,322.0 431.0,321.5 430.0,323.4 429.0,323.2 428.0,327.8 427.0,326.1 426.0,328.2 425.0,324.7 424.0,326.2 423.0,327.6 422.0,329.8 421.0,325.5 420.0,329.2 419.0,329.5 418.0,331.7 417.0,327.9 416.0,326.2 415.0,323.7 414.0,327.1 413.0,325.1 412.0,324.6 411.0,324.2 410.0,326.3 409.0,328.9 408.0,330.7 407.0,331.4 406.0,328.7 405.0,340.3 404.0,342.5 403.0,344.3 402.0,344.5 401.0,325.9 400.0,321.9 399.0,324.9 398.0,322.8 397.0,321.0 396.0,320.6 395.0,314.9 394.0,314.1 393.0,315.7 392.0,312.3 391.0,315.3 390.0,321.2 389.0,322.9 388.0,324.3 387.0,323.4 386.0,323.2 385.0,325.9 384.0,323.9 383.0,316.5 382.0,315.0 381.0,316.2 380.0,319.3 379.0,315.4 378.0,313.6 377.0,312.2 376.0,315.8 375.0,315.0 374.0,313.5 373.0,312.5 372.0,316.1 371.0,316.7 370.0,313.7 369.0,315.4 368.0,311.1 367.0,312.4 366.0,315.6 365.0,317.7 364.0,314.4 363.0,315.3 362.0,311.1 361.0,309.4 360.0,309.5 359.0,305.3 358.0,305.1 357.0,303.8 356.0,302.9 355.0,301.8 354.0,306.5 353.0,299.0 352.0,302.1 351.0,303.9 350.0,303.0 349.0,306.5 348.0,304.2 347.0,305.0 346.0,308.2 345.0,307.9 344.0,302.0 343.0,306.0 342.0,301.5 341.0,303.3 340.0,308.0 339.0,307.1 338.0,304.1 337.0,305.5 336.0,306.0 335.0,309.6 334.0,312.0 333.0,305.9 332.0,305.1 331.0,304.2 330.0,300.7 329.0,299.9 328.0,300.3 327.0,305.8 326.0,309.5 325.0,308.1 324.0,293.7 323.0,291.9 322.0,286.7 321.0,284.7 320.0,292.0 319.0,290.3 318.0,289.7 317.0,291.8 316.0,295.8 315.0,296.2 314.0,293.7 313.0,286.2 312.0,283.9 311.0,289.1 310.0,286.1 309.0,283.8 308.0,286.7 307.0,288.6 306.0,297.9 305.0,298.5 304.0,294.6 303.0,296.5 302.0,296.2 301.0,289.9 300.0,289.7 299.0,286.6 298.0,287.2 297.0,293.8 296.0,295.2 295.0,296.9 294.0,293.3 293.0,293.6 292.0,297.1 291.0,310.3 290.0,313.7 289.0,309.6 288.0,310.4 287.0,307.8 286.0,310.9 285.0,305.7 284.0,304.6 283.0,301.3 282.0,302.2 281.0,290.9 280.0,307.5 279.0,302.6 278.0,306.5 277.0,291.7 276.0,290.3 275.0,287.8 274.0,294.5 273.0,296.4 272.0,303.4 271.0,304.1 270.0,297.9 269.0,298.4 268.0,297.4 267.0,304.0 266.0,299.4 265.0,294.8 264.0,290.2 263.0,297.2 262.0,291.7 261.0,293.1 260.0,293.0 259.0,303.4 258.0,297.7 257.0,303.9 256.0,302.7 255.0,300.3 254.0,303.7 253.0,304.1 252.0,320.0 251.0,328.7 250.0,332.2 249.0,339.0 248.0,330.1 247.0,337.2 246.0,344.6 245.0,344.4 244.0,346.9 243.0,353.2 242.0,364.2Z" fill="#e99105" stroke="#e99105" stroke-width="1.2" stroke-linejoin="round" shape-rendering="crispEdges"/>
<path d="M242.0,385.3 243.0,370.8 244.0,359.8 245.0,348.0 246.0,335.9 247.0,326.8 248.0,322.6 249.0,312.5 250.0,309.3 251.0,298.5 252.0,289.2 253.0,286.7 254.0,283.3 255.0,282.1 256.0,279.0 257.0,275.6 258.0,273.3 259.0,272.5 260.0,268.2 261.0,266.8 262.0,265.6 263.0,260.8 264.0,257.8 265.0,253.0 266.0,249.0 267.0,244.4 268.0,243.3 269.0,238.7 270.0,237.9 271.0,235.6 272.0,233.9 273.0,232.4 274.0,230.2 275.0,226.8 276.0,230.1 277.0,229.3 278.0,228.2 279.0,224.5 280.0,221.1 281.0,221.7 282.0,220.6 283.0,214.5 284.0,217.3 285.0,215.7 286.0,217.6 287.0,218.3 288.0,215.8 289.0,208.7 290.0,210.7 291.0,207.0 292.0,205.8 293.0,207.0 294.0,203.8 295.0,209.8 296.0,209.6 297.0,208.6 298.0,208.5 299.0,208.1 300.0,208.1 301.0,203.9 302.0,195.2 303.0,194.2 304.0,189.2 305.0,187.9 306.0,185.2 307.0,184.8 308.0,186.5 309.0,189.9 310.0,187.6 311.0,189.9 312.0,193.0 313.0,193.8 314.0,195.5 315.0,194.3 316.0,191.6 317.0,189.4 318.0,185.5 319.0,184.4 320.0,183.0 321.0,180.3 322.0,177.6 323.0,178.4 324.0,183.4 325.0,183.2 326.0,181.0 327.0,167.6 328.0,170.8 329.0,166.5 330.0,168.1 331.0,169.2 332.0,172.0 333.0,184.9 334.0,184.1 335.0,182.7 336.0,186.5 337.0,185.0 338.0,183.8 339.0,181.6 340.0,167.3 341.0,166.6 342.0,178.0 343.0,178.2 344.0,179.5 345.0,182.2 346.0,183.0 347.0,184.9 348.0,184.3 349.0,187.1 350.0,186.0 351.0,181.2 352.0,177.9 353.0,174.5 354.0,173.8 355.0,174.7 356.0,174.3 357.0,174.7 358.0,175.6 359.0,181.8 360.0,182.2 361.0,183.4 362.0,180.1 363.0,180.8 364.0,181.3 365.0,178.7 366.0,175.8 367.0,177.6 368.0,175.9 369.0,179.3 370.0,179.2 371.0,177.5 372.0,179.3 373.0,182.8 374.0,181.1 375.0,183.5 376.0,182.6 377.0,185.3 378.0,188.1 379.0,193.1 380.0,194.3 381.0,195.9 382.0,195.1 383.0,192.3 384.0,187.6 385.0,189.2 386.0,183.6 387.0,184.4 388.0,184.6 389.0,185.7 390.0,187.8 391.0,191.2 392.0,188.7 393.0,185.8 394.0,184.5 395.0,183.9 396.0,187.6 397.0,187.9 398.0,188.1 399.0,190.3 400.0,193.7 401.0,198.4 402.0,200.0 403.0,197.3 404.0,195.1 405.0,192.1 406.0,192.6 407.0,191.8 408.0,188.3 409.0,188.2 410.0,189.0 411.0,188.3 412.0,186.6 413.0,185.0 414.0,185.2 415.0,187.2 416.0,184.0 417.0,185.9 418.0,184.8 419.0,187.3 420.0,187.0 421.0,186.5 422.0,187.6 423.0,191.5 424.0,193.7 425.0,196.0 426.0,193.6 427.0,192.5 428.0,190.6 429.0,188.6 430.0,187.4 431.0,189.3 432.0,189.6 433.0,190.0 434.0,189.2 435.0,191.2 436.0,190.3 437.0,188.3 438.0,188.0 439.0,187.7 440.0,186.8 441.0,185.8 442.0,188.4 443.0,191.1 444.0,193.2 445.0,192.9 446.0,188.5 447.0,190.5 448.0,189.7 449.0,188.5 450.0,190.3 451.0,188.0 452.0,189.1 453.0,188.8 454.0,189.6 455.0,188.3 456.0,188.9 457.0,185.0 458.0,187.1 459.0,189.8 460.0,190.6 461.0,190.4 462.0,189.3 463.0,190.8 464.0,194.0 465.0,194.5 466.0,191.7 467.0,188.1 468.0,188.0 469.0,188.1 470.0,188.3 471.0,190.3 472.0,193.0 473.0,195.9 474.0,196.2 475.0,197.2 476.0,194.7 477.0,192.9 478.0,190.9 479.0,189.3 480.0,190.3 481.0,192.0 482.0,190.2 483.0,190.8 484.0,192.7 485.0,193.6 486.0,195.3 487.0,194.5 488.0,195.6 489.0,194.2 490.0,195.5 491.0,194.2 492.0,195.3 493.0,195.3 494.0,195.0 495.0,195.7 496.0,194.0 497.0,197.0 498.0,197.4 499.0,198.8 500.0,198.6 501.0,199.2 502.0,198.5 503.0,196.3 504.0,194.3 505.0,186.1 506.0,185.7 507.0,196.8 508.0,198.2 509.0,195.7 510.0,196.3 511.0,195.8 512.0,195.3 513.0,196.0 514.0,195.5 515.0,192.4 516.0,195.7 517.0,197.4 518.0,198.8 519.0,199.4 520.0,199.5 521.0,200.8 522.0,202.0 523.0,199.9 524.0,196.9 525.0,196.9 526.0,198.0 527.0,200.3 528.0,202.1 529.0,201.2 530.0,200.9 531.0,201.8 532.0,200.5 533.0,202.0 534.0,201.9 535.0,202.0 536.0,205.0 537.0,205.7 538.0,204.8 539.0,203.3 540.0,200.5 541.0,201.4 542.0,199.0 543.0,198.8 544.0,200.1 545.0,199.4 546.0,201.0 547.0,201.0 548.0,201.7 549.0,202.9 550.0,201.8 551.0,199.4 552.0,197.8 553.0,193.8 554.0,193.6 555.0,199.0 556.0,201.1 557.0,200.9 558.0,195.6 559.0,193.5 560.0,196.7 561.0,199.3 562.0,199.3 563.0,196.9 564.0,198.3 565.0,198.3 566.0,201.1 567.0,203.2 568.0,202.1 569.0,201.0 570.0,200.0 571.0,201.7 572.0,204.6 573.0,205.5 574.0,204.0 575.0,203.8 576.0,200.7 577.0,201.3 578.0,199.1 579.0,199.6 580.0,200.2 581.0,201.9 582.0,203.9 583.0,203.6 584.0,205.2 585.0,207.3 586.0,206.9 587.0,206.2 588.0,206.7 589.0,206.0 590.0,207.6 591.0,207.6 592.0,206.6 593.0,206.1 594.0,204.8 595.0,204.9 596.0,205.1 597.0,205.5 598.0,205.3 599.0,204.8 600.0,203.9 601.0,203.4 602.0,204.1 603.0,203.2 604.0,202.4 605.0,201.8 606.0,202.6 607.0,204.1 608.0,202.9 609.0,200.6 610.0,199.2 611.0,200.1 612.0,200.4 613.0,203.0 614.0,202.1 615.0,204.9 616.0,207.6 617.0,210.1 618.0,208.8 619.0,206.5 620.0,209.8 621.0,209.5 622.0,207.7 623.0,205.4 624.0,202.9 625.0,203.0 626.0,206.0 627.0,204.1 628.0,203.8 629.0,208.1 630.0,209.6 631.0,210.9 632.0,210.0 633.0,208.1 634.0,207.7 635.0,211.1 636.0,207.3 637.0,207.4 638.0,206.7 639.0,210.3 640.0,209.9 641.0,208.5 642.0,205.2 643.0,204.8 644.0,205.7 645.0,206.4 646.0,203.4 647.0,204.5 648.0,206.6 649.0,209.5 650.0,210.5 651.0,210.4 652.0,210.2 653.0,212.1 654.0,213.5 655.0,212.7 656.0,212.8 657.0,212.3 658.0,213.2 659.0,213.7 660.0,212.6 661.0,210.0 662.0,211.4 663.0,210.6 664.0,211.7 665.0,211.4 666.0,212.5 667.0,213.7 668.0,217.2 669.0,218.9 670.0,217.8 671.0,214.5 672.0,212.4 673.0,211.3 674.0,213.2 675.0,215.7 676.0,214.9 677.0,213.9 678.0,215.7 679.0,217.6 680.0,216.5 681.0,215.2 682.0,212.3 683.0,211.8 684.0,212.5 685.0,210.9 686.0,208.9 687.0,209.8 688.0,212.3 689.0,214.3 690.0,216.0 691.0,214.7 692.0,214.9 693.0,214.6 694.0,215.5 695.0,214.2 696.0,212.7 697.0,211.9 698.0,212.5 699.0,215.3 700.0,216.1 701.0,217.1 702.0,215.5 703.0,211.0 704.0,211.7 705.0,219.0 706.0,221.0 707.0,221.9 708.0,222.6 709.0,223.7 710.0,222.2 711.0,222.1 712.0,220.7 713.0,218.4 714.0,218.0 715.0,216.0 716.0,216.2 717.0,214.1 718.0,213.7 719.0,214.3 720.0,215.9 721.0,217.2 722.0,217.4 723.0,216.7 724.0,217.1 725.0,216.9 726.0,216.5 727.0,217.0 728.0,217.6 729.0,218.6 730.0,219.8 731.0,219.6 732.0,219.1 733.0,217.6 734.0,215.1 735.0,214.3 736.0,215.7 737.0,218.6 738.0,217.4 739.0,218.8 740.0,218.0 741.0,221.4 742.0,222.8 743.0,222.4 744.0,222.3 745.0,221.4 746.0,221.2 747.0,221.5 748.0,220.5 749.0,220.7 750.0,223.0 751.0,223.4 752.0,224.0 753.0,224.2 754.0,225.7 755.0,223.2 756.0,220.2 757.0,219.1 758.0,217.8 759.0,221.5 760.0,221.7 761.0,219.8 762.0,219.9 763.0,224.4 764.0,224.1 765.0,224.2 766.0,224.4 767.0,225.3 768.0,227.1 769.0,227.2 770.0,225.8 771.0,227.4 772.0,230.9 773.0,221.8 774.0,220.1 775.0,221.3 776.0,220.0 777.0,228.1 778.0,226.8 779.0,223.8 780.0,224.8 781.0,224.2 782.0,225.2 783.0,226.2 784.0,226.5 785.0,226.4 786.0,228.1 787.0,227.3 788.0,227.0 789.0,225.4 790.0,223.8 791.0,223.6 792.0,225.9 793.0,227.0 794.0,227.7 795.0,227.7 796.0,228.1 797.0,229.2 798.0,230.7 799.0,231.6 800.0,231.6 801.0,231.3 802.0,230.3 803.0,230.0 804.0,229.2 805.0,227.9 806.0,228.9 807.0,231.7 808.0,233.6 809.0,233.6 810.0,235.5 811.0,234.8 812.0,234.5 813.0,234.6 814.0,234.1 815.0,233.2 816.0,232.1 817.0,231.4 818.0,232.7 819.0,233.3 820.0,233.2 821.0,232.1 822.0,224.5 823.0,226.9 824.0,232.7 825.0,234.4 826.0,233.5 827.0,233.6 828.0,233.8 829.0,233.6 830.0,234.2 831.0,233.6 832.0,232.0 833.0,231.3 834.0,230.5 835.0,230.0 836.0,230.9 837.0,231.2 838.0,231.8 839.0,233.8 840.0,234.2 841.0,234.6 842.0,228.8 843.0,225.6 844.0,234.9 845.0,234.7 846.0,235.1 847.0,235.5 848.0,236.7 849.0,236.0 850.0,238.1 851.0,238.3 852.0,237.4 853.0,236.6 854.0,236.2 855.0,236.3 856.0,237.2 857.0,240.6 858.0,240.5 859.0,240.0 860.0,239.7 861.0,238.1 862.0,238.8 863.0,237.2 864.0,239.7 865.0,237.5 866.0,240.2 867.0,241.0 868.0,241.5 869.0,239.2 870.0,237.2 871.0,233.7 872.0,237.2 873.0,238.5 874.0,237.5 875.0,237.9 876.0,239.4 877.0,237.7 878.0,237.1 879.0,236.5 880.0,236.4 881.0,238.2 882.0,238.2 883.0,237.8 884.0,238.2 885.0,242.9 886.0,242.2 887.0,241.7 888.0,243.2 889.0,243.1 890.0,244.9 891.0,247.1 892.0,246.6 893.0,237.8 894.0,238.9 895.0,244.1 896.0,244.5 897.0,243.0 898.0,243.4 899.0,243.4 900.0,243.3 901.0,242.6 902.0,242.8 903.0,244.0 904.0,243.9 905.0,244.2 906.0,244.4 907.0,243.6 908.0,243.2 909.0,242.5 910.0,243.0 911.0,243.5 912.0,244.5 913.0,245.1 914.0,245.9 915.0,245.8 916.0,243.9 917.0,242.9 918.0,245.6 919.0,247.0 920.0,246.6 921.0,246.5 922.0,246.6 923.0,246.0 924.0,245.5 925.0,243.6 926.0,243.0 927.0,244.2 928.0,244.1 929.0,243.5 930.0,243.7 931.0,244.4 932.0,246.1 933.0,246.3 934.0,245.6 935.0,247.9 936.0,248.4 937.0,249.6 938.0,247.6 939.0,249.7 940.0,250.9 941.0,251.6 942.0,249.9 943.0,250.2 944.0,250.5 945.0,250.8 946.0,249.4 947.0,246.5 948.0,249.0 949.0,249.6 950.0,249.1 951.0,249.9 952.0,250.1 953.0,250.9 954.0,252.6 955.0,251.7 956.0,251.3 957.0,252.8 958.0,253.3 959.0,251.5 960.0,251.9 961.0,252.6 962.0,254.9 963.0,254.8 964.0,254.6 965.0,253.8 966.0,252.5 967.0,253.5 968.0,254.0 969.0,252.9 970.0,253.5 971.0,252.9 972.0,255.2 973.0,256.5 974.0,256.1 975.0,253.9 976.0,253.4 977.0,251.5 978.0,252.5 979.0,253.6 980.0,254.8 981.0,254.0 982.0,255.1 983.0,255.7 984.0,257.1 985.0,258.4 986.0,257.0 987.0,257.6 988.0,259.4 989.0,259.1 990.0,258.4 991.0,257.6 992.0,257.5 993.0,257.8 994.0,258.9 995.0,258.7 996.0,258.1 997.0,259.5 998.0,258.1 999.0,250.9 1000.0,249.5 1001.0,248.2 1002.0,246.5 1003.0,256.0 1004.0,255.9 1005.0,257.9 1006.0,259.7 1007.0,259.9 1008.0,261.3 1009.0,262.3 1010.0,262.2 1011.0,261.7 1012.0,260.2 1013.0,260.2 1014.0,260.7 1015.0,262.0 1016.0,262.7 1017.0,262.3 1018.0,263.0 1019.0,264.3 1020.0,262.1 1021.0,263.0 1022.0,263.1 1023.0,262.8 1024.0,262.2 1025.0,262.0 1026.0,261.6 1027.0,263.0 1028.0,262.0 1029.0,261.2 1030.0,261.3 1031.0,263.2 1032.0,263.4 1033.0,264.2 1034.0,262.7 1035.0,263.1 1036.0,261.6 1037.0,263.4 1038.0,262.3 1039.0,262.2 1040.0,262.5 1041.0,262.2 1042.0,261.9 1043.0,262.5 1044.0,261.5 1045.0,260.5 1046.0,262.2 1047.0,262.6 1048.0,264.6 1049.0,264.6 1050.0,264.9 1051.0,264.3 1052.0,266.3 1053.0,267.6 1054.0,266.7 1055.0,265.7 1056.0,266.2 1057.0,265.0 1058.0,267.7 1059.0,267.5 1060.0,267.6 1061.0,260.6 1062.0,261.8 1063.0,260.9 1064.0,261.0 1065.0,266.9 1066.0,266.8 1067.0,268.5 1068.0,268.3 1069.0,271.1 1070.0,270.4 1071.0,270.6 1072.0,269.5 1073.0,270.2 1074.0,270.3 1075.0,272.3 1076.0,271.2 1077.0,270.3 1078.0,270.5 1079.0,271.1 1080.0,272.1 1081.0,268.5 1082.0,268.0 1083.0,267.4 1084.0,269.4 1085.0,270.3 1086.0,272.4 1087.0,272.3 1088.0,275.1 1089.0,273.8 1090.0,273.5 1091.0,270.7 1092.0,269.9 1093.0,271.8 1094.0,270.3 1095.0,272.7 1096.0,271.2 1097.0,271.5 1098.0,271.7 1099.0,271.8 1100.0,272.1 1101.0,272.7 1102.0,270.9 1103.0,272.8 1104.0,273.6 1105.0,272.6 1106.0,273.3 1107.0,274.0 1108.0,272.5 1109.0,272.3 1110.0,269.9 1111.0,272.2 1112.0,273.8 1113.0,274.4 1114.0,272.9 1115.0,273.3 1116.0,274.3 1117.0,273.1 1118.0,272.6 1119.0,274.0 1120.0,274.8 1121.0,275.9 1122.0,271.1 1123.0,272.0 1124.0,276.9 1125.0,279.6 1126.0,273.1 1127.0,271.7 1128.0,270.4 1129.0,276.4 1130.0,278.2 1131.0,277.8 1132.0,275.9 1133.0,275.3 1134.0,277.1 1135.0,276.0 1136.0,277.1 1137.0,276.6 1138.0,278.9 1139.0,280.9 1140.0,280.6 1141.0,281.1 1142.0,282.4 1143.0,280.9 1144.0,280.2 1145.0,279.9 1146.0,278.0 1147.0,276.7 1148.0,276.3 1149.0,274.7 1150.0,274.4 1151.0,274.0 1152.0,275.8 1153.0,279.1 1154.0,281.4 1155.0,281.9 1156.0,283.9 1157.0,283.8 1158.0,285.7 1159.0,287.5 1160.0,287.4 1161.0,285.2 1162.0,285.7 1163.0,282.5 1164.0,283.1 1165.0,283.0 1166.0,282.4 1167.0,281.3 1168.0,282.0 1169.0,281.6 1170.0,283.6 1171.0,284.1 1172.0,282.0 1173.0,279.9 1174.0,280.2 1175.0,278.3 1176.0,282.1 1177.0,282.2 1178.0,283.3 1179.0,285.7 1180.0,283.3 1181.0,282.0 1182.0,282.5 1183.0,283.5 1184.0,283.9 1185.0,285.4 1186.0,285.0 1187.0,286.7 1188.0,287.8 1189.0,287.7 1190.0,285.7 1191.0,285.3 1192.0,284.1 1193.0,284.4 1194.0,284.7 1195.0,283.3 1196.0,284.7 1197.0,286.1 1198.0,287.0 1199.0,286.0 1200.0,286.6 1201.0,287.3 1202.0,287.5 1203.0,286.8 1204.0,287.3 1205.0,286.9 1206.0,290.2 1207.0,290.3 1208.0,290.2 1209.0,289.0 1210.0,289.8 1211.0,288.9 1212.0,288.7 1213.0,286.2 1214.0,286.8 1215.0,287.9 1216.0,286.9 1217.0,286.1 1218.0,285.4 1219.0,285.3 1220.0,286.5 1221.0,289.0 1222.0,290.2 1223.0,293.5 1224.0,294.8 1225.0,294.3 1226.0,296.2 1227.0,295.0 1228.0,293.6 1229.0,293.9 1230.0,292.1 1231.0,292.1 1232.0,292.9 1233.0,292.0 1234.0,291.8 1235.0,292.7 1236.0,293.0 1237.0,291.7 1238.0,291.5 1239.0,292.1 1240.0,294.8 1241.0,296.4 1242.0,293.8 1243.0,292.9 1244.0,294.0 1245.0,294.6 1246.0,295.3 1247.0,295.3 1248.0,296.3 1249.0,295.5 1250.0,295.3 1251.0,294.7 1252.0,294.4 1253.0,294.0 1254.0,294.2 1255.0,292.6 1256.0,293.0 1257.0,292.7 1258.0,293.3 1259.0,294.1 1260.0,295.3 1261.0,296.4 1262.0,296.6 1263.0,299.0 1264.0,297.0 1265.0,289.8 1266.0,290.3 1267.0,292.2 1268.0,298.3 1269.0,290.7 1270.0,290.9 1271.0,291.0 1272.0,292.1 1273.0,296.8 1274.0,297.5 1275.0,298.3 1276.0,300.4 1277.0,301.5 1278.0,302.7 1279.0,301.6 1280.0,301.6 1281.0,300.4 1282.0,298.0 1283.0,300.1 1284.0,293.0 1285.0,292.8 1286.0,293.0 1287.0,301.2 1288.0,302.1 1289.0,304.1 1290.0,303.0 1291.0,302.4 1292.0,302.2 1293.0,303.7 1294.0,304.6 1295.0,303.5 1296.0,304.8 1297.0,305.9 1298.0,304.7 1299.0,304.5 1300.0,304.5 1301.0,305.5 1302.0,304.8 1303.0,302.6 1304.0,302.4 1305.0,304.2 1306.0,306.1 1307.0,307.2 1308.0,307.7 1309.0,301.9 1310.0,301.9 1311.0,301.8 1312.0,306.7 1313.0,306.6 1314.0,304.6 1315.0,302.7 1316.0,302.5 1317.0,304.6 1318.0,304.9 1319.0,305.9 1320.0,306.0 1321.0,306.7 1322.0,306.4 1323.0,307.8 1324.0,307.0 1325.0,307.0 1326.0,306.8 1327.0,306.4 1328.0,309.1 1329.0,311.4 1330.0,310.7 1331.0,311.0 1332.0,310.5 1333.0,311.8 1334.0,312.5 1335.0,312.3 1336.0,311.7 1337.0,310.0 1338.0,309.3 1339.0,309.9 1340.0,309.5 1341.0,309.5 1342.0,307.8 1343.0,307.1 1344.0,310.1 1345.0,311.2 1346.0,311.6 1347.0,313.7 1348.0,315.1 1349.0,315.5 1350.0,315.4 1351.0,313.6 1352.0,313.8 1353.0,315.9 1354.0,315.0 1355.0,314.6 1356.0,314.1 1357.0,313.7 1358.0,314.0 1359.0,314.1 1360.0,314.5 1361.0,314.5 1362.0,314.4 1363.0,315.0 1364.0,313.6 1365.0,310.7 1366.0,310.6 1367.0,312.1 1368.0,314.7 1369.0,314.6 1370.0,316.6 1371.0,318.3 1372.0,321.9 1373.0,315.2 1374.0,312.1 1375.0,311.2 1376.0,316.9 1377.0,317.9 1378.0,318.8 1379.0,318.2 1380.0,317.7 1381.0,319.5 1382.0,319.3 1383.0,317.3 1384.0,316.5 1385.0,316.0 1386.0,316.1 1387.0,316.9 1388.0,319.5 1389.0,319.2 1390.0,319.2 1391.0,319.9 1392.0,319.2 1393.0,321.2 1394.0,320.9 1395.0,321.9 1396.0,323.1 1397.0,326.9 1398.0,326.4 1399.0,328.1 1400.0,324.7 1401.0,324.5 1402.0,324.4 1403.0,324.9 1404.0,322.6 1405.0,323.3 1406.0,321.9 1407.0,325.0 1408.0,324.1 1409.0,324.7 1410.0,324.7 1411.0,324.6 1412.0,317.2 1413.0,317.6 1414.0,317.3 1415.0,325.6 1416.0,325.6 1417.0,326.9 1418.0,328.4 1419.0,327.2 1420.0,328.4 1421.0,321.5 1422.0,321.6 1423.0,326.4 1424.0,325.9 1425.0,325.6 1426.0,326.4 1427.0,326.6 1428.0,326.4 1429.0,328.9 1430.0,328.1 1431.0,327.7 1432.0,327.0 1433.0,329.5 1434.0,328.2 1435.0,329.8 1436.0,329.8 1437.0,329.8 1438.0,329.6 1439.0,330.2 1440.0,328.4 1441.0,331.7 1442.0,332.7 1443.0,332.0 1444.0,332.5 1445.0,333.3 1446.0,333.9 1447.0,334.1 1448.0,335.0 1449.0,334.7 1450.0,336.7 1451.0,335.2 1452.0,335.2 1453.0,332.2 1454.0,333.1 1455.0,334.7 1456.0,336.4 1457.0,335.3 1458.0,334.3 1459.0,335.3 1460.0,339.1 1461.0,339.8 1462.0,339.2 1463.0,336.8 1464.0,338.5 1465.0,338.5 1466.0,340.7 1467.0,337.7 1468.0,340.2 1469.0,339.9 1470.0,342.9 1471.0,342.5 1472.0,344.0 1473.0,342.4 1474.0,344.0 1475.0,344.1 1476.0,342.1 1477.0,342.0 1478.0,340.7 1479.0,342.0 1480.0,341.5 1481.0,341.7 1482.0,344.2 1483.0,343.7 1484.0,343.2 1485.0,344.9 1486.0,345.1 1487.0,347.4 1488.0,347.8 1489.0,344.6 1490.0,343.3 1491.0,344.2 1492.0,343.8 1493.0,344.9 1494.0,344.7 1495.0,346.2 1496.0,348.2 1497.0,348.5 1498.0,349.3 1499.0,350.3 1500.0,348.5 1501.0,348.5 1502.0,347.2 1503.0,347.5 1504.0,349.0 1505.0,348.4 1506.0,349.5 1507.0,350.3 1508.0,349.0 1509.0,350.6 1510.0,350.1 1511.0,352.1 1512.0,353.1 1513.0,355.1 1514.0,354.4 1515.0,356.1 1516.0,356.2 1517.0,357.8 1518.0,356.3 1519.0,357.4 1520.0,358.2 1521.0,359.0 1522.0,359.7 1523.0,357.5 1524.0,361.4 1525.0,362.3 1526.0,363.4 1527.0,362.8 1528.0,363.3 1529.0,364.1 1530.0,365.7 1531.0,365.1 1532.0,365.5 1533.0,365.5 1534.0,365.4 1535.0,367.5 1536.0,368.3 1537.0,369.3 1538.0,371.6 1539.0,371.4 1540.0,371.8 1541.0,367.8 1542.0,368.8 1543.0,367.7 1544.0,371.8 1545.0,370.1 1546.0,370.4 1547.0,370.8 1548.0,372.7 1549.0,373.0 1550.0,375.1 1551.0,376.6 1552.0,377.2 1553.0,377.6 1554.0,377.4 1555.0,375.7 1556.0,375.1 1557.0,375.1 1558.0,375.4 1559.0,378.4 1560.0,376.9 1561.0,375.9 1562.0,376.4 1563.0,376.1 1564.0,376.4 1565.0,377.3 1566.0,373.8 1567.0,375.8 1568.0,378.0 1569.0,378.2 1570.0,379.5 1571.0,379.2 1572.0,379.1 1573.0,379.4 1574.0,379.3 1575.0,379.2 1576.0,381.4 1577.0,383.4 1578.0,384.0 1579.0,382.3 1580.0,383.9 1581.0,385.6 1582.0,386.8 1583.0,385.1 1584.0,384.2 1585.0,385.4 1586.0,385.8 1587.0,386.6 1588.0,386.9 1589.0,387.1 1590.0,389.7 1591.0,390.2 1592.0,391.5 1593.0,393.4 1594.0,391.4 1595.0,391.9 1596.0,396.4 1597.0,397.2 1598.0,397.3 1599.0,396.8 1600.0,396.9 1601.0,395.5 1602.0,394.2 1603.0,394.2 1604.0,395.5 1605.0,397.3 1606.0,395.1 1607.0,394.6 1608.0,394.2 1609.0,387.6 1610.0,389.5 1611.0,397.6 1612.0,398.1 1613.0,400.1 1614.0,401.7 1615.0,403.9 1616.0,405.2 1617.0,404.5 1618.0,403.5 1619.0,404.5 1620.0,407.1 1621.0,407.9 1622.0,407.0 1623.0,405.3 1624.0,407.8 1625.0,409.6 1626.0,408.8 1627.0,406.9 1628.0,406.9 1629.0,407.6 1630.0,408.6 1631.0,406.3 1632.0,407.3 1633.0,408.1 1634.0,409.8 1635.0,402.6 1636.0,401.1 1637.0,401.2 1638.0,410.9 1639.0,412.5 1640.0,412.7 1641.0,412.6 1642.0,413.1 1643.0,414.1 1644.0,415.4 1645.0,414.3 1646.0,413.4 1647.0,414.2 1648.0,415.1 1649.0,415.2 1650.0,416.0 1651.0,415.0 1652.0,414.7 1653.0,415.3 1654.0,415.7 1655.0,415.0 1656.0,415.7 1657.0,418.6 1658.0,418.1 1659.0,418.4 1660.0,418.9 1661.0,422.5 1662.0,420.9 1663.0,419.2 1664.0,416.7 1665.0,421.1 1666.0,419.6 1667.0,421.2 1668.0,421.4 1669.0,422.3 1670.0,421.9 1671.0,421.4 1672.0,422.3 1673.0,415.3 1674.0,415.0 1675.0,416.4 1676.0,418.3 1677.0,428.1 1678.0,429.4 1679.0,431.0 1680.0,429.1 1681.0,430.8 1682.0,429.7 1683.0,430.9 1684.0,430.5 1685.0,431.2 1686.0,431.2 1687.0,432.2 1688.0,431.0 1689.0,431.4 1690.0,423.0 1691.0,424.6 1692.0,424.7 1693.0,431.8 1694.0,429.6 1695.0,429.1 1696.0,430.0 1697.0,429.9 1698.0,432.4 1699.0,433.0 1700.0,435.6 1701.0,435.8 1702.0,435.3 1703.0,437.3 1704.0,438.1 1705.0,439.5 1706.0,439.3 1707.0,438.9 1708.0,438.4 1709.0,439.3 1710.0,437.6 1711.0,438.6 1712.0,436.4 1713.0,437.4 1714.0,438.1 1715.0,438.3 1716.0,438.7 1717.0,439.0 1718.0,439.3 1719.0,440.0 1720.0,439.6 1721.0,440.0 1722.0,442.5 1723.0,441.7 1724.0,442.8 1725.0,442.6 1726.0,444.3 1727.0,439.0 1728.0,438.6 1729.0,439.5 1730.0,441.0 1731.0,443.6 1732.0,441.7 1733.0,443.5 1734.0,446.5 1735.0,447.7 1736.0,447.5 1737.0,446.5 1738.0,448.8 1739.0,449.3 1740.0,448.5 1741.0,449.6 1742.0,448.2 1743.0,449.4 1744.0,452.5 1745.0,452.8 1746.0,455.0 1747.0,448.9 1748.0,449.3 1749.0,449.9 1750.0,452.4 1751.0,451.8 1752.0,450.0 1753.0,450.8 1754.0,451.1 1755.0,453.0 1756.0,452.0 1757.0,452.4 1758.0,451.2 1759.0,452.4 1760.0,454.0 1761.0,454.2 1762.0,454.8 1763.0,455.7 1764.0,458.6 1765.0,457.3 1766.0,455.6 1767.0,455.8 1768.0,454.8 1769.0,446.8 1770.0,447.4 1771.0,454.6 1772.0,453.4 1773.0,455.2 1774.0,454.8 1775.0,454.7 1776.0,454.0 1777.0,453.2 1778.0,454.4 1779.0,454.4 1780.0,454.0 1781.0,455.1 1782.0,455.4 1783.0,456.2 1784.0,457.7 1785.0,457.5 1786.0,459.1 1787.0,460.4 1788.0,459.7 1789.0,457.4 1790.0,457.5 1791.0,456.9 1792.0,458.6 1793.0,459.5 1794.0,457.1 1795.0,458.2 1796.0,459.2 1797.0,459.0 1798.0,459.6 1799.0,461.1 1800.0,462.9 1801.0,463.5 1802.0,463.0 1803.0,463.2 1804.0,460.9 1805.0,460.7 1806.0,459.0 1807.0,459.7 1808.0,460.8 1809.0,462.9 1810.0,462.4 1811.0,463.4 1812.0,464.4 1813.0,465.4 1814.0,467.6 1815.0,468.9 1816.0,470.6 1817.0,472.0 1818.0,471.7 1819.0,473.4 1820.0,474.5 1821.0,473.3 1822.0,472.0 1823.0,468.5 1824.0,469.3 1825.0,469.8 1826.0,466.1 1827.0,462.1 1828.0,467.5 1829.0,469.0 1830.0,473.8 1831.0,473.6 1832.0,475.0 1833.0,472.8 1834.0,472.6 1835.0,473.2 1836.0,470.2 1837.0,470.8 1838.0,470.6 1839.0,468.8 1840.0,467.1 1841.0,465.9 1842.0,469.5 1843.0,470.8 1844.0,470.5 1845.0,470.4 1846.0,469.7 1847.0,470.4 1848.0,471.8 1849.0,470.4 1850.0,471.7 1851.0,473.9 1852.0,473.4 1853.0,474.0 1854.0,475.1 1855.0,475.3 1856.0,474.1 1857.0,473.2 1858.0,472.8 1859.0,476.8 1860.0,475.9 1861.0,475.4 1862.0,476.0 1863.0,477.8 1864.0,479.3 1865.0,479.3 1866.0,477.7 1867.0,481.7 1868.0,481.3 1869.0,482.9 1870.0,479.1 1871.0,478.5 1872.0,479.0 1873.0,480.8 1874.0,480.3 1875.0,480.9 1876.0,478.5 1877.0,479.5 1878.0,480.7 1879.0,479.6 1880.0,481.2 1881.0,480.7 1882.0,480.0 1883.0,479.1 1884.0,476.9 1885.0,477.0 1886.0,475.9 1887.0,474.7 1888.0,474.8 1889.0,476.3 1890.0,477.3 1891.0,468.7 1892.0,469.2 1893.0,469.6 1894.0,469.3 1895.0,479.0 1896.0,480.9 1897.0,482.9 1898.0,483.4 1899.0,481.9 1900.0,480.8 1901.0,481.5 1902.0,483.6 1903.0,483.2 1904.0,483.6 1905.0,482.8 1906.0,482.3 1907.0,484.6 1908.0,483.5 1909.0,483.1 1910.0,482.4 1911.0,483.2 1912.0,484.5 1913.0,485.7 1914.0,482.7 1915.0,482.1 1916.0,480.3 1917.0,481.1 1918.0,482.6 1919.0,483.4 1920.0,482.3 1921.0,485.5 1922.0,486.8 1923.0,489.0 1924.0,488.7 1925.0,488.2 1926.0,487.4 1927.0,488.8 1928.0,489.6 1929.0,488.8 1930.0,488.8 1931.0,488.0 1932.0,486.3 1933.0,486.9 1934.0,486.2 1935.0,487.4 1936.0,486.9 1937.0,487.8 1938.0,487.7 1939.0,488.7 1940.0,490.3 1941.0,491.4 1942.0,491.0 1943.0,491.6 1944.0,492.1 1945.0,491.6 1946.0,494.3 1947.0,493.6 1948.0,494.3 1949.0,494.5 1950.0,495.9 1951.0,495.6 1952.0,495.1 1953.0,492.1 1954.0,488.0 1955.0,488.4 1956.0,487.5 1957.0,492.6 1958.0,493.4 1959.0,494.1 1960.0,493.6 1961.0,492.3 1962.0,493.7 1963.0,494.4 1964.0,494.4 1965.0,491.8 1966.0,494.8 1967.0,495.8 1968.0,496.7 1969.0,494.5 1970.0,494.8 1971.0,494.8 1972.0,496.0 1973.0,497.1 1974.0,496.3 1975.0,496.8 1976.0,497.0 1977.0,496.6 1978.0,496.1 1979.0,497.2 1980.0,495.2 1981.0,493.1 1982.0,492.4 1983.0,491.8 1984.0,493.0 1985.0,494.6 1986.0,493.5 1987.0,493.5 1988.0,494.4 1989.0,495.7 1990.0,492.8 1991.0,493.5 1992.0,493.1 1993.0,493.1 1994.0,495.5 1995.0,495.6 1996.0,495.9 1997.0,498.2 1998.0,497.2 1999.0,496.7 2000.0,498.2 2001.0,500.1 2002.0,503.5 2003.0,504.2 2004.0,504.4 2005.0,505.5 2006.0,505.6 2007.0,504.0 2008.0,500.7 2009.0,499.2 2010.0,500.5 2011.0,500.4 2012.0,502.4 2013.0,501.5 2014.0,501.6 2015.0,503.2 2016.0,503.1 2017.0,502.4 2018.0,501.9 2019.0,501.4 2020.0,501.8 2021.0,501.6 2022.0,503.2 2023.0,503.2 2024.0,505.7 2025.0,506.1 2026.0,508.3 2027.0,508.4 2028.0,509.6 2029.0,508.6 2030.0,509.6 2031.0,508.0 2032.0,509.7 2033.0,510.7 2034.0,510.0 2035.0,510.3 2036.0,509.7 2037.0,510.5 2038.0,510.9 2039.0,510.6 2040.0,509.1 2041.0,509.5 2042.0,509.2 2043.0,509.3 2044.0,507.6 2045.0,509.0 2046.0,508.3 2047.0,509.0 2048.0,509.5 2049.0,509.3 2050.0,509.6 2051.0,510.7 2052.0,507.1 2053.0,508.9 2054.0,510.7 2055.0,515.2 2056.0,516.1 2057.0,516.2 2058.0,514.2 2059.0,513.5 2060.0,512.5 2061.0,512.7 2062.0,512.6 2063.0,512.9 2064.0,511.6 2065.0,511.5 2066.0,512.2 2067.0,513.0 2067.0,540.5 2066.0,538.6 2065.0,537.0 2064.0,535.2 2063.0,535.0 2062.0,534.7 2061.0,535.1 2060.0,534.5 2059.0,535.3 2058.0,535.4 2057.0,535.5 2056.0,536.3 2055.0,537.3 2054.0,537.2 2053.0,537.2 2052.0,538.2 2051.0,538.2 2050.0,537.7 2049.0,537.9 2048.0,536.2 2047.0,536.2 2046.0,534.4 2045.0,532.7 2044.0,530.9 2043.0,533.8 2042.0,532.9 2041.0,534.0 2040.0,531.6 2039.0,532.1 2038.0,534.0 2037.0,536.9 2036.0,535.4 2035.0,534.8 2034.0,532.5 2033.0,535.5 2032.0,534.3 2031.0,534.7 2030.0,533.6 2029.0,533.6 2028.0,534.7 2027.0,535.8 2026.0,534.1 2025.0,533.7 2024.0,534.7 2023.0,533.8 2022.0,532.5 2021.0,531.1 2020.0,530.7 2019.0,531.5 2018.0,532.0 2017.0,530.8 2016.0,528.9 2015.0,527.9 2014.0,528.4 2013.0,529.6 2012.0,531.0 2011.0,531.4 2010.0,530.4 2009.0,529.5 2008.0,527.1 2007.0,526.5 2006.0,527.9 2005.0,526.9 2004.0,528.5 2003.0,526.0 2002.0,526.9 2001.0,527.4 2000.0,526.5 1999.0,525.7 1998.0,525.9 1997.0,526.1 1996.0,527.3 1995.0,527.6 1994.0,526.9 1993.0,527.1 1992.0,526.6 1991.0,527.2 1990.0,527.9 1989.0,527.9 1988.0,527.3 1987.0,525.7 1986.0,525.8 1985.0,523.5 1984.0,529.3 1983.0,528.7 1982.0,523.1 1981.0,519.3 1980.0,519.1 1979.0,518.5 1978.0,520.8 1977.0,521.1 1976.0,521.5 1975.0,520.1 1974.0,522.1 1973.0,521.0 1972.0,523.7 1971.0,523.0 1970.0,521.8 1969.0,520.9 1968.0,523.5 1967.0,521.6 1966.0,522.5 1965.0,519.3 1964.0,520.6 1963.0,520.7 1962.0,519.0 1961.0,514.5 1960.0,513.4 1959.0,513.4 1958.0,515.7 1957.0,516.2 1956.0,524.6 1955.0,526.9 1954.0,522.9 1953.0,522.5 1952.0,521.1 1951.0,521.1 1950.0,521.6 1949.0,522.1 1948.0,522.6 1947.0,521.9 1946.0,522.4 1945.0,521.1 1944.0,519.8 1943.0,516.2 1942.0,514.9 1941.0,514.4 1940.0,516.0 1939.0,516.8 1938.0,517.2 1937.0,517.6 1936.0,517.0 1935.0,519.0 1934.0,520.3 1933.0,520.0 1932.0,519.2 1931.0,518.2 1930.0,523.0 1929.0,524.4 1928.0,517.1 1927.0,516.1 1926.0,514.1 1925.0,514.5 1924.0,514.4 1923.0,514.5 1922.0,513.6 1921.0,514.6 1920.0,515.6 1919.0,522.2 1918.0,520.6 1917.0,515.0 1916.0,517.1 1915.0,517.2 1914.0,515.8 1913.0,514.3 1912.0,513.8 1911.0,514.8 1910.0,514.5 1909.0,515.7 1908.0,516.0 1907.0,515.3 1906.0,517.9 1905.0,516.6 1904.0,515.0 1903.0,515.2 1902.0,512.5 1901.0,511.6 1900.0,510.8 1899.0,512.5 1898.0,511.5 1897.0,512.1 1896.0,511.4 1895.0,509.3 1894.0,510.0 1893.0,508.9 1892.0,510.2 1891.0,511.4 1890.0,512.3 1889.0,510.7 1888.0,511.8 1887.0,513.2 1886.0,513.5 1885.0,512.9 1884.0,510.3 1883.0,508.6 1882.0,511.5 1881.0,509.2 1880.0,508.2 1879.0,506.6 1878.0,507.7 1877.0,505.9 1876.0,506.2 1875.0,505.5 1874.0,508.0 1873.0,507.7 1872.0,508.5 1871.0,509.1 1870.0,509.5 1869.0,509.4 1868.0,510.1 1867.0,510.3 1866.0,511.4 1865.0,510.1 1864.0,508.8 1863.0,507.7 1862.0,507.0 1861.0,506.4 1860.0,507.0 1859.0,505.5 1858.0,505.2 1857.0,506.5 1856.0,508.8 1855.0,509.2 1854.0,509.3 1853.0,507.1 1852.0,506.7 1851.0,504.6 1850.0,512.2 1849.0,510.9 1848.0,510.3 1847.0,502.5 1846.0,503.4 1845.0,502.4 1844.0,503.6 1843.0,502.1 1842.0,502.9 1841.0,503.3 1840.0,505.4 1839.0,503.6 1838.0,504.3 1837.0,502.0 1836.0,498.9 1835.0,499.7 1834.0,500.7 1833.0,500.1 1832.0,500.5 1831.0,500.0 1830.0,501.8 1829.0,504.0 1828.0,505.1 1827.0,504.7 1826.0,504.1 1825.0,501.8 1824.0,502.0 1823.0,501.3 1822.0,500.4 1821.0,498.1 1820.0,497.8 1819.0,497.8 1818.0,499.5 1817.0,499.2 1816.0,500.2 1815.0,500.2 1814.0,500.3 1813.0,499.5 1812.0,500.1 1811.0,499.5 1810.0,501.2 1809.0,500.5 1808.0,503.0 1807.0,502.3 1806.0,499.5 1805.0,496.0 1804.0,497.5 1803.0,496.9 1802.0,497.2 1801.0,496.7 1800.0,497.3 1799.0,497.3 1798.0,497.3 1797.0,492.7 1796.0,492.9 1795.0,493.7 1794.0,495.7 1793.0,495.7 1792.0,495.7 1791.0,495.4 1790.0,496.6 1789.0,497.4 1788.0,497.3 1787.0,496.1 1786.0,494.9 1785.0,494.6 1784.0,494.0 1783.0,493.8 1782.0,493.2 1781.0,493.4 1780.0,494.1 1779.0,496.3 1778.0,496.4 1777.0,496.6 1776.0,496.2 1775.0,494.8 1774.0,494.9 1773.0,493.8 1772.0,491.7 1771.0,488.4 1770.0,488.3 1769.0,486.2 1768.0,491.1 1767.0,491.1 1766.0,491.6 1765.0,488.2 1764.0,489.1 1763.0,490.4 1762.0,491.1 1761.0,489.9 1760.0,489.6 1759.0,490.8 1758.0,489.7 1757.0,489.8 1756.0,487.7 1755.0,485.3 1754.0,484.7 1753.0,481.7 1752.0,481.3 1751.0,481.0 1750.0,480.0 1749.0,480.2 1748.0,480.1 1747.0,479.4 1746.0,478.4 1745.0,479.1 1744.0,479.6 1743.0,479.7 1742.0,483.1 1741.0,483.4 1740.0,483.6 1739.0,484.9 1738.0,480.2 1737.0,480.0 1736.0,480.2 1735.0,481.1 1734.0,479.6 1733.0,478.5 1732.0,478.6 1731.0,476.5 1730.0,476.2 1729.0,476.7 1728.0,476.4 1727.0,476.0 1726.0,475.4 1725.0,476.4 1724.0,475.4 1723.0,475.2 1722.0,471.6 1721.0,471.0 1720.0,472.1 1719.0,471.9 1718.0,471.7 1717.0,470.0 1716.0,471.3 1715.0,471.5 1714.0,473.0 1713.0,471.2 1712.0,469.0 1711.0,470.5 1710.0,471.0 1709.0,471.5 1708.0,470.9 1707.0,469.5 1706.0,470.4 1705.0,471.8 1704.0,470.9 1703.0,470.5 1702.0,474.6 1701.0,474.2 1700.0,466.5 1699.0,466.5 1698.0,466.0 1697.0,464.7 1696.0,463.1 1695.0,461.1 1694.0,459.4 1693.0,458.8 1692.0,456.5 1691.0,456.4 1690.0,459.8 1689.0,462.3 1688.0,461.2 1687.0,461.2 1686.0,463.3 1685.0,464.1 1684.0,464.6 1683.0,462.7 1682.0,461.3 1681.0,462.1 1680.0,463.3 1679.0,460.9 1678.0,469.8 1677.0,469.1 1676.0,467.4 1675.0,465.1 1674.0,457.5 1673.0,457.9 1672.0,457.5 1671.0,453.6 1670.0,453.3 1669.0,452.9 1668.0,453.1 1667.0,451.8 1666.0,450.7 1665.0,459.0 1664.0,461.3 1663.0,461.5 1662.0,453.4 1661.0,451.5 1660.0,450.9 1659.0,449.8 1658.0,451.9 1657.0,450.7 1656.0,450.7 1655.0,450.8 1654.0,450.4 1653.0,452.1 1652.0,452.0 1651.0,449.6 1650.0,449.4 1649.0,447.6 1648.0,447.4 1647.0,447.4 1646.0,445.3 1645.0,443.2 1644.0,442.3 1643.0,442.6 1642.0,443.4 1641.0,443.8 1640.0,443.0 1639.0,442.9 1638.0,442.8 1637.0,441.7 1636.0,440.5 1635.0,439.6 1634.0,438.4 1633.0,439.8 1632.0,439.3 1631.0,440.7 1630.0,440.4 1629.0,440.2 1628.0,440.6 1627.0,440.2 1626.0,439.8 1625.0,438.4 1624.0,437.8 1623.0,438.7 1622.0,438.4 1621.0,436.8 1620.0,436.5 1619.0,437.2 1618.0,437.5 1617.0,434.4 1616.0,432.5 1615.0,433.3 1614.0,434.3 1613.0,433.5 1612.0,432.9 1611.0,431.7 1610.0,431.2 1609.0,441.2 1608.0,441.8 1607.0,434.3 1606.0,433.3 1605.0,434.0 1604.0,433.7 1603.0,432.9 1602.0,431.0 1601.0,429.8 1600.0,430.0 1599.0,427.4 1598.0,426.1 1597.0,424.3 1596.0,425.5 1595.0,424.6 1594.0,423.0 1593.0,423.5 1592.0,423.4 1591.0,423.2 1590.0,423.6 1589.0,423.5 1588.0,425.3 1587.0,424.9 1586.0,423.5 1585.0,422.3 1584.0,421.4 1583.0,421.1 1582.0,422.2 1581.0,421.2 1580.0,423.2 1579.0,422.3 1578.0,423.3 1577.0,421.7 1576.0,420.2 1575.0,419.9 1574.0,418.0 1573.0,415.7 1572.0,415.7 1571.0,414.1 1570.0,415.6 1569.0,417.3 1568.0,416.4 1567.0,415.8 1566.0,416.9 1565.0,414.9 1564.0,417.0 1563.0,415.6 1562.0,414.2 1561.0,415.6 1560.0,414.7 1559.0,414.2 1558.0,412.3 1557.0,409.3 1556.0,408.6 1555.0,407.4 1554.0,405.9 1553.0,404.7 1552.0,405.8 1551.0,405.2 1550.0,406.6 1549.0,405.4 1548.0,405.3 1547.0,406.0 1546.0,406.7 1545.0,404.0 1544.0,404.9 1543.0,403.9 1542.0,403.9 1541.0,402.1 1540.0,403.1 1539.0,402.7 1538.0,404.2 1537.0,403.9 1536.0,404.1 1535.0,403.2 1534.0,404.3 1533.0,403.8 1532.0,402.7 1531.0,402.2 1530.0,401.9 1529.0,401.7 1528.0,401.3 1527.0,398.6 1526.0,397.0 1525.0,400.3 1524.0,399.8 1523.0,398.4 1522.0,393.2 1521.0,391.4 1520.0,391.8 1519.0,390.8 1518.0,391.3 1517.0,390.7 1516.0,388.5 1515.0,390.1 1514.0,391.6 1513.0,390.8 1512.0,389.8 1511.0,390.3 1510.0,387.8 1509.0,389.1 1508.0,385.5 1507.0,384.6 1506.0,384.4 1505.0,385.8 1504.0,385.5 1503.0,386.1 1502.0,386.4 1501.0,385.2 1500.0,383.7 1499.0,384.1 1498.0,383.5 1497.0,387.5 1496.0,387.3 1495.0,384.7 1494.0,385.5 1493.0,384.4 1492.0,381.2 1491.0,379.5 1490.0,377.2 1489.0,377.4 1488.0,375.5 1487.0,375.0 1486.0,373.8 1485.0,373.0 1484.0,373.8 1483.0,373.6 1482.0,372.7 1481.0,372.6 1480.0,371.7 1479.0,372.4 1478.0,372.9 1477.0,379.0 1476.0,377.7 1475.0,377.9 1474.0,371.3 1473.0,373.1 1472.0,371.2 1471.0,371.0 1470.0,369.7 1469.0,371.1 1468.0,371.4 1467.0,373.1 1466.0,372.5 1465.0,370.9 1464.0,369.3 1463.0,369.2 1462.0,376.3 1461.0,377.7 1460.0,375.4 1459.0,374.6 1458.0,368.4 1457.0,369.9 1456.0,369.0 1455.0,368.5 1454.0,369.7 1453.0,369.5 1452.0,371.1 1451.0,370.4 1450.0,371.6 1449.0,371.9 1448.0,371.0 1447.0,369.0 1446.0,369.0 1445.0,368.6 1444.0,368.9 1443.0,368.7 1442.0,370.3 1441.0,371.1 1440.0,371.2 1439.0,371.2 1438.0,369.0 1437.0,373.5 1436.0,373.1 1435.0,368.3 1434.0,370.6 1433.0,372.0 1432.0,370.6 1431.0,370.2 1430.0,369.2 1429.0,368.0 1428.0,367.0 1427.0,363.9 1426.0,361.7 1425.0,360.4 1424.0,360.0 1423.0,360.7 1422.0,358.8 1421.0,360.0 1420.0,363.0 1419.0,365.7 1418.0,366.3 1417.0,364.1 1416.0,363.7 1415.0,363.6 1414.0,363.2 1413.0,362.0 1412.0,361.4 1411.0,361.6 1410.0,360.9 1409.0,360.0 1408.0,358.8 1407.0,358.4 1406.0,358.5 1405.0,357.8 1404.0,357.6 1403.0,357.8 1402.0,356.0 1401.0,357.4 1400.0,358.1 1399.0,360.4 1398.0,359.5 1397.0,359.7 1396.0,358.3 1395.0,358.9 1394.0,359.6 1393.0,357.4 1392.0,354.1 1391.0,355.0 1390.0,355.7 1389.0,356.1 1388.0,356.0 1387.0,355.4 1386.0,354.7 1385.0,356.7 1384.0,355.0 1383.0,353.7 1382.0,353.7 1381.0,353.2 1380.0,351.7 1379.0,354.3 1378.0,355.4 1377.0,355.0 1376.0,353.2 1375.0,352.2 1374.0,352.4 1373.0,355.4 1372.0,356.4 1371.0,355.0 1370.0,354.2 1369.0,354.9 1368.0,354.9 1367.0,356.7 1366.0,362.7 1365.0,359.4 1364.0,358.8 1363.0,352.4 1362.0,358.4 1361.0,360.7 1360.0,358.7 1359.0,350.9 1358.0,350.0 1357.0,346.9 1356.0,347.7 1355.0,348.1 1354.0,348.5 1353.0,347.7 1352.0,357.2 1351.0,357.1 1350.0,360.3 1349.0,358.3 1348.0,348.9 1347.0,348.4 1346.0,348.6 1345.0,347.9 1344.0,347.7 1343.0,347.0 1342.0,348.2 1341.0,351.9 1340.0,351.5 1339.0,351.6 1338.0,351.2 1337.0,349.5 1336.0,350.5 1335.0,347.9 1334.0,347.8 1333.0,348.9 1332.0,348.9 1331.0,349.4 1330.0,350.4 1329.0,350.1 1328.0,353.6 1327.0,353.7 1326.0,354.8 1325.0,354.9 1324.0,351.5 1323.0,347.4 1322.0,346.2 1321.0,345.6 1320.0,346.8 1319.0,345.0 1318.0,344.4 1317.0,345.2 1316.0,346.6 1315.0,344.9 1314.0,344.8 1313.0,344.7 1312.0,345.1 1311.0,343.9 1310.0,344.9 1309.0,341.9 1308.0,343.9 1307.0,343.3 1306.0,340.9 1305.0,342.1 1304.0,342.4 1303.0,343.9 1302.0,345.1 1301.0,345.4 1300.0,345.0 1299.0,343.8 1298.0,343.3 1297.0,343.0 1296.0,345.3 1295.0,344.7 1294.0,343.3 1293.0,343.5 1292.0,344.7 1291.0,342.7 1290.0,343.6 1289.0,341.5 1288.0,341.4 1287.0,342.6 1286.0,342.6 1285.0,341.8 1284.0,342.8 1283.0,342.9 1282.0,344.1 1281.0,343.0 1280.0,343.4 1279.0,343.0 1278.0,341.7 1277.0,340.0 1276.0,336.8 1275.0,336.3 1274.0,337.2 1273.0,337.5 1272.0,337.1 1271.0,337.4 1270.0,338.0 1269.0,336.7 1268.0,338.9 1267.0,336.5 1266.0,336.6 1265.0,336.1 1264.0,334.8 1263.0,333.1 1262.0,333.0 1261.0,330.0 1260.0,329.2 1259.0,329.3 1258.0,330.3 1257.0,331.6 1256.0,330.7 1255.0,330.4 1254.0,331.6 1253.0,335.2 1252.0,335.0 1251.0,333.8 1250.0,333.4 1249.0,332.2 1248.0,333.5 1247.0,332.9 1246.0,334.2 1245.0,334.8 1244.0,338.2 1243.0,338.3 1242.0,337.6 1241.0,337.3 1240.0,338.1 1239.0,337.5 1238.0,337.2 1237.0,334.8 1236.0,334.8 1235.0,335.6 1234.0,336.2 1233.0,335.3 1232.0,335.3 1231.0,334.4 1230.0,332.7 1229.0,330.8 1228.0,331.5 1227.0,333.3 1226.0,334.7 1225.0,335.2 1224.0,335.7 1223.0,335.3 1222.0,335.8 1221.0,335.1 1220.0,333.1 1219.0,332.7 1218.0,332.8 1217.0,329.3 1216.0,329.2 1215.0,329.6 1214.0,327.9 1213.0,328.9 1212.0,327.5 1211.0,325.3 1210.0,327.3 1209.0,325.4 1208.0,325.1 1207.0,323.8 1206.0,326.5 1205.0,326.2 1204.0,327.2 1203.0,326.8 1202.0,326.6 1201.0,327.4 1200.0,327.0 1199.0,325.3 1198.0,326.3 1197.0,328.4 1196.0,327.3 1195.0,325.8 1194.0,324.3 1193.0,324.9 1192.0,324.4 1191.0,324.4 1190.0,324.8 1189.0,327.1 1188.0,326.1 1187.0,325.3 1186.0,325.5 1185.0,324.7 1184.0,325.0 1183.0,324.6 1182.0,323.5 1181.0,324.3 1180.0,325.7 1179.0,331.6 1178.0,331.0 1177.0,323.7 1176.0,321.9 1175.0,322.9 1174.0,321.2 1173.0,321.1 1172.0,320.6 1171.0,323.4 1170.0,322.4 1169.0,322.6 1168.0,319.8 1167.0,320.1 1166.0,320.3 1165.0,319.4 1164.0,319.6 1163.0,319.6 1162.0,318.7 1161.0,322.4 1160.0,322.7 1159.0,324.0 1158.0,323.5 1157.0,322.0 1156.0,321.5 1155.0,321.2 1154.0,318.5 1153.0,319.9 1152.0,319.2 1151.0,320.4 1150.0,321.3 1149.0,322.2 1148.0,323.5 1147.0,325.5 1146.0,320.8 1145.0,321.3 1144.0,320.3 1143.0,321.4 1142.0,322.5 1141.0,320.1 1140.0,319.7 1139.0,321.2 1138.0,318.9 1137.0,319.0 1136.0,318.8 1135.0,317.5 1134.0,317.6 1133.0,315.7 1132.0,316.1 1131.0,316.8 1130.0,314.6 1129.0,311.9 1128.0,312.4 1127.0,313.2 1126.0,314.0 1125.0,314.0 1124.0,313.2 1123.0,314.8 1122.0,316.5 1121.0,316.9 1120.0,317.5 1119.0,319.2 1118.0,318.1 1117.0,318.5 1116.0,318.2 1115.0,326.0 1114.0,326.9 1113.0,321.2 1112.0,316.7 1111.0,318.0 1110.0,316.7 1109.0,316.1 1108.0,314.6 1107.0,316.9 1106.0,317.1 1105.0,314.7 1104.0,314.4 1103.0,314.1 1102.0,315.0 1101.0,316.7 1100.0,313.3 1099.0,313.7 1098.0,313.0 1097.0,312.6 1096.0,314.4 1095.0,313.1 1094.0,312.9 1093.0,315.0 1092.0,314.3 1091.0,314.2 1090.0,315.0 1089.0,313.6 1088.0,313.4 1087.0,312.7 1086.0,313.8 1085.0,313.6 1084.0,314.9 1083.0,315.1 1082.0,315.9 1081.0,316.6 1080.0,316.7 1079.0,316.7 1078.0,315.8 1077.0,315.8 1076.0,314.3 1075.0,314.0 1074.0,314.0 1073.0,314.1 1072.0,312.5 1071.0,311.8 1070.0,312.6 1069.0,312.4 1068.0,311.9 1067.0,312.1 1066.0,311.3 1065.0,311.9 1064.0,309.8 1063.0,308.9 1062.0,308.2 1061.0,309.2 1060.0,308.4 1059.0,309.2 1058.0,310.7 1057.0,311.2 1056.0,308.2 1055.0,307.6 1054.0,308.7 1053.0,310.0 1052.0,308.5 1051.0,309.2 1050.0,309.3 1049.0,310.4 1048.0,311.8 1047.0,311.6 1046.0,309.7 1045.0,309.9 1044.0,308.3 1043.0,306.2 1042.0,305.7 1041.0,305.3 1040.0,305.7 1039.0,306.6 1038.0,304.1 1037.0,304.2 1036.0,303.9 1035.0,305.1 1034.0,303.2 1033.0,302.4 1032.0,302.9 1031.0,303.8 1030.0,305.1 1029.0,303.9 1028.0,303.6 1027.0,304.1 1026.0,304.8 1025.0,304.7 1024.0,302.7 1023.0,303.1 1022.0,303.8 1021.0,304.7 1020.0,304.0 1019.0,303.8 1018.0,305.4 1017.0,306.9 1016.0,305.1 1015.0,306.5 1014.0,306.7 1013.0,307.2 1012.0,307.7 1011.0,307.1 1010.0,305.1 1009.0,304.0 1008.0,302.7 1007.0,302.0 1006.0,301.7 1005.0,301.2 1004.0,300.8 1003.0,303.0 1002.0,304.1 1001.0,303.7 1000.0,305.9 999.0,304.8 998.0,304.7 997.0,302.2 996.0,302.6 995.0,302.3 994.0,303.1 993.0,303.4 992.0,303.1 991.0,304.4 990.0,303.3 989.0,303.2 988.0,301.9 987.0,301.3 986.0,301.2 985.0,300.9 984.0,297.6 983.0,296.2 982.0,298.2 981.0,298.6 980.0,299.1 979.0,299.5 978.0,298.7 977.0,301.3 976.0,302.7 975.0,301.7 974.0,301.2 973.0,300.2 972.0,299.7 971.0,298.6 970.0,299.7 969.0,298.9 968.0,299.9 967.0,297.1 966.0,296.5 965.0,297.0 964.0,297.1 963.0,295.8 962.0,294.9 961.0,294.6 960.0,294.6 959.0,293.1 958.0,292.5 957.0,295.5 956.0,297.0 955.0,298.2 954.0,298.7 953.0,298.2 952.0,297.6 951.0,297.7 950.0,298.6 949.0,297.5 948.0,295.7 947.0,293.6 946.0,291.7 945.0,294.2 944.0,291.8 943.0,292.1 942.0,290.7 941.0,291.1 940.0,291.8 939.0,292.3 938.0,293.1 937.0,293.5 936.0,292.2 935.0,292.3 934.0,294.4 933.0,291.5 932.0,291.7 931.0,290.3 930.0,290.3 929.0,289.9 928.0,289.4 927.0,285.6 926.0,286.0 925.0,283.5 924.0,281.1 923.0,281.9 922.0,284.1 921.0,285.5 920.0,294.4 919.0,296.2 918.0,291.4 917.0,293.2 916.0,292.1 915.0,289.9 914.0,290.1 913.0,288.5 912.0,287.3 911.0,285.7 910.0,283.9 909.0,283.7 908.0,283.8 907.0,285.2 906.0,286.1 905.0,286.7 904.0,286.6 903.0,286.1 902.0,285.5 901.0,285.1 900.0,283.1 899.0,283.6 898.0,283.0 897.0,281.2 896.0,281.2 895.0,282.3 894.0,282.3 893.0,291.0 892.0,292.5 891.0,283.2 890.0,284.7 889.0,284.6 888.0,285.3 887.0,285.6 886.0,285.5 885.0,284.8 884.0,284.5 883.0,285.1 882.0,286.6 881.0,286.9 880.0,291.7 879.0,287.9 878.0,287.1 877.0,281.0 876.0,278.6 875.0,278.4 874.0,277.1 873.0,279.0 872.0,279.4 871.0,283.5 870.0,285.4 869.0,286.2 868.0,285.7 867.0,284.2 866.0,280.9 865.0,280.0 864.0,278.8 863.0,277.7 862.0,277.5 861.0,277.1 860.0,279.5 859.0,279.5 858.0,278.3 857.0,280.6 856.0,280.3 855.0,281.9 854.0,283.1 853.0,276.1 852.0,276.6 851.0,277.2 850.0,278.8 849.0,285.6 848.0,287.6 847.0,277.1 846.0,277.0 845.0,275.9 844.0,276.0 843.0,277.6 842.0,279.9 841.0,277.3 840.0,277.5 839.0,279.5 838.0,278.6 837.0,278.5 836.0,275.5 835.0,276.6 834.0,276.6 833.0,275.7 832.0,275.5 831.0,274.8 830.0,276.7 829.0,275.2 828.0,274.6 827.0,273.5 826.0,272.7 825.0,272.6 824.0,273.8 823.0,273.7 822.0,273.7 821.0,272.0 820.0,270.1 819.0,269.4 818.0,273.5 817.0,275.5 816.0,275.0 815.0,272.9 814.0,271.7 813.0,272.5 812.0,272.2 811.0,270.2 810.0,270.8 809.0,274.3 808.0,273.6 807.0,273.4 806.0,271.8 805.0,271.7 804.0,279.8 803.0,279.1 802.0,277.5 801.0,268.8 800.0,268.9 799.0,269.8 798.0,271.0 797.0,271.1 796.0,274.3 795.0,274.5 794.0,274.5 793.0,275.9 792.0,274.4 791.0,273.0 790.0,268.7 789.0,264.2 788.0,266.3 787.0,266.4 786.0,266.7 785.0,265.1 784.0,265.3 783.0,264.5 782.0,265.6 781.0,263.3 780.0,270.1 779.0,270.1 778.0,267.7 777.0,270.0 776.0,269.9 775.0,267.9 774.0,267.9 773.0,266.6 772.0,266.0 771.0,266.1 770.0,264.7 769.0,266.6 768.0,267.6 767.0,267.4 766.0,266.3 765.0,266.3 764.0,264.7 763.0,267.3 762.0,265.5 761.0,266.0 760.0,266.2 759.0,268.0 758.0,267.1 757.0,266.2 756.0,263.9 755.0,262.3 754.0,263.6 753.0,262.6 752.0,264.7 751.0,263.9 750.0,265.2 749.0,265.9 748.0,266.4 747.0,265.3 746.0,268.8 745.0,267.7 744.0,267.5 743.0,264.2 742.0,263.6 741.0,262.3 740.0,263.9 739.0,270.5 738.0,273.0 737.0,271.1 736.0,270.0 735.0,262.5 734.0,264.2 733.0,264.9 732.0,264.9 731.0,260.4 730.0,260.0 729.0,260.7 728.0,261.9 727.0,261.6 726.0,261.7 725.0,261.9 724.0,262.0 723.0,261.6 722.0,259.6 721.0,267.1 720.0,266.8 719.0,259.5 718.0,261.0 717.0,260.1 716.0,259.3 715.0,259.7 714.0,260.5 713.0,261.3 712.0,260.8 711.0,260.1 710.0,260.9 709.0,259.5 708.0,259.1 707.0,261.1 706.0,262.1 705.0,262.5 704.0,262.2 703.0,261.1 702.0,263.3 701.0,260.4 700.0,259.8 699.0,258.3 698.0,256.6 697.0,257.1 696.0,258.9 695.0,258.5 694.0,260.0 693.0,260.1 692.0,262.3 691.0,261.5 690.0,261.4 689.0,258.6 688.0,257.9 687.0,257.8 686.0,266.3 685.0,266.3 684.0,262.5 683.0,262.2 682.0,260.5 681.0,262.1 680.0,264.8 679.0,265.0 678.0,265.2 677.0,262.4 676.0,260.5 675.0,262.3 674.0,262.4 673.0,263.5 672.0,262.7 671.0,263.5 670.0,264.0 669.0,263.9 668.0,263.8 667.0,262.9 666.0,263.2 665.0,262.9 664.0,260.5 663.0,260.0 662.0,257.9 661.0,258.1 660.0,259.1 659.0,258.5 658.0,259.2 657.0,259.4 656.0,257.7 655.0,254.9 654.0,255.1 653.0,255.5 652.0,255.4 651.0,254.6 650.0,254.1 649.0,254.9 648.0,259.3 647.0,261.3 646.0,261.8 645.0,260.7 644.0,261.1 643.0,263.4 642.0,262.6 641.0,260.2 640.0,257.7 639.0,255.9 638.0,257.4 637.0,255.3 636.0,255.2 635.0,255.0 634.0,255.9 633.0,256.4 632.0,258.0 631.0,257.3 630.0,257.9 629.0,259.3 628.0,260.8 627.0,258.3 626.0,256.9 625.0,256.2 624.0,257.3 623.0,265.1 622.0,267.2 621.0,258.0 620.0,259.0 619.0,259.0 618.0,257.5 617.0,256.5 616.0,254.9 615.0,255.3 614.0,256.4 613.0,258.7 612.0,256.0 611.0,257.4 610.0,258.8 609.0,257.3 608.0,256.9 607.0,253.2 606.0,252.7 605.0,254.7 604.0,254.7 603.0,253.5 602.0,254.4 601.0,254.4 600.0,252.3 599.0,254.1 598.0,265.0 597.0,266.5 596.0,256.6 595.0,253.4 594.0,253.4 593.0,255.2 592.0,255.1 591.0,256.4 590.0,252.9 589.0,251.6 588.0,247.0 587.0,247.5 586.0,246.5 585.0,246.9 584.0,244.6 583.0,246.4 582.0,246.0 581.0,249.5 580.0,246.5 579.0,247.0 578.0,245.5 577.0,246.9 576.0,245.5 575.0,244.5 574.0,245.4 573.0,246.5 572.0,246.0 571.0,246.4 570.0,246.8 569.0,248.1 568.0,247.2 567.0,246.7 566.0,242.5 565.0,242.8 564.0,241.3 563.0,240.9 562.0,239.7 561.0,240.1 560.0,240.7 559.0,242.9 558.0,245.2 557.0,243.6 556.0,247.8 555.0,246.8 554.0,246.7 553.0,245.8 552.0,246.6 551.0,243.6 550.0,244.5 549.0,241.6 548.0,242.2 547.0,242.3 546.0,242.8 545.0,243.6 544.0,243.6 543.0,243.2 542.0,240.9 541.0,242.6 540.0,240.8 539.0,241.1 538.0,236.4 537.0,234.2 536.0,231.7 535.0,233.0 534.0,232.0 533.0,236.3 532.0,246.9 531.0,247.5 530.0,242.0 529.0,243.4 528.0,243.4 527.0,238.2 526.0,238.5 525.0,238.2 524.0,237.0 523.0,235.6 522.0,236.3 521.0,238.8 520.0,238.7 519.0,236.6 518.0,238.9 517.0,239.2 516.0,241.1 515.0,238.6 514.0,238.4 513.0,246.0 512.0,248.3 511.0,247.0 510.0,237.4 509.0,239.5 508.0,238.4 507.0,240.1 506.0,242.0 505.0,238.5 504.0,242.0 503.0,240.6 502.0,239.6 501.0,238.9 500.0,236.8 499.0,237.4 498.0,239.0 497.0,238.0 496.0,238.5 495.0,239.3 494.0,240.6 493.0,239.4 492.0,238.9 491.0,239.5 490.0,235.4 489.0,234.5 488.0,233.7 487.0,233.5 486.0,236.1 485.0,236.0 484.0,234.5 483.0,246.2 482.0,247.3 481.0,248.5 480.0,248.8 479.0,240.0 478.0,236.6 477.0,237.9 476.0,236.1 475.0,237.7 474.0,236.4 473.0,236.2 472.0,234.0 471.0,236.4 470.0,236.3 469.0,241.3 468.0,243.3 467.0,241.5 466.0,235.8 465.0,236.0 464.0,233.2 463.0,229.2 462.0,230.3 461.0,228.1 460.0,230.6 459.0,227.5 458.0,223.5 457.0,224.4 456.0,223.9 455.0,222.5 454.0,223.3 453.0,225.1 452.0,227.5 451.0,232.6 450.0,232.0 449.0,231.4 448.0,229.9 447.0,233.2 446.0,232.1 445.0,233.0 444.0,229.4 443.0,227.4 442.0,229.0 441.0,230.9 440.0,231.3 439.0,231.7 438.0,231.7 437.0,233.4 436.0,229.8 435.0,226.2 434.0,225.2 433.0,225.8 432.0,227.3 431.0,226.7 430.0,225.1 429.0,224.9 428.0,224.6 427.0,224.0 426.0,222.9 425.0,219.1 424.0,219.4 423.0,220.2 422.0,217.6 421.0,218.3 420.0,219.9 419.0,221.9 418.0,220.9 417.0,220.4 416.0,230.4 415.0,234.3 414.0,236.4 413.0,225.5 412.0,224.3 411.0,236.9 410.0,237.6 409.0,240.0 408.0,240.3 407.0,233.3 406.0,230.8 405.0,232.3 404.0,232.0 403.0,231.6 402.0,233.4 401.0,228.8 400.0,229.1 399.0,229.4 398.0,229.8 397.0,227.0 396.0,225.9 395.0,224.5 394.0,229.5 393.0,244.8 392.0,243.5 391.0,245.5 390.0,244.7 389.0,229.1 388.0,228.3 387.0,225.2 386.0,224.5 385.0,225.7 384.0,225.0 383.0,226.6 382.0,227.8 381.0,227.0 380.0,228.2 379.0,229.6 378.0,227.5 377.0,232.0 376.0,241.7 375.0,242.2 374.0,241.3 373.0,240.2 372.0,228.3 371.0,229.3 370.0,223.4 369.0,220.7 368.0,214.9 367.0,214.3 366.0,214.9 365.0,214.9 364.0,215.6 363.0,216.9 362.0,216.1 361.0,216.7 360.0,215.4 359.0,213.2 358.0,216.1 357.0,217.7 356.0,221.5 355.0,222.5 354.0,222.3 353.0,221.7 352.0,226.7 351.0,225.8 350.0,227.1 349.0,231.2 348.0,230.4 347.0,229.9 346.0,224.3 345.0,226.2 344.0,227.4 343.0,229.6 342.0,226.2 341.0,224.4 340.0,224.9 339.0,230.4 338.0,226.8 337.0,229.5 336.0,230.3 335.0,230.9 334.0,228.9 333.0,228.8 332.0,229.9 331.0,233.8 330.0,236.1 329.0,235.0 328.0,231.3 327.0,230.9 326.0,229.3 325.0,232.4 324.0,234.2 323.0,232.7 322.0,232.8 321.0,232.9 320.0,235.5 319.0,242.7 318.0,242.1 317.0,235.8 316.0,240.1 315.0,242.3 314.0,241.2 313.0,237.8 312.0,235.6 311.0,238.7 310.0,237.0 309.0,237.4 308.0,234.8 307.0,235.0 306.0,232.5 305.0,230.4 304.0,230.7 303.0,233.9 302.0,234.1 301.0,236.7 300.0,238.1 299.0,243.8 298.0,242.5 297.0,242.8 296.0,240.4 295.0,241.5 294.0,236.5 293.0,237.1 292.0,241.0 291.0,244.7 290.0,268.5 289.0,270.2 288.0,258.4 287.0,266.3 286.0,270.9 285.0,271.9 284.0,273.8 283.0,272.2 282.0,278.3 281.0,279.2 280.0,279.6 279.0,282.4 278.0,284.7 277.0,287.3 276.0,287.3 275.0,291.3 274.0,296.5 273.0,298.3 272.0,299.1 271.0,298.9 270.0,300.9 269.0,300.8 268.0,303.9 267.0,307.1 266.0,308.8 265.0,311.1 264.0,313.7 263.0,315.8 262.0,322.9 261.0,328.2 260.0,331.1 259.0,335.3 258.0,339.2 257.0,342.2 256.0,344.5 255.0,348.0 254.0,356.9 253.0,363.7 252.0,372.2 251.0,374.8 250.0,383.3 249.0,395.5 248.0,403.1 247.0,413.3 246.0,421.6 245.0,435.5 244.0,450.5 243.0,465.6 242.0,479.2Z" fill="#008000" stroke="#008000" stroke-width="1.2" stroke-linejoin="round" shape-rendering="crispEdges"/>
<path d="M242.0,266.0 243.0,262.2 244.0,256.3 245.0,252.2 246.0,244.5 247.0,235.1 248.0,232.1 249.0,228.0 250.0,221.2 251.0,221.1 252.0,217.4 253.0,212.9 254.0,209.2 255.0,203.7 256.0,201.6 257.0,198.7 258.0,195.8 259.0,194.1 260.0,199.6 261.0,200.4 262.0,199.6 263.0,197.8 264.0,194.9 265.0,192.4 266.0,195.6 267.0,191.4 268.0,189.9 269.0,185.4 270.0,184.5 271.0,184.2 272.0,180.3 273.0,176.6 274.0,174.0 275.0,171.0 276.0,174.4 277.0,173.6 278.0,173.8 279.0,170.9 280.0,169.8 281.0,170.4 282.0,169.6 283.0,169.0 284.0,166.4 285.0,168.2 286.0,167.6 287.0,167.8 288.0,162.3 289.0,162.0 290.0,157.8 291.0,158.3 292.0,160.0 293.0,159.9 294.0,161.5 295.0,161.4 296.0,163.3 297.0,163.4 298.0,161.3 299.0,162.5 300.0,162.1 301.0,166.6 302.0,166.4 303.0,167.3 304.0,164.3 305.0,165.8 306.0,165.2 307.0,165.4 308.0,163.7 309.0,163.1 310.0,164.2 311.0,164.2 312.0,161.3 313.0,160.7 314.0,157.3 315.0,154.1 316.0,155.1 317.0,154.1 318.0,154.5 319.0,156.0 320.0,155.0 321.0,154.6 322.0,149.0 323.0,150.0 324.0,146.9 325.0,147.5 326.0,148.2 327.0,146.3 328.0,147.7 329.0,150.4 330.0,149.8 331.0,150.3 332.0,152.1 333.0,149.5 334.0,152.0 335.0,151.8 336.0,152.1 337.0,150.0 338.0,146.8 339.0,147.0 340.0,147.8 341.0,146.3 342.0,146.6 343.0,150.3 344.0,149.7 345.0,150.8 346.0,147.1 347.0,146.5 348.0,147.2 349.0,144.4 350.0,144.8 351.0,145.8 352.0,149.3 353.0,146.1 354.0,144.3 355.0,140.6 356.0,143.1 357.0,145.2 358.0,142.2 359.0,137.8 360.0,148.6 361.0,149.7 362.0,148.5 363.0,148.3 364.0,142.9 365.0,139.7 366.0,143.9 367.0,142.9 368.0,145.1 369.0,144.4 370.0,143.3 371.0,144.1 372.0,148.0 373.0,142.0 374.0,143.3 375.0,145.1 376.0,145.4 377.0,147.0 378.0,143.8 379.0,144.6 380.0,149.5 381.0,151.7 382.0,154.4 383.0,155.6 384.0,155.6 385.0,149.1 386.0,150.8 387.0,149.7 388.0,156.2 389.0,154.3 390.0,151.5 391.0,144.3 392.0,142.1 393.0,141.5 394.0,143.3 395.0,149.5 396.0,152.7 397.0,153.1 398.0,152.1 399.0,152.6 400.0,154.3 401.0,153.5 402.0,153.9 403.0,155.4 404.0,154.3 405.0,151.8 406.0,153.3 407.0,155.0 408.0,156.9 409.0,155.7 410.0,157.2 411.0,158.7 412.0,161.1 413.0,159.1 414.0,159.5 415.0,159.3 416.0,159.4 417.0,160.9 418.0,161.4 419.0,162.3 420.0,153.8 421.0,153.5 422.0,155.5 423.0,154.3 424.0,163.7 425.0,161.4 426.0,161.1 427.0,155.9 428.0,154.2 429.0,150.3 430.0,152.3 431.0,155.8 432.0,158.3 433.0,161.3 434.0,161.6 435.0,162.3 436.0,163.7 437.0,165.0 438.0,163.9 439.0,167.6 440.0,171.9 441.0,172.8 442.0,172.5 443.0,170.8 444.0,168.9 445.0,166.0 446.0,165.9 447.0,164.6 448.0,165.8 449.0,165.5 450.0,165.6 451.0,168.6 452.0,170.1 453.0,169.6 454.0,169.1 455.0,169.1 456.0,172.1 457.0,172.1 458.0,171.3 459.0,167.9 460.0,171.5 461.0,170.7 462.0,174.4 463.0,171.2 464.0,169.4 465.0,168.4 466.0,171.7 467.0,173.2 468.0,172.3 469.0,169.6 470.0,170.0 471.0,168.2 472.0,169.4 473.0,166.7 474.0,158.1 475.0,158.9 476.0,158.7 477.0,168.9 478.0,169.7 479.0,166.3 480.0,169.1 481.0,170.1 482.0,172.1 483.0,170.7 484.0,170.2 485.0,172.5 486.0,170.5 487.0,169.3 488.0,165.9 489.0,167.5 490.0,170.5 491.0,175.0 492.0,173.6 493.0,175.4 494.0,174.6 495.0,177.0 496.0,176.5 497.0,174.9 498.0,174.7 499.0,175.6 500.0,177.9 501.0,176.8 502.0,177.0 503.0,176.4 504.0,177.9 505.0,176.8 506.0,176.9 507.0,176.2 508.0,177.0 509.0,180.3 510.0,182.0 511.0,179.8 512.0,177.4 513.0,176.5 514.0,176.1 515.0,174.5 516.0,173.0 517.0,173.4 518.0,175.8 519.0,178.9 520.0,180.4 521.0,180.5 522.0,179.9 523.0,180.7 524.0,180.3 525.0,182.0 526.0,183.6 527.0,177.4 528.0,178.9 529.0,179.3 530.0,176.3 531.0,181.4 532.0,179.0 533.0,178.0 534.0,177.6 535.0,185.2 536.0,184.4 537.0,186.9 538.0,185.7 539.0,185.3 540.0,185.9 541.0,188.0 542.0,186.1 543.0,187.0 544.0,188.1 545.0,189.7 546.0,190.5 547.0,189.0 548.0,191.4 549.0,192.1 550.0,193.9 551.0,192.3 552.0,191.1 553.0,191.2 554.0,192.4 555.0,190.0 556.0,191.2 557.0,190.7 558.0,192.9 559.0,195.4 560.0,191.7 561.0,193.6 562.0,193.3 563.0,193.8 564.0,192.9 565.0,189.2 566.0,191.0 567.0,191.0 568.0,191.1 569.0,189.4 570.0,189.0 571.0,190.2 572.0,192.0 573.0,190.5 574.0,193.6 575.0,194.6 576.0,195.7 577.0,194.2 578.0,196.5 579.0,197.8 580.0,198.8 581.0,198.2 582.0,197.4 583.0,197.8 584.0,197.3 585.0,195.9 586.0,198.6 587.0,196.6 588.0,196.7 589.0,194.8 590.0,194.0 591.0,192.8 592.0,192.5 593.0,189.0 594.0,191.6 595.0,192.4 596.0,193.2 597.0,190.7 598.0,193.7 599.0,192.1 600.0,194.0 601.0,193.6 602.0,192.6 603.0,193.5 604.0,196.8 605.0,195.5 606.0,195.4 607.0,195.3 608.0,196.2 609.0,199.8 610.0,201.5 611.0,198.4 612.0,197.8 613.0,194.3 614.0,193.0 615.0,191.2 616.0,193.3 617.0,194.7 618.0,197.6 619.0,200.3 620.0,203.2 621.0,206.4 622.0,203.2 623.0,199.9 624.0,198.3 625.0,199.7 626.0,199.2 627.0,199.8 628.0,201.0 629.0,204.7 630.0,205.9 631.0,206.4 632.0,203.0 633.0,204.0 634.0,204.6 635.0,204.0 636.0,202.0 637.0,203.6 638.0,203.8 639.0,207.8 640.0,209.8 641.0,210.6 642.0,208.9 643.0,212.0 644.0,210.4 645.0,212.3 646.0,211.1 647.0,209.6 648.0,210.4 649.0,213.6 650.0,210.7 651.0,212.9 652.0,210.8 653.0,210.9 654.0,211.4 655.0,211.1 656.0,210.8 657.0,208.8 658.0,207.8 659.0,207.7 660.0,209.7 661.0,210.4 662.0,209.9 663.0,211.5 664.0,210.9 665.0,212.9 666.0,212.3 667.0,211.6 668.0,211.0 669.0,212.1 670.0,211.0 671.0,212.3 672.0,212.0 673.0,211.9 674.0,213.6 675.0,215.8 676.0,215.1 677.0,215.9 678.0,217.6 679.0,218.3 680.0,219.5 681.0,221.1 682.0,220.3 683.0,221.4 684.0,220.4 685.0,220.3 686.0,214.3 687.0,215.7 688.0,218.7 689.0,218.8 690.0,219.9 691.0,220.4 692.0,219.6 693.0,219.2 694.0,217.3 695.0,211.4 696.0,209.2 697.0,215.8 698.0,217.2 699.0,218.4 700.0,218.1 701.0,217.8 702.0,218.3 703.0,219.6 704.0,220.0 705.0,220.2 706.0,218.5 707.0,219.5 708.0,222.6 709.0,222.8 710.0,224.0 711.0,224.1 712.0,225.1 713.0,226.3 714.0,227.6 715.0,224.7 716.0,223.4 717.0,223.1 718.0,223.9 719.0,223.7 720.0,222.7 721.0,223.4 722.0,222.1 723.0,223.5 724.0,222.3 725.0,222.2 726.0,224.1 727.0,225.1 728.0,227.4 729.0,232.0 730.0,231.7 731.0,231.5 732.0,232.8 733.0,233.7 734.0,234.2 735.0,234.0 736.0,230.7 737.0,231.6 738.0,231.0 739.0,229.6 740.0,228.4 741.0,228.7 742.0,227.7 743.0,227.9 744.0,225.0 745.0,225.2 746.0,226.7 747.0,229.4 748.0,228.0 749.0,228.2 750.0,228.3 751.0,230.8 752.0,231.1 753.0,230.1 754.0,230.0 755.0,229.3 756.0,231.5 757.0,230.6 758.0,231.5 759.0,229.7 760.0,230.5 761.0,231.3 762.0,232.5 763.0,232.5 764.0,232.3 765.0,232.2 766.0,233.9 767.0,227.6 768.0,228.1 769.0,229.0 770.0,228.5 771.0,233.1 772.0,233.2 773.0,233.5 774.0,235.6 775.0,234.8 776.0,233.2 777.0,236.4 778.0,236.0 779.0,235.4 780.0,235.2 781.0,234.3 782.0,235.7 783.0,234.6 784.0,234.0 785.0,235.7 786.0,237.2 787.0,234.1 788.0,235.4 789.0,233.7 790.0,235.9 791.0,234.8 792.0,236.6 793.0,236.5 794.0,239.0 795.0,236.9 796.0,237.3 797.0,235.7 798.0,236.0 799.0,234.5 800.0,235.7 801.0,234.9 802.0,235.8 803.0,236.3 804.0,238.0 805.0,241.0 806.0,243.2 807.0,239.8 808.0,238.3 809.0,239.3 810.0,240.4 811.0,238.0 812.0,236.6 813.0,234.9 814.0,233.9 815.0,235.5 816.0,235.2 817.0,236.0 818.0,238.2 819.0,238.4 820.0,238.2 821.0,239.8 822.0,238.3 823.0,238.9 824.0,238.5 825.0,237.8 826.0,237.2 827.0,237.3 828.0,236.5 829.0,238.8 830.0,233.0 831.0,234.5 832.0,240.4 833.0,240.3 834.0,242.6 835.0,241.3 836.0,243.5 837.0,245.0 838.0,244.0 839.0,243.2 840.0,243.5 841.0,243.5 842.0,244.9 843.0,243.1 844.0,243.5 845.0,243.4 846.0,244.9 847.0,244.6 848.0,245.1 849.0,244.2 850.0,242.1 851.0,242.7 852.0,241.9 853.0,243.3 854.0,245.6 855.0,245.0 856.0,246.6 857.0,246.4 858.0,248.6 859.0,250.2 860.0,250.2 861.0,249.8 862.0,249.9 863.0,248.3 864.0,248.6 865.0,249.3 866.0,250.5 867.0,253.3 868.0,254.5 869.0,253.3 870.0,251.9 871.0,250.8 872.0,248.3 873.0,247.0 874.0,241.8 875.0,241.6 876.0,241.2 877.0,245.9 878.0,246.2 879.0,246.1 880.0,248.1 881.0,248.6 882.0,249.9 883.0,251.5 884.0,252.1 885.0,253.1 886.0,253.1 887.0,255.3 888.0,253.8 889.0,253.5 890.0,252.5 891.0,251.4 892.0,251.3 893.0,250.4 894.0,249.7 895.0,251.9 896.0,249.4 897.0,249.5 898.0,251.8 899.0,254.0 900.0,257.4 901.0,256.6 902.0,258.6 903.0,257.4 904.0,254.8 905.0,252.1 906.0,254.0 907.0,253.3 908.0,255.2 909.0,251.5 910.0,252.3 911.0,252.3 912.0,253.5 913.0,246.6 914.0,250.2 915.0,250.2 916.0,257.4 917.0,258.1 918.0,258.8 919.0,260.3 920.0,260.3 921.0,260.2 922.0,260.0 923.0,254.0 924.0,254.1 925.0,251.0 926.0,252.8 927.0,255.8 928.0,257.4 929.0,257.3 930.0,258.0 931.0,257.5 932.0,260.1 933.0,258.8 934.0,261.2 935.0,260.1 936.0,261.2 937.0,263.1 938.0,262.5 939.0,259.3 940.0,260.4 941.0,261.0 942.0,262.1 943.0,261.5 944.0,262.3 945.0,264.6 946.0,265.5 947.0,264.8 948.0,263.4 949.0,263.0 950.0,265.2 951.0,264.3 952.0,263.9 953.0,262.8 954.0,260.0 955.0,259.8 956.0,261.1 957.0,261.5 958.0,261.6 959.0,262.3 960.0,260.5 961.0,262.1 962.0,262.9 963.0,261.7 964.0,263.3 965.0,262.8 966.0,264.2 967.0,264.1 968.0,265.0 969.0,265.0 970.0,266.3 971.0,265.2 972.0,265.9 973.0,265.1 974.0,263.6 975.0,262.5 976.0,262.4 977.0,264.7 978.0,264.2 979.0,266.7 980.0,267.9 981.0,268.9 982.0,269.6 983.0,269.0 984.0,269.0 985.0,261.5 986.0,260.7 987.0,259.6 988.0,266.9 989.0,269.3 990.0,268.8 991.0,270.3 992.0,270.4 993.0,269.7 994.0,271.2 995.0,270.0 996.0,270.9 997.0,272.0 998.0,271.6 999.0,272.3 1000.0,268.9 1001.0,268.3 1002.0,268.6 1003.0,266.9 1004.0,273.4 1005.0,275.1 1006.0,273.3 1007.0,272.0 1008.0,272.9 1009.0,274.1 1010.0,275.6 1011.0,273.7 1012.0,273.3 1013.0,272.8 1014.0,273.7 1015.0,274.0 1016.0,274.2 1017.0,274.6 1018.0,276.5 1019.0,277.0 1020.0,277.3 1021.0,277.0 1022.0,274.6 1023.0,272.5 1024.0,272.4 1025.0,271.1 1026.0,271.6 1027.0,271.8 1028.0,275.1 1029.0,276.7 1030.0,278.6 1031.0,277.4 1032.0,279.6 1033.0,280.3 1034.0,279.6 1035.0,279.1 1036.0,280.4 1037.0,280.3 1038.0,280.5 1039.0,279.4 1040.0,278.6 1041.0,278.0 1042.0,279.0 1043.0,278.9 1044.0,279.7 1045.0,279.6 1046.0,279.7 1047.0,279.9 1048.0,279.5 1049.0,279.6 1050.0,282.1 1051.0,282.2 1052.0,280.7 1053.0,279.1 1054.0,281.4 1055.0,281.6 1056.0,284.4 1057.0,282.1 1058.0,281.1 1059.0,283.0 1060.0,282.2 1061.0,281.6 1062.0,280.6 1063.0,280.9 1064.0,282.3 1065.0,283.7 1066.0,282.8 1067.0,284.2 1068.0,285.5 1069.0,285.5 1070.0,284.3 1071.0,284.7 1072.0,284.8 1073.0,284.1 1074.0,285.8 1075.0,286.1 1076.0,288.4 1077.0,289.7 1078.0,290.0 1079.0,291.1 1080.0,288.9 1081.0,287.2 1082.0,288.3 1083.0,289.4 1084.0,288.8 1085.0,288.1 1086.0,288.2 1087.0,288.5 1088.0,289.6 1089.0,288.7 1090.0,287.6 1091.0,288.6 1092.0,288.4 1093.0,287.6 1094.0,287.7 1095.0,289.8 1096.0,292.5 1097.0,293.7 1098.0,294.1 1099.0,293.9 1100.0,292.4 1101.0,291.2 1102.0,289.8 1103.0,287.0 1104.0,287.2 1105.0,289.1 1106.0,290.0 1107.0,291.7 1108.0,293.1 1109.0,292.0 1110.0,295.2 1111.0,296.1 1112.0,296.2 1113.0,296.1 1114.0,295.8 1115.0,295.0 1116.0,292.5 1117.0,291.6 1118.0,291.3 1119.0,293.4 1120.0,295.9 1121.0,297.4 1122.0,296.2 1123.0,298.4 1124.0,298.7 1125.0,298.9 1126.0,300.1 1127.0,298.1 1128.0,297.1 1129.0,299.2 1130.0,299.9 1131.0,296.5 1132.0,296.1 1133.0,296.2 1134.0,295.4 1135.0,300.7 1136.0,298.3 1137.0,297.2 1138.0,297.4 1139.0,300.2 1140.0,302.6 1141.0,304.3 1142.0,302.7 1143.0,301.5 1144.0,304.2 1145.0,304.9 1146.0,305.4 1147.0,302.9 1148.0,303.4 1149.0,303.9 1150.0,306.1 1151.0,304.0 1152.0,305.5 1153.0,306.0 1154.0,305.0 1155.0,303.4 1156.0,303.3 1157.0,301.6 1158.0,302.0 1159.0,303.8 1160.0,302.3 1161.0,303.9 1162.0,304.6 1163.0,304.9 1164.0,306.7 1165.0,307.6 1166.0,306.6 1167.0,308.0 1168.0,306.3 1169.0,306.8 1170.0,307.0 1171.0,306.4 1172.0,306.9 1173.0,310.2 1174.0,310.8 1175.0,311.8 1176.0,312.8 1177.0,313.3 1178.0,314.0 1179.0,315.3 1180.0,313.4 1181.0,315.6 1182.0,317.7 1183.0,318.5 1184.0,319.2 1185.0,320.2 1186.0,319.6 1187.0,317.5 1188.0,317.9 1189.0,317.0 1190.0,316.0 1191.0,317.0 1192.0,316.5 1193.0,314.8 1194.0,316.4 1195.0,314.2 1196.0,314.3 1197.0,316.2 1198.0,308.9 1199.0,309.4 1200.0,310.9 1201.0,315.5 1202.0,313.8 1203.0,315.0 1204.0,313.7 1205.0,316.1 1206.0,313.9 1207.0,315.0 1208.0,314.4 1209.0,316.2 1210.0,315.9 1211.0,317.3 1212.0,317.6 1213.0,317.9 1214.0,315.0 1215.0,315.3 1216.0,316.1 1217.0,316.5 1218.0,316.8 1219.0,318.2 1220.0,318.9 1221.0,320.6 1222.0,318.9 1223.0,319.5 1224.0,319.0 1225.0,319.6 1226.0,317.2 1227.0,318.2 1228.0,318.5 1229.0,317.5 1230.0,317.0 1231.0,318.4 1232.0,320.4 1233.0,321.7 1234.0,320.8 1235.0,322.6 1236.0,320.7 1237.0,321.1 1238.0,319.6 1239.0,321.3 1240.0,321.4 1241.0,321.3 1242.0,320.0 1243.0,323.2 1244.0,326.1 1245.0,328.1 1246.0,326.8 1247.0,325.0 1248.0,324.6 1249.0,326.5 1250.0,325.2 1251.0,324.9 1252.0,324.5 1253.0,325.0 1254.0,326.4 1255.0,327.5 1256.0,328.4 1257.0,329.6 1258.0,330.3 1259.0,330.6 1260.0,331.1 1261.0,329.3 1262.0,328.3 1263.0,328.3 1264.0,329.5 1265.0,329.3 1266.0,330.7 1267.0,334.0 1268.0,335.1 1269.0,336.9 1270.0,335.3 1271.0,335.8 1272.0,336.6 1273.0,336.6 1274.0,337.3 1275.0,336.7 1276.0,335.5 1277.0,334.8 1278.0,334.3 1279.0,334.7 1280.0,334.4 1281.0,332.2 1282.0,331.0 1283.0,330.5 1284.0,329.2 1285.0,332.2 1286.0,331.9 1287.0,333.0 1288.0,334.9 1289.0,336.0 1290.0,335.8 1291.0,335.5 1292.0,333.3 1293.0,333.9 1294.0,334.5 1295.0,335.3 1296.0,334.4 1297.0,334.5 1298.0,329.5 1299.0,330.7 1300.0,331.1 1301.0,332.2 1302.0,337.3 1303.0,339.6 1304.0,339.7 1305.0,340.2 1306.0,340.1 1307.0,342.3 1308.0,342.5 1309.0,341.0 1310.0,340.8 1311.0,342.9 1312.0,342.3 1313.0,341.9 1314.0,342.9 1315.0,343.5 1316.0,344.8 1317.0,344.1 1318.0,344.1 1319.0,346.0 1320.0,345.7 1321.0,343.6 1322.0,342.2 1323.0,342.1 1324.0,342.7 1325.0,343.0 1326.0,344.0 1327.0,345.2 1328.0,347.9 1329.0,350.7 1330.0,350.9 1331.0,349.3 1332.0,347.9 1333.0,347.3 1334.0,347.9 1335.0,347.2 1336.0,346.0 1337.0,347.9 1338.0,347.9 1339.0,348.9 1340.0,346.0 1341.0,347.0 1342.0,348.4 1343.0,348.6 1344.0,350.6 1345.0,352.0 1346.0,353.6 1347.0,355.0 1348.0,354.1 1349.0,355.9 1350.0,356.2 1351.0,356.2 1352.0,356.1 1353.0,357.1 1354.0,355.9 1355.0,356.6 1356.0,358.0 1357.0,357.4 1358.0,356.3 1359.0,355.9 1360.0,355.6 1361.0,356.7 1362.0,358.4 1363.0,357.4 1364.0,360.3 1365.0,361.6 1366.0,361.9 1367.0,362.5 1368.0,364.9 1369.0,363.8 1370.0,363.3 1371.0,364.3 1372.0,364.3 1373.0,364.5 1374.0,363.3 1375.0,362.2 1376.0,363.0 1377.0,363.7 1378.0,363.7 1379.0,362.8 1380.0,364.3 1381.0,366.4 1382.0,366.4 1383.0,367.0 1384.0,367.1 1385.0,365.9 1386.0,367.8 1387.0,367.0 1388.0,365.9 1389.0,367.9 1390.0,367.9 1391.0,371.0 1392.0,373.1 1393.0,373.4 1394.0,373.7 1395.0,374.5 1396.0,374.2 1397.0,372.8 1398.0,373.5 1399.0,372.3 1400.0,371.9 1401.0,374.2 1402.0,374.6 1403.0,375.4 1404.0,375.4 1405.0,374.1 1406.0,375.8 1407.0,376.8 1408.0,376.9 1409.0,376.0 1410.0,376.7 1411.0,378.3 1412.0,378.9 1413.0,374.3 1414.0,375.3 1415.0,379.4 1416.0,381.9 1417.0,381.7 1418.0,382.9 1419.0,385.5 1420.0,385.7 1421.0,383.6 1422.0,382.7 1423.0,381.8 1424.0,382.3 1425.0,382.6 1426.0,382.7 1427.0,384.3 1428.0,381.7 1429.0,382.7 1430.0,383.2 1431.0,386.0 1432.0,391.6 1433.0,391.9 1434.0,390.1 1435.0,389.4 1436.0,389.3 1437.0,389.4 1438.0,390.1 1439.0,389.4 1440.0,391.3 1441.0,392.3 1442.0,391.5 1443.0,390.5 1444.0,390.7 1445.0,392.9 1446.0,393.6 1447.0,393.1 1448.0,394.8 1449.0,395.2 1450.0,398.0 1451.0,397.4 1452.0,395.6 1453.0,396.2 1454.0,397.5 1455.0,398.5 1456.0,399.9 1457.0,399.5 1458.0,397.7 1459.0,400.3 1460.0,401.5 1461.0,401.2 1462.0,399.9 1463.0,399.5 1464.0,398.8 1465.0,400.0 1466.0,401.2 1467.0,400.7 1468.0,401.9 1469.0,402.7 1470.0,403.5 1471.0,404.2 1472.0,404.6 1473.0,405.0 1474.0,400.3 1475.0,401.1 1476.0,401.0 1477.0,405.7 1478.0,403.9 1479.0,404.6 1480.0,404.1 1481.0,404.8 1482.0,405.4 1483.0,404.3 1484.0,403.8 1485.0,405.7 1486.0,407.6 1487.0,408.4 1488.0,408.9 1489.0,408.5 1490.0,409.0 1491.0,411.0 1492.0,409.1 1493.0,408.1 1494.0,408.6 1495.0,408.2 1496.0,410.2 1497.0,410.4 1498.0,410.7 1499.0,412.4 1500.0,412.6 1501.0,414.3 1502.0,414.4 1503.0,412.4 1504.0,414.4 1505.0,413.9 1506.0,413.9 1507.0,414.6 1508.0,414.9 1509.0,417.1 1510.0,418.7 1511.0,416.0 1512.0,416.3 1513.0,416.3 1514.0,418.2 1515.0,420.4 1516.0,420.0 1517.0,418.5 1518.0,416.1 1519.0,416.0 1520.0,415.8 1521.0,417.9 1522.0,417.3 1523.0,419.3 1524.0,414.2 1525.0,414.5 1526.0,421.2 1527.0,422.7 1528.0,423.4 1529.0,422.1 1530.0,419.4 1531.0,419.9 1532.0,421.0 1533.0,421.3 1534.0,421.1 1535.0,420.3 1536.0,422.1 1537.0,424.2 1538.0,422.2 1539.0,422.8 1540.0,422.9 1541.0,423.4 1542.0,423.6 1543.0,422.6 1544.0,423.1 1545.0,421.8 1546.0,421.4 1547.0,425.4 1548.0,426.2 1549.0,425.3 1550.0,425.7 1551.0,423.6 1552.0,424.9 1553.0,425.5 1554.0,426.3 1555.0,425.1 1556.0,424.6 1557.0,424.2 1558.0,424.7 1559.0,425.0 1560.0,422.5 1561.0,423.8 1562.0,424.3 1563.0,426.2 1564.0,429.1 1565.0,431.6 1566.0,432.8 1567.0,431.0 1568.0,429.7 1569.0,429.0 1570.0,430.1 1571.0,429.3 1572.0,429.1 1573.0,430.2 1574.0,432.3 1575.0,433.6 1576.0,431.4 1577.0,430.1 1578.0,429.6 1579.0,428.8 1580.0,429.1 1581.0,429.6 1582.0,430.7 1583.0,426.8 1584.0,428.9 1585.0,429.9 1586.0,435.3 1587.0,434.4 1588.0,433.3 1589.0,432.1 1590.0,434.0 1591.0,434.0 1592.0,435.8 1593.0,436.1 1594.0,438.1 1595.0,438.6 1596.0,438.3 1597.0,438.4 1598.0,436.6 1599.0,437.1 1600.0,436.2 1601.0,436.2 1602.0,436.6 1603.0,439.4 1604.0,441.4 1605.0,438.2 1606.0,439.1 1607.0,439.9 1608.0,438.2 1609.0,443.1 1610.0,441.5 1611.0,440.8 1612.0,440.9 1613.0,440.9 1614.0,440.2 1615.0,441.3 1616.0,440.6 1617.0,441.5 1618.0,441.1 1619.0,440.6 1620.0,441.7 1621.0,443.4 1622.0,445.5 1623.0,446.1 1624.0,444.8 1625.0,445.0 1626.0,445.1 1627.0,443.1 1628.0,443.3 1629.0,445.5 1630.0,447.4 1631.0,450.3 1632.0,450.5 1633.0,451.9 1634.0,452.1 1635.0,452.2 1636.0,450.4 1637.0,449.7 1638.0,449.8 1639.0,450.1 1640.0,449.9 1641.0,451.1 1642.0,452.4 1643.0,454.1 1644.0,451.7 1645.0,450.8 1646.0,454.6 1647.0,455.2 1648.0,453.9 1649.0,456.5 1650.0,452.7 1651.0,451.1 1652.0,450.9 1653.0,451.1 1654.0,453.2 1655.0,457.0 1656.0,456.2 1657.0,454.6 1658.0,454.6 1659.0,458.8 1660.0,459.0 1661.0,457.4 1662.0,455.2 1663.0,456.3 1664.0,457.3 1665.0,456.9 1666.0,458.6 1667.0,457.5 1668.0,457.1 1669.0,458.3 1670.0,457.6 1671.0,457.8 1672.0,458.3 1673.0,458.8 1674.0,460.5 1675.0,461.1 1676.0,459.8 1677.0,460.7 1678.0,458.6 1679.0,459.9 1680.0,458.6 1681.0,460.2 1682.0,460.5 1683.0,459.5 1684.0,459.4 1685.0,462.2 1686.0,460.9 1687.0,463.6 1688.0,461.1 1689.0,460.7 1690.0,462.1 1691.0,464.0 1692.0,464.8 1693.0,466.9 1694.0,464.6 1695.0,464.4 1696.0,464.5 1697.0,464.1 1698.0,464.2 1699.0,465.1 1700.0,465.8 1701.0,466.6 1702.0,467.0 1703.0,468.3 1704.0,468.1 1705.0,467.8 1706.0,466.5 1707.0,466.2 1708.0,466.4 1709.0,465.9 1710.0,465.4 1711.0,466.8 1712.0,466.5 1713.0,468.8 1714.0,470.0 1715.0,470.8 1716.0,471.9 1717.0,470.8 1718.0,469.7 1719.0,471.4 1720.0,471.7 1721.0,470.9 1722.0,470.1 1723.0,471.3 1724.0,471.2 1725.0,471.4 1726.0,472.8 1727.0,473.4 1728.0,474.0 1729.0,473.4 1730.0,474.0 1731.0,474.8 1732.0,475.8 1733.0,475.2 1734.0,476.6 1735.0,478.0 1736.0,476.8 1737.0,476.6 1738.0,476.8 1739.0,476.0 1740.0,476.6 1741.0,474.3 1742.0,472.1 1743.0,473.4 1744.0,473.2 1745.0,476.6 1746.0,476.5 1747.0,477.4 1748.0,474.8 1749.0,476.3 1750.0,476.6 1751.0,480.0 1752.0,481.3 1753.0,479.5 1754.0,481.0 1755.0,482.1 1756.0,483.4 1757.0,482.9 1758.0,482.6 1759.0,481.8 1760.0,482.8 1761.0,483.0 1762.0,481.9 1763.0,484.1 1764.0,482.8 1765.0,484.3 1766.0,481.4 1767.0,482.0 1768.0,482.9 1769.0,487.5 1770.0,489.0 1771.0,493.5 1772.0,492.0 1773.0,490.3 1774.0,491.2 1775.0,490.5 1776.0,491.8 1777.0,491.6 1778.0,490.5 1779.0,491.8 1780.0,490.3 1781.0,491.8 1782.0,491.2 1783.0,490.3 1784.0,489.6 1785.0,492.7 1786.0,492.2 1787.0,495.8 1788.0,496.6 1789.0,497.9 1790.0,497.4 1791.0,495.7 1792.0,493.0 1793.0,495.4 1794.0,496.5 1795.0,498.3 1796.0,497.8 1797.0,495.8 1798.0,496.6 1799.0,498.3 1800.0,495.8 1801.0,495.6 1802.0,496.1 1803.0,497.3 1804.0,497.1 1805.0,496.3 1806.0,497.1 1807.0,502.1 1808.0,502.6 1809.0,501.4 1810.0,501.9 1811.0,502.6 1812.0,504.3 1813.0,503.4 1814.0,502.0 1815.0,504.9 1816.0,506.0 1817.0,508.0 1818.0,506.8 1819.0,506.0 1820.0,506.0 1821.0,505.8 1822.0,504.9 1823.0,504.1 1824.0,502.3 1825.0,504.0 1826.0,504.8 1827.0,506.2 1828.0,507.2 1829.0,507.9 1830.0,508.9 1831.0,509.3 1832.0,509.2 1833.0,508.8 1834.0,509.1 1835.0,509.2 1836.0,510.9 1837.0,510.0 1838.0,510.8 1839.0,511.0 1840.0,512.0 1841.0,513.9 1842.0,515.1 1843.0,514.5 1844.0,514.6 1845.0,515.5 1846.0,517.1 1847.0,518.0 1848.0,516.0 1849.0,513.3 1850.0,512.4 1851.0,514.0 1852.0,515.7 1853.0,516.7 1854.0,517.0 1855.0,518.6 1856.0,519.4 1857.0,521.0 1858.0,520.9 1859.0,519.5 1860.0,518.2 1861.0,518.4 1862.0,519.5 1863.0,519.8 1864.0,519.9 1865.0,519.5 1866.0,520.3 1867.0,519.8 1868.0,518.9 1869.0,518.3 1870.0,519.7 1871.0,520.8 1872.0,520.9 1873.0,520.6 1874.0,521.1 1875.0,521.3 1876.0,521.4 1877.0,521.1 1878.0,521.8 1879.0,522.4 1880.0,525.4 1881.0,525.8 1882.0,526.4 1883.0,527.5 1884.0,527.7 1885.0,526.3 1886.0,526.9 1887.0,524.4 1888.0,525.0 1889.0,525.1 1890.0,525.9 1891.0,526.7 1892.0,528.0 1893.0,527.4 1894.0,528.3 1895.0,530.2 1896.0,531.9 1897.0,530.7 1898.0,530.9 1899.0,527.9 1900.0,527.7 1901.0,528.7 1902.0,527.4 1903.0,527.6 1904.0,528.6 1905.0,528.0 1906.0,530.7 1907.0,532.9 1908.0,531.5 1909.0,534.3 1910.0,534.1 1911.0,532.7 1912.0,532.4 1913.0,530.6 1914.0,531.9 1915.0,534.7 1916.0,536.2 1917.0,537.3 1918.0,539.4 1919.0,539.0 1920.0,542.4 1921.0,542.2 1922.0,539.1 1923.0,536.8 1924.0,535.0 1925.0,533.5 1926.0,533.7 1927.0,533.2 1928.0,532.4 1929.0,533.9 1930.0,532.8 1931.0,532.9 1932.0,533.7 1933.0,533.7 1934.0,533.9 1935.0,536.5 1936.0,538.6 1937.0,539.8 1938.0,542.3 1939.0,542.8 1940.0,545.5 1941.0,545.7 1942.0,543.9 1943.0,542.8 1944.0,544.6 1945.0,542.8 1946.0,543.4 1947.0,542.8 1948.0,542.7 1949.0,544.6 1950.0,544.2 1951.0,544.4 1952.0,544.7 1953.0,544.4 1954.0,543.7 1955.0,545.4 1956.0,548.7 1957.0,551.5 1958.0,552.3 1959.0,551.9 1960.0,552.2 1961.0,554.9 1962.0,554.1 1963.0,554.7 1964.0,554.2 1965.0,555.6 1966.0,556.2 1967.0,556.5 1968.0,555.7 1969.0,557.3 1970.0,558.0 1971.0,558.6 1972.0,558.3 1973.0,557.7 1974.0,555.9 1975.0,555.1 1976.0,555.9 1977.0,558.2 1978.0,557.9 1979.0,559.0 1980.0,553.7 1981.0,554.5 1982.0,559.9 1983.0,558.2 1984.0,558.0 1985.0,559.0 1986.0,558.0 1987.0,557.2 1988.0,555.9 1989.0,554.2 1990.0,556.8 1991.0,554.2 1992.0,554.2 1993.0,553.5 1994.0,553.5 1995.0,555.4 1996.0,557.4 1997.0,556.2 1998.0,557.3 1999.0,557.0 2000.0,558.8 2001.0,562.0 2002.0,563.8 2003.0,564.2 2004.0,564.8 2005.0,564.9 2006.0,565.4 2007.0,562.9 2008.0,561.6 2009.0,562.6 2010.0,563.6 2011.0,563.1 2012.0,562.6 2013.0,561.9 2014.0,562.2 2015.0,561.1 2016.0,561.2 2017.0,558.0 2018.0,558.0 2019.0,558.7 2020.0,561.0 2021.0,562.6 2022.0,562.9 2023.0,561.8 2024.0,563.8 2025.0,565.6 2026.0,565.2 2027.0,564.6 2028.0,565.8 2029.0,565.1 2030.0,561.7 2031.0,562.4 2032.0,561.0 2033.0,562.6 2034.0,561.9 2035.0,560.4 2036.0,560.9 2037.0,560.9 2038.0,560.8 2039.0,563.8 2040.0,565.5 2041.0,566.7 2042.0,567.0 2043.0,566.1 2044.0,568.6 2045.0,570.0 2046.0,570.3 2047.0,569.6 2048.0,570.2 2049.0,570.2 2050.0,571.8 2051.0,569.3 2052.0,569.7 2053.0,567.6 2054.0,569.1 2055.0,569.3 2056.0,568.3 2057.0,569.7 2058.0,571.4 2059.0,572.4 2060.0,572.3 2061.0,570.8 2062.0,570.9 2063.0,572.5 2064.0,570.8 2065.0,571.0 2066.0,571.3 2067.0,572.5 2067.0,605.3 2066.0,606.9 2065.0,608.0 2064.0,609.4 2063.0,609.7 2062.0,607.8 2061.0,608.9 2060.0,606.3 2059.0,605.4 2058.0,602.7 2057.0,601.0 2056.0,601.1 2055.0,601.9 2054.0,599.3 2053.0,601.3 2052.0,599.4 2051.0,599.2 2050.0,600.6 2049.0,605.0 2048.0,606.8 2047.0,607.0 2046.0,607.0 2045.0,603.9 2044.0,604.8 2043.0,601.9 2042.0,600.2 2041.0,599.9 2040.0,599.6 2039.0,598.6 2038.0,596.0 2037.0,594.8 2036.0,598.2 2035.0,600.4 2034.0,600.9 2033.0,600.5 2032.0,600.6 2031.0,600.9 2030.0,602.6 2029.0,603.7 2028.0,609.6 2027.0,609.7 2026.0,608.1 2025.0,607.2 2024.0,601.9 2023.0,601.8 2022.0,600.2 2021.0,596.6 2020.0,596.7 2019.0,597.5 2018.0,598.1 2017.0,598.9 2016.0,597.8 2015.0,596.7 2014.0,598.7 2013.0,596.7 2012.0,597.7 2011.0,597.7 2010.0,597.1 2009.0,597.1 2008.0,598.0 2007.0,598.6 2006.0,598.2 2005.0,597.4 2004.0,599.1 2003.0,605.0 2002.0,603.5 2001.0,598.5 2000.0,598.7 1999.0,598.3 1998.0,597.9 1997.0,597.4 1996.0,598.3 1995.0,599.8 1994.0,600.6 1993.0,600.2 1992.0,601.2 1991.0,603.9 1990.0,603.9 1989.0,602.2 1988.0,598.8 1987.0,598.0 1986.0,597.9 1985.0,596.4 1984.0,595.9 1983.0,593.6 1982.0,592.9 1981.0,593.9 1980.0,594.8 1979.0,594.4 1978.0,594.9 1977.0,594.0 1976.0,594.5 1975.0,596.8 1974.0,597.0 1973.0,595.3 1972.0,594.2 1971.0,593.7 1970.0,594.0 1969.0,593.1 1968.0,591.5 1967.0,590.2 1966.0,589.1 1965.0,586.4 1964.0,585.3 1963.0,587.1 1962.0,587.0 1961.0,589.1 1960.0,589.4 1959.0,589.4 1958.0,587.4 1957.0,586.8 1956.0,587.2 1955.0,589.6 1954.0,588.9 1953.0,585.6 1952.0,583.7 1951.0,584.1 1950.0,584.1 1949.0,582.2 1948.0,579.4 1947.0,577.1 1946.0,577.4 1945.0,576.9 1944.0,577.6 1943.0,578.1 1942.0,578.7 1941.0,577.9 1940.0,576.8 1939.0,577.1 1938.0,576.4 1937.0,574.9 1936.0,573.4 1935.0,572.4 1934.0,573.4 1933.0,573.8 1932.0,573.5 1931.0,574.1 1930.0,575.8 1929.0,574.3 1928.0,573.5 1927.0,572.6 1926.0,572.4 1925.0,571.6 1924.0,571.2 1923.0,570.5 1922.0,571.4 1921.0,570.9 1920.0,569.6 1919.0,571.3 1918.0,571.0 1917.0,570.0 1916.0,569.0 1915.0,568.7 1914.0,570.3 1913.0,572.1 1912.0,569.3 1911.0,573.2 1910.0,572.9 1909.0,573.7 1908.0,570.4 1907.0,571.5 1906.0,570.3 1905.0,569.7 1904.0,568.1 1903.0,565.9 1902.0,564.3 1901.0,564.6 1900.0,564.0 1899.0,564.2 1898.0,564.6 1897.0,565.4 1896.0,565.4 1895.0,564.2 1894.0,562.8 1893.0,562.3 1892.0,562.9 1891.0,563.7 1890.0,561.6 1889.0,562.5 1888.0,561.5 1887.0,561.2 1886.0,560.5 1885.0,558.7 1884.0,559.2 1883.0,559.0 1882.0,558.9 1881.0,559.3 1880.0,558.4 1879.0,557.0 1878.0,555.9 1877.0,558.0 1876.0,559.2 1875.0,559.3 1874.0,557.3 1873.0,557.8 1872.0,558.6 1871.0,558.4 1870.0,557.6 1869.0,556.3 1868.0,558.5 1867.0,560.0 1866.0,558.8 1865.0,558.1 1864.0,556.0 1863.0,555.3 1862.0,555.5 1861.0,556.9 1860.0,556.5 1859.0,555.9 1858.0,555.4 1857.0,555.5 1856.0,553.4 1855.0,551.2 1854.0,550.5 1853.0,549.1 1852.0,549.2 1851.0,548.1 1850.0,547.2 1849.0,548.3 1848.0,549.0 1847.0,547.3 1846.0,547.1 1845.0,546.7 1844.0,546.9 1843.0,547.9 1842.0,546.8 1841.0,547.8 1840.0,548.1 1839.0,548.3 1838.0,553.7 1837.0,554.8 1836.0,553.7 1835.0,548.8 1834.0,547.5 1833.0,547.3 1832.0,546.8 1831.0,545.3 1830.0,543.9 1829.0,543.5 1828.0,540.9 1827.0,538.7 1826.0,537.3 1825.0,537.8 1824.0,537.1 1823.0,534.9 1822.0,534.1 1821.0,532.4 1820.0,534.2 1819.0,534.3 1818.0,533.2 1817.0,534.4 1816.0,534.7 1815.0,535.7 1814.0,535.8 1813.0,536.0 1812.0,535.2 1811.0,540.5 1810.0,538.1 1809.0,538.0 1808.0,537.8 1807.0,533.4 1806.0,531.3 1805.0,531.9 1804.0,530.9 1803.0,530.5 1802.0,532.0 1801.0,532.4 1800.0,532.5 1799.0,533.7 1798.0,531.1 1797.0,532.9 1796.0,533.0 1795.0,532.3 1794.0,532.2 1793.0,531.3 1792.0,530.6 1791.0,537.7 1790.0,536.2 1789.0,529.9 1788.0,530.1 1787.0,530.1 1786.0,531.3 1785.0,532.3 1784.0,531.9 1783.0,534.3 1782.0,534.6 1781.0,534.6 1780.0,533.7 1779.0,531.8 1778.0,532.5 1777.0,530.3 1776.0,529.0 1775.0,528.2 1774.0,524.4 1773.0,524.1 1772.0,523.5 1771.0,526.5 1770.0,526.1 1769.0,526.3 1768.0,524.6 1767.0,525.5 1766.0,527.4 1765.0,528.4 1764.0,525.7 1763.0,526.3 1762.0,524.3 1761.0,523.7 1760.0,522.8 1759.0,520.0 1758.0,518.3 1757.0,518.9 1756.0,520.0 1755.0,521.8 1754.0,521.5 1753.0,520.4 1752.0,520.1 1751.0,524.5 1750.0,524.8 1749.0,522.1 1748.0,523.0 1747.0,521.7 1746.0,518.7 1745.0,519.6 1744.0,519.1 1743.0,517.5 1742.0,514.8 1741.0,513.0 1740.0,512.1 1739.0,512.9 1738.0,511.7 1737.0,511.7 1736.0,511.5 1735.0,510.2 1734.0,510.4 1733.0,512.0 1732.0,512.4 1731.0,514.0 1730.0,512.0 1729.0,512.4 1728.0,511.2 1727.0,511.2 1726.0,512.7 1725.0,513.6 1724.0,514.2 1723.0,509.9 1722.0,512.6 1721.0,511.5 1720.0,512.5 1719.0,510.2 1718.0,509.9 1717.0,508.1 1716.0,510.4 1715.0,509.4 1714.0,509.1 1713.0,507.4 1712.0,507.0 1711.0,506.1 1710.0,506.6 1709.0,506.2 1708.0,505.6 1707.0,505.8 1706.0,506.3 1705.0,506.3 1704.0,504.6 1703.0,505.2 1702.0,504.0 1701.0,502.2 1700.0,502.0 1699.0,501.7 1698.0,499.9 1697.0,501.5 1696.0,502.4 1695.0,503.1 1694.0,501.0 1693.0,499.8 1692.0,499.1 1691.0,500.2 1690.0,497.3 1689.0,499.1 1688.0,498.7 1687.0,500.7 1686.0,500.3 1685.0,505.2 1684.0,506.6 1683.0,506.9 1682.0,499.6 1681.0,500.2 1680.0,501.8 1679.0,501.1 1678.0,500.5 1677.0,497.2 1676.0,498.6 1675.0,498.7 1674.0,498.7 1673.0,495.6 1672.0,495.3 1671.0,493.4 1670.0,496.6 1669.0,495.4 1668.0,489.8 1667.0,487.3 1666.0,489.6 1665.0,488.8 1664.0,491.5 1663.0,491.9 1662.0,491.5 1661.0,489.3 1660.0,487.2 1659.0,484.6 1658.0,487.8 1657.0,486.7 1656.0,486.7 1655.0,485.2 1654.0,486.3 1653.0,490.1 1652.0,490.9 1651.0,489.2 1650.0,488.9 1649.0,488.0 1648.0,489.4 1647.0,487.3 1646.0,486.9 1645.0,486.2 1644.0,485.2 1643.0,483.2 1642.0,482.5 1641.0,481.6 1640.0,483.4 1639.0,483.5 1638.0,483.6 1637.0,482.8 1636.0,483.0 1635.0,482.0 1634.0,486.1 1633.0,486.2 1632.0,487.1 1631.0,486.7 1630.0,485.8 1629.0,485.0 1628.0,486.5 1627.0,486.4 1626.0,488.9 1625.0,493.5 1624.0,492.2 1623.0,488.0 1622.0,485.1 1621.0,484.0 1620.0,483.5 1619.0,482.4 1618.0,479.3 1617.0,478.2 1616.0,477.4 1615.0,479.6 1614.0,479.5 1613.0,481.7 1612.0,481.1 1611.0,483.0 1610.0,482.0 1609.0,479.4 1608.0,478.2 1607.0,476.7 1606.0,476.5 1605.0,474.5 1604.0,474.7 1603.0,476.0 1602.0,478.1 1601.0,478.0 1600.0,480.2 1599.0,480.6 1598.0,483.0 1597.0,481.7 1596.0,479.2 1595.0,476.7 1594.0,477.0 1593.0,476.6 1592.0,475.6 1591.0,477.1 1590.0,476.7 1589.0,477.7 1588.0,475.5 1587.0,474.8 1586.0,473.3 1585.0,474.6 1584.0,473.4 1583.0,473.6 1582.0,474.0 1581.0,474.0 1580.0,474.1 1579.0,472.6 1578.0,473.3 1577.0,472.1 1576.0,472.6 1575.0,471.8 1574.0,471.8 1573.0,471.8 1572.0,472.8 1571.0,471.7 1570.0,473.5 1569.0,472.6 1568.0,474.2 1567.0,473.0 1566.0,469.9 1565.0,471.1 1564.0,472.9 1563.0,472.5 1562.0,471.6 1561.0,468.2 1560.0,467.7 1559.0,469.8 1558.0,469.5 1557.0,467.7 1556.0,466.7 1555.0,467.2 1554.0,465.8 1553.0,466.8 1552.0,465.6 1551.0,464.2 1550.0,462.2 1549.0,461.7 1548.0,460.4 1547.0,460.5 1546.0,459.7 1545.0,460.0 1544.0,459.4 1543.0,460.7 1542.0,458.5 1541.0,457.3 1540.0,458.9 1539.0,458.7 1538.0,458.3 1537.0,459.1 1536.0,457.0 1535.0,458.1 1534.0,458.2 1533.0,456.0 1532.0,455.2 1531.0,456.0 1530.0,455.1 1529.0,457.0 1528.0,455.7 1527.0,455.7 1526.0,455.1 1525.0,457.0 1524.0,455.9 1523.0,455.6 1522.0,454.5 1521.0,455.0 1520.0,454.1 1519.0,453.7 1518.0,452.1 1517.0,452.1 1516.0,451.5 1515.0,450.2 1514.0,449.8 1513.0,455.6 1512.0,454.9 1511.0,454.9 1510.0,454.5 1509.0,449.9 1508.0,449.5 1507.0,450.8 1506.0,450.2 1505.0,453.5 1504.0,452.7 1503.0,453.6 1502.0,453.4 1501.0,449.7 1500.0,446.0 1499.0,444.0 1498.0,445.8 1497.0,446.4 1496.0,445.1 1495.0,446.1 1494.0,445.3 1493.0,447.3 1492.0,444.9 1491.0,444.7 1490.0,443.7 1489.0,443.6 1488.0,442.9 1487.0,439.9 1486.0,441.3 1485.0,441.0 1484.0,440.8 1483.0,440.4 1482.0,442.6 1481.0,441.7 1480.0,442.1 1479.0,438.6 1478.0,438.7 1477.0,438.9 1476.0,439.6 1475.0,437.4 1474.0,438.1 1473.0,437.9 1472.0,439.1 1471.0,439.8 1470.0,439.9 1469.0,439.5 1468.0,439.7 1467.0,440.6 1466.0,439.9 1465.0,438.6 1464.0,435.9 1463.0,436.7 1462.0,437.4 1461.0,436.8 1460.0,435.2 1459.0,435.2 1458.0,435.2 1457.0,435.9 1456.0,435.9 1455.0,435.0 1454.0,435.2 1453.0,436.3 1452.0,433.2 1451.0,433.1 1450.0,435.0 1449.0,432.5 1448.0,431.1 1447.0,429.7 1446.0,435.7 1445.0,437.0 1444.0,430.6 1443.0,429.2 1442.0,430.1 1441.0,431.6 1440.0,432.0 1439.0,430.7 1438.0,428.0 1437.0,428.9 1436.0,426.8 1435.0,426.5 1434.0,426.9 1433.0,425.3 1432.0,429.2 1431.0,431.0 1430.0,429.1 1429.0,427.9 1428.0,424.8 1427.0,422.3 1426.0,419.8 1425.0,420.0 1424.0,421.0 1423.0,420.7 1422.0,423.2 1421.0,422.6 1420.0,422.8 1419.0,424.5 1418.0,423.5 1417.0,423.9 1416.0,424.4 1415.0,423.9 1414.0,423.9 1413.0,424.6 1412.0,422.9 1411.0,423.2 1410.0,422.5 1409.0,423.3 1408.0,422.9 1407.0,421.2 1406.0,421.5 1405.0,419.7 1404.0,419.8 1403.0,418.3 1402.0,417.1 1401.0,417.0 1400.0,416.9 1399.0,415.6 1398.0,415.1 1397.0,417.2 1396.0,418.9 1395.0,419.9 1394.0,418.2 1393.0,417.7 1392.0,420.4 1391.0,420.8 1390.0,420.1 1389.0,419.7 1388.0,418.3 1387.0,418.7 1386.0,423.8 1385.0,423.2 1384.0,422.8 1383.0,417.0 1382.0,418.4 1381.0,417.3 1380.0,416.9 1379.0,421.9 1378.0,421.6 1377.0,425.2 1376.0,417.2 1375.0,418.1 1374.0,415.7 1373.0,415.3 1372.0,414.8 1371.0,414.3 1370.0,410.9 1369.0,410.4 1368.0,408.0 1367.0,406.3 1366.0,406.4 1365.0,405.2 1364.0,404.3 1363.0,404.0 1362.0,403.8 1361.0,402.3 1360.0,402.7 1359.0,402.0 1358.0,402.3 1357.0,402.5 1356.0,402.9 1355.0,403.5 1354.0,402.3 1353.0,400.6 1352.0,399.7 1351.0,399.9 1350.0,399.2 1349.0,398.1 1348.0,396.2 1347.0,394.8 1346.0,394.2 1345.0,394.1 1344.0,393.7 1343.0,395.2 1342.0,395.6 1341.0,393.7 1340.0,392.7 1339.0,392.7 1338.0,394.4 1337.0,393.8 1336.0,392.6 1335.0,393.3 1334.0,393.4 1333.0,402.0 1332.0,401.8 1331.0,402.1 1330.0,403.9 1329.0,397.8 1328.0,395.7 1327.0,392.9 1326.0,391.8 1325.0,392.6 1324.0,393.3 1323.0,393.3 1322.0,393.0 1321.0,392.1 1320.0,392.3 1319.0,390.8 1318.0,389.2 1317.0,389.0 1316.0,387.5 1315.0,386.8 1314.0,386.2 1313.0,385.0 1312.0,385.1 1311.0,384.3 1310.0,384.6 1309.0,386.3 1308.0,388.1 1307.0,387.4 1306.0,387.6 1305.0,385.9 1304.0,386.4 1303.0,385.1 1302.0,385.0 1301.0,384.8 1300.0,385.6 1299.0,385.1 1298.0,387.8 1297.0,389.4 1296.0,387.2 1295.0,386.5 1294.0,383.7 1293.0,384.0 1292.0,385.8 1291.0,383.2 1290.0,381.7 1289.0,380.7 1288.0,383.3 1287.0,383.4 1286.0,385.5 1285.0,383.6 1284.0,384.8 1283.0,384.8 1282.0,384.3 1281.0,383.3 1280.0,383.1 1279.0,381.5 1278.0,380.6 1277.0,379.6 1276.0,379.1 1275.0,379.4 1274.0,380.3 1273.0,379.4 1272.0,377.5 1271.0,380.1 1270.0,379.3 1269.0,379.1 1268.0,380.1 1267.0,378.4 1266.0,378.7 1265.0,377.7 1264.0,378.1 1263.0,378.1 1262.0,377.1 1261.0,377.9 1260.0,373.5 1259.0,373.5 1258.0,373.7 1257.0,374.2 1256.0,375.3 1255.0,374.3 1254.0,373.1 1253.0,373.9 1252.0,372.6 1251.0,372.2 1250.0,371.7 1249.0,370.3 1248.0,369.8 1247.0,369.1 1246.0,370.0 1245.0,371.6 1244.0,372.1 1243.0,371.6 1242.0,369.9 1241.0,371.0 1240.0,370.2 1239.0,368.4 1238.0,368.9 1237.0,369.1 1236.0,369.6 1235.0,370.5 1234.0,370.8 1233.0,370.1 1232.0,367.1 1231.0,368.2 1230.0,367.1 1229.0,368.2 1228.0,368.7 1227.0,368.4 1226.0,368.6 1225.0,368.3 1224.0,365.0 1223.0,365.3 1222.0,363.0 1221.0,361.9 1220.0,362.0 1219.0,361.9 1218.0,360.3 1217.0,361.2 1216.0,359.0 1215.0,360.5 1214.0,361.5 1213.0,362.1 1212.0,363.4 1211.0,364.4 1210.0,363.5 1209.0,364.4 1208.0,363.7 1207.0,362.2 1206.0,362.3 1205.0,363.4 1204.0,364.7 1203.0,363.0 1202.0,362.4 1201.0,362.3 1200.0,363.6 1199.0,363.9 1198.0,363.4 1197.0,361.5 1196.0,361.3 1195.0,362.4 1194.0,362.4 1193.0,362.5 1192.0,361.1 1191.0,357.1 1190.0,356.8 1189.0,356.7 1188.0,356.9 1187.0,357.7 1186.0,356.3 1185.0,354.2 1184.0,353.6 1183.0,353.9 1182.0,355.1 1181.0,355.1 1180.0,354.1 1179.0,353.2 1178.0,351.7 1177.0,359.2 1176.0,359.4 1175.0,359.6 1174.0,353.6 1173.0,352.4 1172.0,354.3 1171.0,353.8 1170.0,356.5 1169.0,353.6 1168.0,353.2 1167.0,353.6 1166.0,353.9 1165.0,349.8 1164.0,350.3 1163.0,348.6 1162.0,349.1 1161.0,349.4 1160.0,348.8 1159.0,350.2 1158.0,352.3 1157.0,353.4 1156.0,352.8 1155.0,360.7 1154.0,359.4 1153.0,359.3 1152.0,358.3 1151.0,351.3 1150.0,347.6 1149.0,348.3 1148.0,347.8 1147.0,346.8 1146.0,344.0 1145.0,342.5 1144.0,342.5 1143.0,345.3 1142.0,343.6 1141.0,344.0 1140.0,342.8 1139.0,344.8 1138.0,344.2 1137.0,343.7 1136.0,345.3 1135.0,345.8 1134.0,344.5 1133.0,346.5 1132.0,345.2 1131.0,346.4 1130.0,347.9 1129.0,348.1 1128.0,346.4 1127.0,344.3 1126.0,342.0 1125.0,343.0 1124.0,341.7 1123.0,338.8 1122.0,338.4 1121.0,338.1 1120.0,341.5 1119.0,341.1 1118.0,341.1 1117.0,341.4 1116.0,343.2 1115.0,341.3 1114.0,341.0 1113.0,338.5 1112.0,341.0 1111.0,339.6 1110.0,339.7 1109.0,338.6 1108.0,337.9 1107.0,336.7 1106.0,335.6 1105.0,340.1 1104.0,339.5 1103.0,339.5 1102.0,334.0 1101.0,335.4 1100.0,336.1 1099.0,337.5 1098.0,336.4 1097.0,336.2 1096.0,338.5 1095.0,338.5 1094.0,337.4 1093.0,336.4 1092.0,336.5 1091.0,336.9 1090.0,337.2 1089.0,335.5 1088.0,334.0 1087.0,332.7 1086.0,332.3 1085.0,330.5 1084.0,332.1 1083.0,336.9 1082.0,338.0 1081.0,329.1 1080.0,329.2 1079.0,330.1 1078.0,331.2 1077.0,331.2 1076.0,331.5 1075.0,329.3 1074.0,330.9 1073.0,328.7 1072.0,330.1 1071.0,327.7 1070.0,328.1 1069.0,328.1 1068.0,329.5 1067.0,329.5 1066.0,329.5 1065.0,327.0 1064.0,328.9 1063.0,327.8 1062.0,328.3 1061.0,327.0 1060.0,325.2 1059.0,324.0 1058.0,326.4 1057.0,328.6 1056.0,326.8 1055.0,326.5 1054.0,324.2 1053.0,325.3 1052.0,330.3 1051.0,331.2 1050.0,328.3 1049.0,327.4 1048.0,325.6 1047.0,326.7 1046.0,326.9 1045.0,326.0 1044.0,326.6 1043.0,327.7 1042.0,326.0 1041.0,325.1 1040.0,324.8 1039.0,323.2 1038.0,323.0 1037.0,323.6 1036.0,322.6 1035.0,323.5 1034.0,323.9 1033.0,322.6 1032.0,322.1 1031.0,322.6 1030.0,322.6 1029.0,319.8 1028.0,322.8 1027.0,320.1 1026.0,321.3 1025.0,322.8 1024.0,323.1 1023.0,324.5 1022.0,324.6 1021.0,321.0 1020.0,318.5 1019.0,319.5 1018.0,321.0 1017.0,319.7 1016.0,320.5 1015.0,319.3 1014.0,320.1 1013.0,320.8 1012.0,319.6 1011.0,319.1 1010.0,321.7 1009.0,321.1 1008.0,320.9 1007.0,321.0 1006.0,321.3 1005.0,319.7 1004.0,321.4 1003.0,319.9 1002.0,320.3 1001.0,321.7 1000.0,319.9 999.0,318.5 998.0,318.0 997.0,317.2 996.0,316.8 995.0,317.0 994.0,316.3 993.0,316.3 992.0,318.1 991.0,316.8 990.0,317.5 989.0,317.4 988.0,317.4 987.0,315.9 986.0,316.1 985.0,314.7 984.0,312.7 983.0,314.7 982.0,315.6 981.0,317.3 980.0,318.3 979.0,316.4 978.0,318.7 977.0,318.2 976.0,315.5 975.0,315.9 974.0,314.2 973.0,313.5 972.0,314.6 971.0,313.3 970.0,313.9 969.0,313.7 968.0,310.5 967.0,309.3 966.0,309.4 965.0,307.4 964.0,308.0 963.0,305.6 962.0,306.4 961.0,307.6 960.0,310.5 959.0,309.8 958.0,311.6 957.0,311.0 956.0,311.5 955.0,310.0 954.0,308.0 953.0,306.7 952.0,311.6 951.0,312.7 950.0,308.3 949.0,308.1 948.0,309.3 947.0,312.5 946.0,313.5 945.0,315.7 944.0,314.3 943.0,311.9 942.0,311.9 941.0,313.6 940.0,309.3 939.0,310.4 938.0,309.2 937.0,309.9 936.0,311.8 935.0,311.0 934.0,308.3 933.0,308.8 932.0,307.3 931.0,305.6 930.0,306.6 929.0,307.2 928.0,306.1 927.0,304.9 926.0,306.3 925.0,306.4 924.0,305.9 923.0,303.6 922.0,302.7 921.0,304.8 920.0,306.7 919.0,306.6 918.0,305.2 917.0,305.9 916.0,305.5 915.0,303.9 914.0,303.3 913.0,302.2 912.0,301.9 911.0,300.6 910.0,300.8 909.0,302.7 908.0,302.9 907.0,301.1 906.0,299.3 905.0,301.2 904.0,303.7 903.0,303.5 902.0,300.2 901.0,299.9 900.0,302.7 899.0,303.3 898.0,301.2 897.0,301.8 896.0,302.1 895.0,303.2 894.0,302.0 893.0,301.4 892.0,302.9 891.0,302.0 890.0,303.6 889.0,301.5 888.0,298.4 887.0,297.2 886.0,298.3 885.0,298.5 884.0,299.6 883.0,296.7 882.0,297.0 881.0,297.9 880.0,298.4 879.0,298.8 878.0,299.9 877.0,298.4 876.0,297.9 875.0,296.9 874.0,299.2 873.0,299.5 872.0,298.6 871.0,296.2 870.0,293.9 869.0,293.9 868.0,293.2 867.0,293.8 866.0,295.0 865.0,292.4 864.0,292.6 863.0,295.4 862.0,295.5 861.0,297.8 860.0,297.2 859.0,296.2 858.0,298.2 857.0,298.0 856.0,300.3 855.0,299.5 854.0,300.3 853.0,298.5 852.0,295.5 851.0,294.1 850.0,294.8 849.0,295.8 848.0,296.4 847.0,294.7 846.0,293.0 845.0,293.2 844.0,293.0 843.0,292.8 842.0,292.3 841.0,289.3 840.0,289.0 839.0,288.9 838.0,290.5 837.0,290.8 836.0,290.7 835.0,291.2 834.0,293.9 833.0,293.6 832.0,295.7 831.0,295.0 830.0,293.8 829.0,293.3 828.0,293.4 827.0,290.5 826.0,290.0 825.0,290.8 824.0,291.0 823.0,293.1 822.0,291.9 821.0,289.9 820.0,288.4 819.0,287.9 818.0,288.3 817.0,290.6 816.0,290.1 815.0,291.0 814.0,288.7 813.0,288.5 812.0,288.9 811.0,289.2 810.0,288.4 809.0,287.1 808.0,290.4 807.0,292.9 806.0,292.6 805.0,287.8 804.0,285.6 803.0,285.7 802.0,285.9 801.0,289.6 800.0,286.8 799.0,287.8 798.0,287.4 797.0,289.6 796.0,289.0 795.0,289.6 794.0,289.2 793.0,292.1 792.0,288.8 791.0,287.3 790.0,288.9 789.0,291.2 788.0,291.4 787.0,289.7 786.0,286.3 785.0,286.4 784.0,287.0 783.0,286.3 782.0,284.2 781.0,294.5 780.0,292.5 779.0,296.2 778.0,297.2 777.0,288.2 776.0,287.0 775.0,284.7 774.0,283.9 773.0,284.8 772.0,283.9 771.0,282.9 770.0,283.2 769.0,281.5 768.0,282.8 767.0,282.4 766.0,281.2 765.0,282.1 764.0,280.3 763.0,281.7 762.0,278.9 761.0,278.8 760.0,276.2 759.0,277.5 758.0,277.2 757.0,278.5 756.0,275.4 755.0,275.8 754.0,273.7 753.0,273.7 752.0,274.6 751.0,276.4 750.0,276.0 749.0,277.5 748.0,284.7 747.0,287.0 746.0,287.8 745.0,280.2 744.0,280.9 743.0,279.5 742.0,279.4 741.0,280.7 740.0,276.8 739.0,275.0 738.0,275.9 737.0,277.6 736.0,279.3 735.0,278.0 734.0,275.2 733.0,276.0 732.0,277.7 731.0,277.3 730.0,276.2 729.0,276.4 728.0,274.1 727.0,276.6 726.0,275.5 725.0,273.8 724.0,273.9 723.0,273.4 722.0,271.8 721.0,278.3 720.0,277.5 719.0,271.1 718.0,273.2 717.0,272.0 716.0,272.0 715.0,270.5 714.0,270.1 713.0,271.6 712.0,271.6 711.0,269.1 710.0,268.0 709.0,268.4 708.0,269.9 707.0,268.8 706.0,268.7 705.0,274.2 704.0,276.3 703.0,268.2 702.0,268.0 701.0,266.6 700.0,265.9 699.0,265.9 698.0,271.0 697.0,271.0 696.0,269.9 695.0,271.4 694.0,268.1 693.0,270.2 692.0,270.0 691.0,274.1 690.0,272.4 689.0,273.8 688.0,271.3 687.0,269.6 686.0,268.2 685.0,270.7 684.0,270.8 683.0,271.6 682.0,269.5 681.0,268.8 680.0,267.6 679.0,267.3 678.0,265.6 677.0,264.7 676.0,264.6 675.0,264.1 674.0,264.8 673.0,267.7 672.0,268.3 671.0,266.0 670.0,263.7 669.0,262.3 668.0,261.3 667.0,261.6 666.0,262.7 665.0,261.4 664.0,262.0 663.0,264.0 662.0,264.3 661.0,265.6 660.0,264.3 659.0,263.0 658.0,263.0 657.0,262.9 656.0,259.2 655.0,261.5 654.0,259.6 653.0,259.4 652.0,262.7 651.0,263.2 650.0,263.4 649.0,265.4 648.0,263.1 647.0,264.9 646.0,265.5 645.0,265.6 644.0,266.4 643.0,265.0 642.0,263.6 641.0,264.6 640.0,262.2 639.0,265.5 638.0,263.4 637.0,263.1 636.0,261.4 635.0,260.4 634.0,260.9 633.0,258.3 632.0,256.1 631.0,257.7 630.0,254.1 629.0,257.2 628.0,253.7 627.0,253.6 626.0,255.6 625.0,254.7 624.0,253.3 623.0,255.3 622.0,253.3 621.0,254.2 620.0,254.1 619.0,256.5 618.0,257.0 617.0,256.9 616.0,256.8 615.0,256.9 614.0,258.6 613.0,257.5 612.0,254.3 611.0,256.0 610.0,252.9 609.0,252.2 608.0,252.2 607.0,251.9 606.0,249.0 605.0,248.4 604.0,249.2 603.0,254.5 602.0,256.3 601.0,256.1 600.0,247.7 599.0,248.5 598.0,248.9 597.0,244.6 596.0,244.9 595.0,244.1 594.0,245.2 593.0,246.9 592.0,249.8 591.0,248.2 590.0,248.1 589.0,246.9 588.0,248.2 587.0,254.0 586.0,253.9 585.0,247.5 584.0,246.4 583.0,245.4 582.0,245.9 581.0,243.7 580.0,245.7 579.0,243.1 578.0,242.0 577.0,242.5 576.0,244.0 575.0,245.6 574.0,246.2 573.0,244.7 572.0,246.7 571.0,246.8 570.0,245.0 569.0,245.4 568.0,243.8 567.0,245.8 566.0,244.9 565.0,243.4 564.0,247.0 563.0,246.7 562.0,246.9 561.0,242.5 560.0,241.6 559.0,242.5 558.0,244.7 557.0,240.8 556.0,242.8 555.0,242.3 554.0,243.5 553.0,243.3 552.0,241.1 551.0,240.9 550.0,241.9 549.0,242.0 548.0,237.6 547.0,237.4 546.0,235.9 545.0,238.0 544.0,243.4 543.0,245.1 542.0,238.5 541.0,239.1 540.0,236.7 539.0,236.7 538.0,234.9 537.0,238.4 536.0,237.0 535.0,235.4 534.0,237.0 533.0,237.2 532.0,235.7 531.0,235.9 530.0,234.6 529.0,236.3 528.0,237.8 527.0,235.6 526.0,235.2 525.0,235.7 524.0,239.4 523.0,239.1 522.0,237.3 521.0,236.0 520.0,235.4 519.0,235.1 518.0,234.1 517.0,231.0 516.0,230.9 515.0,231.8 514.0,232.7 513.0,232.9 512.0,229.9 511.0,228.1 510.0,226.4 509.0,227.5 508.0,228.9 507.0,229.4 506.0,228.5 505.0,229.4 504.0,230.3 503.0,228.1 502.0,227.6 501.0,227.2 500.0,230.2 499.0,228.3 498.0,225.5 497.0,224.0 496.0,236.2 495.0,237.3 494.0,235.7 493.0,223.7 492.0,222.2 491.0,223.2 490.0,222.2 489.0,221.9 488.0,224.4 487.0,229.3 486.0,230.4 485.0,230.2 484.0,230.0 483.0,227.3 482.0,226.3 481.0,224.2 480.0,223.5 479.0,220.9 478.0,219.7 477.0,218.5 476.0,222.0 475.0,222.7 474.0,222.9 473.0,222.3 472.0,222.1 471.0,223.8 470.0,223.3 469.0,224.7 468.0,224.3 467.0,225.7 466.0,225.1 465.0,224.3 464.0,223.2 463.0,223.5 462.0,218.3 461.0,216.4 460.0,217.2 459.0,223.7 458.0,225.2 457.0,217.4 456.0,218.8 455.0,219.2 454.0,217.9 453.0,212.5 452.0,210.1 451.0,211.0 450.0,215.9 449.0,214.5 448.0,215.7 447.0,214.2 446.0,215.1 445.0,214.4 444.0,211.9 443.0,209.3 442.0,206.6 441.0,207.9 440.0,206.4 439.0,209.7 438.0,213.1 437.0,212.7 436.0,212.2 435.0,211.6 434.0,209.8 433.0,209.5 432.0,205.7 431.0,201.3 430.0,200.2 429.0,199.4 428.0,201.9 427.0,202.1 426.0,205.7 425.0,203.9 424.0,202.8 423.0,203.9 422.0,203.8 421.0,201.1 420.0,198.9 419.0,196.6 418.0,205.3 417.0,205.5 416.0,204.1 415.0,194.3 414.0,194.0 413.0,198.1 412.0,197.5 411.0,194.7 410.0,190.8 409.0,193.2 408.0,195.4 407.0,197.0 406.0,190.7 405.0,188.5 404.0,189.1 403.0,192.8 402.0,190.0 401.0,190.3 400.0,192.8 399.0,194.7 398.0,194.9 397.0,190.9 396.0,189.0 395.0,192.1 394.0,192.6 393.0,190.7 392.0,189.7 391.0,199.7 390.0,202.8 389.0,192.4 388.0,191.6 387.0,190.8 386.0,191.6 385.0,193.6 384.0,190.9 383.0,187.1 382.0,184.6 381.0,189.2 380.0,190.8 379.0,189.4 378.0,189.1 377.0,187.9 376.0,189.1 375.0,188.4 374.0,186.0 373.0,184.9 372.0,189.8 371.0,188.6 370.0,191.0 369.0,187.9 368.0,187.6 367.0,187.2 366.0,187.1 365.0,186.2 364.0,185.8 363.0,183.1 362.0,185.2 361.0,184.0 360.0,185.3 359.0,185.2 358.0,183.5 357.0,187.2 356.0,186.5 355.0,185.2 354.0,187.8 353.0,184.6 352.0,184.0 351.0,184.8 350.0,183.3 349.0,185.0 348.0,183.2 347.0,185.6 346.0,183.8 345.0,182.0 344.0,180.8 343.0,181.6 342.0,184.1 341.0,181.7 340.0,180.2 339.0,182.3 338.0,184.9 337.0,187.2 336.0,184.4 335.0,182.9 334.0,185.2 333.0,187.0 332.0,187.6 331.0,186.3 330.0,183.6 329.0,183.7 328.0,185.8 327.0,184.7 326.0,186.4 325.0,187.9 324.0,184.4 323.0,186.3 322.0,185.8 321.0,186.0 320.0,186.2 319.0,187.9 318.0,190.1 317.0,191.0 316.0,187.8 315.0,187.6 314.0,187.0 313.0,189.5 312.0,188.1 311.0,184.4 310.0,185.8 309.0,186.1 308.0,184.3 307.0,186.6 306.0,188.2 305.0,188.3 304.0,191.0 303.0,191.8 302.0,191.1 301.0,199.9 300.0,201.4 299.0,199.8 298.0,197.9 297.0,197.4 296.0,202.8 295.0,203.8 294.0,200.3 293.0,200.9 292.0,205.1 291.0,206.5 290.0,208.1 289.0,204.2 288.0,201.8 287.0,202.4 286.0,211.9 285.0,212.9 284.0,206.2 283.0,209.1 282.0,213.0 281.0,213.3 280.0,215.8 279.0,213.2 278.0,215.4 277.0,217.7 276.0,222.7 275.0,222.9 274.0,223.7 273.0,226.9 272.0,230.3 271.0,238.0 270.0,242.7 269.0,241.6 268.0,243.8 267.0,244.9 266.0,249.1 265.0,247.2 264.0,250.3 263.0,247.7 262.0,252.8 261.0,253.5 260.0,258.4 259.0,257.8 258.0,263.3 257.0,265.1 256.0,265.9 255.0,267.0 254.0,269.7 253.0,272.4 252.0,273.2 251.0,272.2 250.0,270.4 249.0,273.9 248.0,280.8 247.0,290.9 246.0,294.6 245.0,306.0 244.0,315.4 243.0,323.0 242.0,331.8Z" fill="#9900ff" stroke="#9900ff" stroke-width="1.2" stroke-linejoin="round" shape-rendering="crispEdges"/>
</g>
<g stroke="#000" stroke-width="7.5" fill="none" stroke-linecap="butt">
<path d="M223.75,25.0 H2112.25"/>
<path d="M238.50,21.25 V1558.75"/>
<path d="M208.75,1530.0 H2112.25"/>
<path d="M2108.50,21.25 V1533.75"/>
<path d="M223.75,1393.15 H238.50"/>
<path d="M208.75,1256.30 H238.50"/>
<path d="M223.75,1119.45 H238.50"/>
<path d="M208.75,982.60 H238.50"/>
<path d="M223.75,845.75 H238.50"/>
<path d="M208.75,708.90 H238.50"/>
<path d="M223.75,572.05 H238.50"/>
<path d="M208.75,435.20 H238.50"/>
<path d="M223.75,298.35 H238.50"/>
<path d="M208.75,161.50 H238.50"/>
<path d="M455.88,1530.00 V1543.75"/>
<path d="M673.25,1530.00 V1558.75"/>
<path d="M890.62,1530.00 V1543.75"/>
<path d="M1108.00,1530.00 V1558.75"/>
<path d="M1325.38,1530.00 V1543.75"/>
<path d="M1542.75,1530.00 V1558.75"/>
<path d="M1760.12,1530.00 V1543.75"/>
<path d="M1977.50,1530.00 V1558.75"/>
</g>
<g font-family="'Liberation Sans', sans-serif" fill="#000">
<text transform="translate(187.5,1548.0) scale(1,1.04)" font-size="58.5" text-anchor="end">0</text>
<text transform="translate(187.5,1274.3) scale(1,1.04)" font-size="58.5" text-anchor="end">2</text>
<text transform="translate(187.5,1000.6) scale(1,1.04)" font-size="58.5" text-anchor="end">4</text>
<text transform="translate(187.5,726.9) scale(1,1.04)" font-size="58.5" text-anchor="end">6</text>
<text transform="translate(187.5,453.2) scale(1,1.04)" font-size="58.5" text-anchor="end">8</text>
<text transform="translate(187.5,179.5) scale(1,1.04)" font-size="58.5" text-anchor="end">10</text>
<text transform="translate(238.0,1624.5) scale(1,1.04)" font-size="58.5" text-anchor="middle">0</text>
<text transform="translate(672.8,1624.5) scale(1,1.04)" font-size="58.5" text-anchor="middle">5</text>
<text transform="translate(1107.5,1624.5) scale(1,1.04)" font-size="58.5" text-anchor="middle">10</text>
<text transform="translate(1542.2,1624.5) scale(1,1.04)" font-size="58.5" text-anchor="middle">15</text>
<text transform="translate(1977.0,1624.5) scale(1,1.04)" font-size="58.5" text-anchor="middle">20</text>
<text transform="translate(1089.0,1712.0) scale(1,1.025)" font-size="81" text-anchor="start"><tspan font-style="italic">Time</tspan>/h</text>
<text transform="translate(92.0,957.0) rotate(-90) scale(1,1.04)" font-size="82" text-anchor="start" letter-spacing="0.3"><tspan font-style="italic">j</tspan>/mA cm<tspan font-size="59" dy="-33">−</tspan><tspan font-size="59">2</tspan></text>
<path d="M395,1109 H507.5" stroke="#4d4d4d" stroke-width="8.5" stroke-linecap="round" fill="none"/>
<text transform="translate(520.5,1125.5) scale(1,1.02)" font-size="50" text-anchor="start">Co<tspan font-size="35" dy="12">3</tspan><tspan dy="-12">O</tspan><tspan font-size="35" dy="12">4</tspan></text>
<path d="M395,1181 H507.5" stroke="#fdb967" stroke-width="6" stroke-linecap="round" fill="none"/>
<text transform="translate(520.5,1196.5) scale(1,1.02)" font-size="50" text-anchor="start">1500</text>
<path d="M395,1242 H507.5" stroke="#e99105" stroke-width="6" stroke-linecap="round" fill="none"/>
<text transform="translate(520.5,1258.0) scale(1,1.02)" font-size="50" text-anchor="start">APS-1500</text>
<path d="M395,1303 H507.5" stroke="#008000" stroke-width="6" stroke-linecap="round" fill="none"/>
<text transform="translate(520.5,1319.0) scale(1,1.02)" font-size="50" text-anchor="start">PL-aged-3000</text>
<path d="M395,1365 H507.5" stroke="#9900ff" stroke-width="6" stroke-linecap="round" fill="none"/>
<text transform="translate(520.5,1380.5) scale(1,1.02)" font-size="50" text-anchor="start">PL-fresh-3000</text>
</g>
</svg>
</body>
</html>
